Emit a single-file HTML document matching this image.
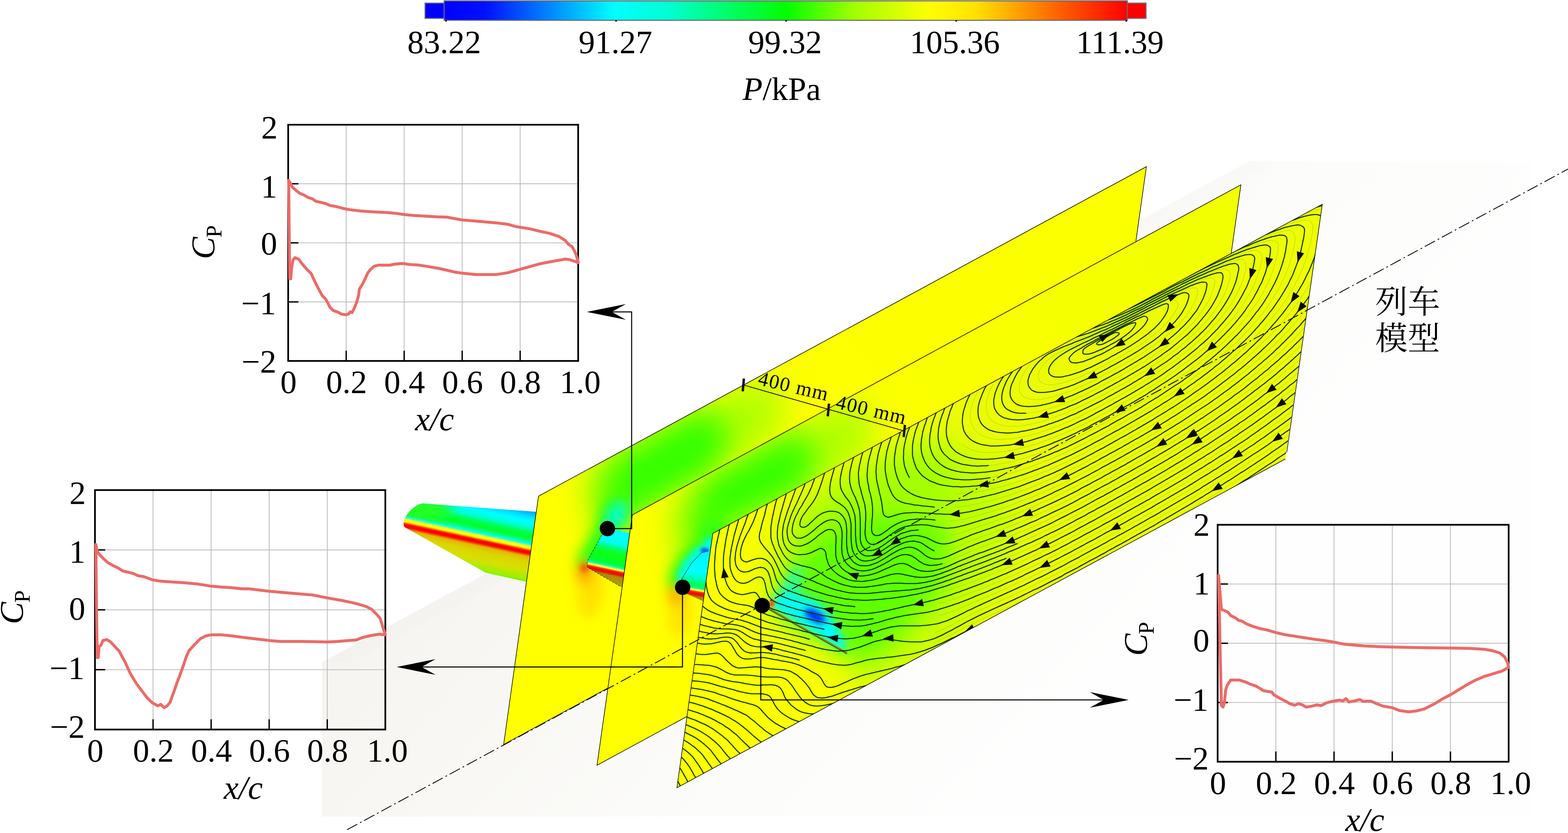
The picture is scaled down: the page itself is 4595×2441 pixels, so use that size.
<!DOCTYPE html>
<html><head><meta charset="utf-8"><title>Figure</title>
<style>html,body{margin:0;padding:0;background:#fff;}body{width:4595px;height:2441px;overflow:hidden;font-family:"Liberation Serif",serif;}svg{display:block;}</style></head>
<body>
<svg width="4595" height="2441" viewBox="0 0 4595 2441">
<defs>
<linearGradient id="gnd" gradientUnits="userSpaceOnUse" x1="1400" y1="1000" x2="2900" y2="2400">
<stop offset="0" stop-color="#f4f2ee"/><stop offset="0.35" stop-color="#f8f7f4"/><stop offset="0.7" stop-color="#fcfcfa"/><stop offset="1" stop-color="#fefefe"/></linearGradient>
<linearGradient id="gnd2" gradientUnits="userSpaceOnUse" x1="3660" y1="473" x2="3700" y2="546">
<stop offset="0" stop-color="#d8d6d0" stop-opacity="0.07"/><stop offset="1" stop-color="#d8d6d0" stop-opacity="0"/></linearGradient>
<clipPath id="cp1"><polygon points="1578.0,1454.0 3359.5,488.4 3257.0,1217.0 1476.0,2181.7"/></clipPath>
<clipPath id="cp2"><polygon points="1853.0,1509.0 3636.4,541.5 3533.0,1275.0 1749.6,2242.5"/></clipPath>
<clipPath id="cp3"><polygon points="2089.0,1563.0 3875.0,598.5 3766.4,1345.2 1983.7,2308.4"/></clipPath>
<filter id="bl60" x="-60%" y="-60%" width="220%" height="220%"><feGaussianBlur stdDeviation="60"/></filter>
<filter id="bl45" x="-60%" y="-60%" width="220%" height="220%"><feGaussianBlur stdDeviation="45"/></filter>
<filter id="bl35" x="-60%" y="-60%" width="220%" height="220%"><feGaussianBlur stdDeviation="35"/></filter>
<filter id="bl18" x="-250%" y="-250%" width="600%" height="600%"><feGaussianBlur stdDeviation="18"/></filter>
<filter id="bl9" x="-250%" y="-250%" width="600%" height="600%"><feGaussianBlur stdDeviation="9"/></filter>
<filter id="bl4" x="-250%" y="-250%" width="600%" height="600%"><feGaussianBlur stdDeviation="4"/></filter>
<linearGradient id="wg0" gradientUnits="userSpaceOnUse" x1="1215.5" y1="1409.9" x2="1166.8" y2="1634.7"><stop offset="0.0000" stop-color="#0080ff"/><stop offset="0.0696" stop-color="#00a8ff"/><stop offset="0.1304" stop-color="#00e0ff"/><stop offset="0.1913" stop-color="#00ffff"/><stop offset="0.2696" stop-color="#00ffd0"/><stop offset="0.3217" stop-color="#00ff60"/><stop offset="0.3913" stop-color="#00ff20"/><stop offset="0.4348" stop-color="#00ff80"/><stop offset="0.4609" stop-color="#00ffe0"/><stop offset="0.4826" stop-color="#40ffc0"/><stop offset="0.5000" stop-color="#f0ff20"/><stop offset="0.5304" stop-color="#ffff00"/><stop offset="0.5478" stop-color="#ff7000"/><stop offset="0.5652" stop-color="#ff0000"/><stop offset="0.5957" stop-color="#ff0000"/><stop offset="0.6130" stop-color="#f05000"/><stop offset="0.6348" stop-color="#e0b800"/><stop offset="0.6957" stop-color="#dcd400"/><stop offset="0.8043" stop-color="#d8e000"/><stop offset="0.9130" stop-color="#a0f000"/><stop offset="1.0000" stop-color="#40ff00"/></linearGradient>
<clipPath id="cpwu"><polygon points="1150,1440 1620,1440 1620,1605.9 1193.1,1513.5 1150,1504.2"/></clipPath>
<clipPath id="cpw"><path d="M1237,1475 L1574,1500 L1543,1705 L1423,1678 L1186,1545 Q1178,1534 1190,1512 Q1208,1484 1237,1475 Z"/></clipPath>
<linearGradient id="pb1" gradientUnits="userSpaceOnUse" x1="1600" y1="1700" x2="3300" y2="800"><stop offset="0" stop-color="#ffff00"/><stop offset="0.45" stop-color="#feff00"/><stop offset="1" stop-color="#fcff00"/></linearGradient>
<linearGradient id="wg1" gradientUnits="userSpaceOnUse" x1="1747.4" y1="1534.8" x2="1706.2" y2="1725.4"><stop offset="0.0000" stop-color="#00ffff"/><stop offset="0.2308" stop-color="#00fff0"/><stop offset="0.3026" stop-color="#00ff70"/><stop offset="0.3949" stop-color="#10ff10"/><stop offset="0.5385" stop-color="#00ff30"/><stop offset="0.5744" stop-color="#00ffa0"/><stop offset="0.6000" stop-color="#d0ff60"/><stop offset="0.6154" stop-color="#ffff20"/><stop offset="0.6359" stop-color="#ff3000"/><stop offset="0.6667" stop-color="#f00000"/><stop offset="0.6923" stop-color="#d83000"/><stop offset="0.7128" stop-color="#b08800"/><stop offset="0.8462" stop-color="#b8a000"/><stop offset="1.0000" stop-color="#c0b000"/></linearGradient>
<linearGradient id="pb2" gradientUnits="userSpaceOnUse" x1="1900" y1="1800" x2="3600" y2="900"><stop offset="0" stop-color="#ffff00"/><stop offset="0.45" stop-color="#fcff00"/><stop offset="1" stop-color="#f2ff00"/></linearGradient>
<linearGradient id="wg2" gradientUnits="userSpaceOnUse" x1="2021.2" y1="1604.9" x2="1993.2" y2="1767.4"><stop offset="0.0000" stop-color="#00f0ff"/><stop offset="0.3939" stop-color="#00ffff"/><stop offset="0.5152" stop-color="#00ffc0"/><stop offset="0.6242" stop-color="#00ff50"/><stop offset="0.6848" stop-color="#00ff80"/><stop offset="0.7091" stop-color="#c0ff60"/><stop offset="0.7273" stop-color="#ffff20"/><stop offset="0.7515" stop-color="#ff3000"/><stop offset="0.7879" stop-color="#f00000"/><stop offset="0.8182" stop-color="#d83000"/><stop offset="0.8424" stop-color="#b08800"/><stop offset="1.0000" stop-color="#b8a000"/></linearGradient>
<linearGradient id="pb3" gradientUnits="userSpaceOnUse" x1="2100" y1="2000" x2="3800" y2="1080"><stop offset="0" stop-color="#ffff00"/><stop offset="0.3" stop-color="#f4fd02"/><stop offset="0.55" stop-color="#ecfb06"/><stop offset="1" stop-color="#eefc04"/></linearGradient>
<linearGradient id="cb" x1="0" y1="0" x2="1" y2="0">
<stop offset="0" stop-color="#0000ff"/><stop offset="0.06" stop-color="#0010ff"/><stop offset="0.25" stop-color="#00ffff"/><stop offset="0.33" stop-color="#00ffd0"/><stop offset="0.5" stop-color="#00ff00"/><stop offset="0.6" stop-color="#a0ff00"/><stop offset="0.71" stop-color="#ffff00"/><stop offset="0.78" stop-color="#ffe000"/><stop offset="0.9" stop-color="#ff6000"/><stop offset="1" stop-color="#ff0000"/></linearGradient>
</defs>
<polygon points="943,1941 3660,473 4485,473 4485,2393 943,2393" fill="url(#gnd)"/>
<polygon points="943,1941 3660,473 3752,473 1035,1941" fill="url(#gnd2)"/>
<g clip-path="url(#cpw)"><rect x="1150" y="1440" width="460" height="300" fill="url(#wg0)"/>
<g clip-path="url(#cpwu)"><ellipse cx="1230" cy="1492" rx="95" ry="40" fill="#20ff20" filter="url(#bl18)"/></g>
</g>
<g clip-path="url(#cp1)">
<polygon points="1578.0,1454.0 3359.5,488.4 3257.0,1217.0 1476.0,2181.7" fill="url(#pb1)"/>
<g filter="url(#bl45)">
<path d="M1745,1580 L1708,1400 L1722,1376 L2230,1100 L2310,1180 L2270,1285 L1853,1509 L1850,1560 L1790,1580 Z" fill="#b4ff00"/>
</g>
<g filter="url(#bl45)">
<path d="M1782,1545 L1762,1430 L1795,1345 L2070,1195 L2140,1270 L2100,1370 L1853,1509 L1850,1550 Z" fill="#30ff00"/>
</g>
<path d="M1800,1490 L1770,1560 L1722,1640" fill="none" stroke="#30ff10" stroke-width="60" stroke-linecap="round" filter="url(#bl18)"/>
<g filter="url(#bl18)">
<ellipse cx="1806.0" cy="1512.0" rx="26.0" ry="46.0" transform="rotate(28.0 1806.0 1512.0)" fill="#00ffd8" />
<ellipse cx="1732.0" cy="1735.0" rx="38.0" ry="78.0" transform="rotate(8.0 1732.0 1735.0)" fill="#ffd400" opacity="0.65"/>
<ellipse cx="1712.0" cy="1680.0" rx="24.0" ry="34.0" transform="rotate(0.0 1712.0 1680.0)" fill="#ffa800" />
</g>
<ellipse cx="1713.0" cy="1664.0" rx="11.0" ry="13.0" transform="rotate(0.0 1713.0 1664.0)" fill="#ff3000" filter="url(#bl9)"/>
</g>
<polygon points="1578.0,1454.0 3359.5,488.4 3257.0,1217.0 1476.0,2181.7" fill="none" stroke="#000" stroke-width="1.7"/>
<path d="M1764,1567 L1780,1549 L1848,1562 L1825,1721 L1819,1719 L1721,1662 L1721,1644 Z" fill="url(#wg1)"/>
<path d="M1764,1567 L1721,1644 L1721,1662 L1819,1719" fill="none" stroke="#223" stroke-width="1.6" stroke-dasharray="7 3" opacity="0.8"/>
<g clip-path="url(#cp2)">
<polygon points="1853.0,1509.0 3636.4,541.5 3533.0,1275.0 1749.6,2242.5" fill="url(#pb2)"/>
<g filter="url(#bl45)">
<path d="M2000,1700 L1964,1530 L1985,1440 L2490,1165 L2570,1245 L2530,1350 L2089,1563 L2085,1610 L2040,1660 Z" fill="#b4ff00"/>
</g>
<g filter="url(#bl45)">
<path d="M2042,1650 L2022,1530 L2060,1410 L2330,1265 L2400,1335 L2350,1430 L2089,1563 L2080,1612 Z" fill="#30ff00"/>
</g>
<path d="M2090,1560 L2075,1610 L2050,1625 L2022,1655 L1998,1696" fill="none" stroke="#30ff10" stroke-width="80" stroke-linecap="round" filter="url(#bl18)"/>
<path d="M2082,1590 L2070,1612 L2048,1622 L2020,1652 L2000,1690" fill="none" stroke="#00ffe0" stroke-width="34" stroke-linecap="round" filter="url(#bl9)"/>
<g filter="url(#bl18)">
<ellipse cx="1992.0" cy="1800.0" rx="34.0" ry="66.0" transform="rotate(6.0 1992.0 1800.0)" fill="#ffd400" opacity="0.65"/>
<ellipse cx="1980.0" cy="1745.0" rx="20.0" ry="30.0" transform="rotate(0.0 1980.0 1745.0)" fill="#ffa000" />
</g>
<ellipse cx="2066.0" cy="1614.0" rx="13.0" ry="8.0" transform="rotate(10.0 2066.0 1614.0)" fill="#0050ff" filter="url(#bl4)"/>
</g>
<polygon points="1853.0,1509.0 3636.4,541.5 3533.0,1275.0 1749.6,2242.5" fill="none" stroke="#000" stroke-width="1.7"/>
<path d="M1996,1700 L2025,1652 L2055,1620 L2076,1615 L2083,1612 L2061,1762 L2019,1743 L2000,1735 Z" fill="url(#wg2)"/>
<path d="M1996,1700 L2025,1652 L2055,1620 L2076,1615" fill="none" stroke="#123" stroke-width="1.6" opacity="0.7"/>
<g clip-path="url(#cp3)">
<polygon points="2089.0,1563.0 3875.0,598.5 3766.4,1345.2 1983.7,2308.4" fill="url(#pb3)"/>
<g filter="url(#bl60)">
<path d="M2270,1660 L2400,1480 L2650,1350 L2900,1330 L2980,1500 L2900,1750 L2700,1950 L2540,2040 L2490,1930 L2250,1790 Z" fill="#c0ff00"/>
</g>
<path d="M2300,1560 L2420,1440 L2640,1325 L2780,1290 L2800,1500 L2500,1620 L2330,1690 Z" fill="#a4ff00" filter="url(#bl45)"/>
<g filter="url(#bl35)">
<path d="M2300,1700 L2400,1570 L2600,1500 L2780,1540 L2770,1720 L2620,1880 L2520,1950 L2490,1920 L2270,1790 Z" fill="#60ff00"/>
</g>
<g filter="url(#bl18)">
<path d="M2262,1766 L2300,1720 L2330,1660 L2350,1665 L2330,1735 L2400,1770 L2445,1830 L2482,1908 Z" fill="#00ffe8"/>
</g>
<path d="M2258,1772 L2290,1750 L2383,1760 L2428,1805 L2470,1877 L2481,1908 Z" fill="#00fff4" filter="url(#bl9)"/>
<ellipse cx="2388.0" cy="1805.0" rx="34.0" ry="15.0" transform="rotate(30.0 2388.0 1805.0)" fill="#0020ff" filter="url(#bl9)"/>
<ellipse cx="2262.0" cy="1768.0" rx="7.0" ry="12.0" transform="rotate(0.0 2262.0 1768.0)" fill="#ff4000" filter="url(#bl4)"/>
<line x1="2252" y1="1783" x2="2482" y2="1914" stroke="#7a8a18" stroke-width="6"/>
<line x1="2252" y1="1785.5" x2="2482" y2="1916.5" stroke="#3a4410" stroke-width="2"/>
<path d="M3292 1040Q3311 1028 3321 1023Q3330 1017 3340 1011Q3349 1004 3359 998Q3368 991 3377 984Q3386 978 3395 970Q3403 962 3412 954Q3420 946 3427 937Q3434 929 3441 918Q3447 908 3451 898Q3455 887 3445 881Q3435 876 3424 880Q3413 885 3403 889Q3393 894 3383 899Q3373 904 3363 909Q3353 914 3343 919Q3333 924 3323 930Q3312 935 3302 940Q3292 945 3282 950Q3272 955 3262 959Q3252 964 3242 969Q3232 973 3222 978Q3212 983 3201 987Q3190 992 3180 997Q3169 1002 3158 1007Q3147 1011 3137 1016Q3127 1021 3117 1026Q3107 1031 3097 1037Q3086 1043 3078 1049Q3069 1056 3061 1064Q3054 1073 3048 1082Q3043 1092 3043 1103Q3043 1115 3052 1121Q3062 1127 3073 1128Q3084 1128 3095 1126Q3106 1124 3117 1121Q3129 1118 3139 1114Q3150 1111 3161 1106Q3171 1102 3182 1097Q3193 1092 3203 1087Q3213 1082 3223 1077Q3233 1072 3244 1066Q3254 1061 3264 1055Q3274 1050 3283 1045L3292 1040 M3317 1054Q3336 1042 3345 1036Q3355 1030 3364 1024Q3374 1017 3383 1011Q3392 1004 3401 997Q3410 991 3419 983Q3428 976 3436 968Q3445 961 3453 952Q3461 944 3468 936Q3475 927 3482 917Q3489 908 3494 898Q3500 888 3504 877Q3508 867 3510 855Q3513 844 3501 844Q3489 843 3478 847Q3468 852 3457 856Q3446 861 3436 866Q3426 870 3416 875Q3406 880 3396 885Q3386 890 3376 895Q3366 901 3356 906Q3345 911 3335 916Q3325 921 3315 926Q3305 931 3295 936Q3285 941 3275 945Q3265 950 3254 955Q3243 960 3233 964Q3222 969 3211 973Q3200 978 3190 982Q3179 986 3168 990Q3157 993 3147 997Q3136 1000 3126 1004Q3115 1007 3104 1011Q3094 1015 3083 1019Q3072 1023 3062 1029Q3052 1035 3043 1042Q3034 1049 3026 1058Q3018 1066 3011 1076Q3004 1086 2999 1096Q2993 1105 2990 1116Q2986 1126 2987 1138Q2987 1149 2994 1157Q3002 1165 3013 1168Q3023 1171 3035 1171Q3046 1171 3057 1169Q3069 1167 3080 1164Q3091 1161 3102 1158Q3112 1155 3123 1151Q3134 1147 3145 1143Q3155 1138 3166 1133Q3177 1129 3187 1124Q3197 1119 3207 1114Q3217 1109 3227 1103Q3237 1098 3248 1092Q3258 1087 3268 1081Q3278 1076 3288 1070Q3298 1064 3308 1059L3317 1054 M2984 1066Q2970 1085 2963 1095Q2957 1105 2951 1115Q2945 1126 2942 1137Q2938 1147 2937 1158Q2935 1169 2939 1180Q2942 1190 2951 1198Q2960 1205 2971 1208Q2982 1211 2993 1211Q3005 1211 3016 1210Q3027 1209 3038 1207Q3049 1204 3061 1201Q3072 1198 3082 1195Q3093 1192 3104 1188Q3114 1184 3125 1180Q3136 1176 3147 1171Q3158 1166 3168 1162Q3178 1157 3188 1152Q3198 1147 3208 1142Q3218 1137 3228 1131Q3238 1126 3248 1120Q3258 1115 3269 1109Q3279 1104 3289 1098Q3299 1092 3309 1086Q3319 1080 3330 1074Q3340 1068 3349 1062Q3359 1056 3368 1050Q3378 1044 3387 1037Q3397 1031 3406 1024Q3415 1018 3424 1011Q3433 1003 3442 996Q3451 989 3460 981Q3468 974 3476 966Q3484 958 3492 950Q3500 941 3508 932Q3515 923 3522 913Q3529 903 3535 893Q3541 883 3546 873Q3551 862 3554 851Q3558 840 3560 828Q3562 817 3551 815Q3540 814 3530 817Q3519 821 3508 825Q3497 829 3487 834Q3476 839 3466 844Q3456 848 3446 853Q3436 858 3426 863Q3416 868 3405 873Q3395 878 3385 883Q3375 889 3365 894Q3355 899 3345 904Q3335 910 3325 914Q3315 919 3305 924Q3295 929 3284 934Q3274 938 3263 943Q3253 947 3242 952Q3231 956 3221 960Q3210 964 3199 967Q3189 971 3178 974Q3168 977 3156 980Q3145 983 3139 984L3133 985 M2929 1096Q2917 1114 2911 1124Q2906 1134 2901 1144Q2897 1154 2894 1165Q2890 1176 2890 1188Q2889 1199 2892 1210Q2895 1221 2904 1230Q2912 1238 2922 1242Q2933 1246 2944 1248Q2955 1250 2967 1249Q2979 1249 2990 1248Q3001 1247 3012 1245Q3024 1242 3035 1240Q3046 1237 3057 1234Q3067 1230 3078 1227Q3089 1223 3099 1219Q3110 1215 3121 1211Q3132 1206 3142 1202Q3153 1197 3163 1192Q3173 1188 3183 1183Q3193 1178 3203 1173Q3213 1167 3224 1162Q3234 1156 3244 1151Q3254 1145 3264 1140Q3274 1134 3284 1129Q3295 1123 3305 1117Q3315 1111 3325 1105Q3335 1099 3345 1093Q3354 1088 3364 1082Q3373 1076 3383 1069Q3392 1063 3402 1057Q3411 1050 3421 1043Q3430 1036 3439 1029Q3448 1023 3457 1016Q3465 1008 3474 1001Q3483 993 3492 985Q3501 977 3509 968Q3518 960 3526 951Q3534 942 3542 933Q3549 924 3556 915Q3563 905 3569 896Q3575 887 3581 876Q3587 865 3591 855Q3595 845 3599 834Q3603 822 3605 811Q3608 799 3599 792Q3589 786 3578 789Q3567 792 3556 796Q3545 800 3535 805Q3524 809 3513 814Q3502 819 3492 823Q3482 828 3472 833Q3462 838 3452 843Q3442 848 3432 853Q3422 858 3412 863Q3402 868 3391 873Q3381 879 3371 884Q3361 889 3351 894Q3341 900 3331 905Q3321 909 3311 914Q3301 919 3290 924Q3279 928 3268 933Q3258 937 3247 941Q3236 945 3225 949Q3215 952 3204 956Q3194 959 3184 961L3174 963 M2878 1123Q2867 1143 2862 1153Q2856 1164 2853 1174Q2849 1185 2846 1197Q2844 1208 2843 1220Q2843 1231 2847 1242Q2850 1253 2858 1261Q2865 1270 2875 1275Q2886 1281 2897 1284Q2908 1286 2919 1287Q2930 1288 2942 1287Q2953 1287 2964 1286Q2975 1284 2987 1282Q2998 1280 3009 1278Q3020 1275 3032 1272Q3043 1268 3054 1265Q3064 1262 3075 1258Q3086 1254 3096 1250Q3107 1246 3118 1241Q3129 1237 3140 1232Q3150 1227 3160 1222Q3170 1217 3180 1212Q3191 1207 3201 1202Q3211 1197 3221 1192Q3231 1186 3241 1181Q3251 1175 3261 1170Q3272 1164 3282 1158Q3292 1153 3302 1147Q3312 1141 3323 1135Q3333 1129 3343 1123Q3353 1117 3363 1111Q3372 1105 3381 1099Q3391 1093 3400 1086Q3410 1080 3419 1073Q3429 1067 3438 1060Q3448 1053 3457 1046Q3466 1039 3474 1032Q3483 1025 3492 1018Q3501 1010 3510 1002Q3519 994 3527 986Q3535 978 3543 970Q3552 962 3559 953Q3566 945 3573 937Q3581 928 3588 919Q3595 909 3602 899Q3609 889 3615 879Q3621 869 3626 858Q3631 848 3636 837Q3640 826 3644 815Q3647 803 3650 792Q3653 780 3649 769Q3646 758 3635 760Q3624 761 3614 764Q3603 768 3592 772Q3582 776 3571 780Q3560 784 3549 789Q3538 794 3528 799Q3518 803 3508 808Q3498 813 3488 818Q3478 822 3468 827Q3458 832 3448 837Q3438 843 3428 848Q3418 853 3408 858Q3398 863 3387 869Q3377 874 3367 879Q3357 885 3347 890Q3337 895 3327 900Q3317 904 3306 909Q3295 914 3284 919Q3274 923 3263 927Q3252 931 3242 934Q3231 938 3221 941L3210 944 M2819 1302Q2837 1314 2847 1318Q2858 1322 2869 1324Q2880 1325 2891 1326Q2902 1326 2913 1326Q2924 1325 2935 1324Q2947 1323 2958 1321Q2969 1319 2980 1316Q2991 1314 3002 1311Q3013 1308 3024 1305Q3035 1302 3046 1298Q3057 1294 3067 1290Q3078 1286 3089 1282Q3099 1278 3110 1273Q3121 1269 3132 1264Q3143 1259 3153 1254Q3163 1250 3173 1245Q3183 1240 3193 1235Q3203 1229 3213 1224Q3223 1219 3233 1213Q3244 1208 3254 1202Q3264 1196 3274 1191Q3284 1185 3294 1179Q3304 1174 3315 1168Q3325 1162 3335 1156Q3345 1150 3356 1144Q3366 1137 3375 1131Q3385 1125 3394 1119Q3404 1113 3413 1107Q3422 1101 3432 1094Q3442 1087 3451 1080Q3461 1073 3470 1066Q3480 1059 3489 1052Q3497 1045 3506 1038Q3515 1031 3524 1023Q3532 1016 3541 1008Q3549 1000 3557 993Q3565 985 3574 976Q3582 968 3590 959Q3598 950 3606 941Q3614 932 3621 922Q3628 913 3635 903Q3642 893 3648 883Q3655 873 3660 863Q3666 853 3671 843Q3676 833 3680 822Q3684 812 3687 801Q3691 790 3694 779Q3696 768 3698 757Q3700 746 3692 739Q3683 731 3672 734Q3661 736 3650 739Q3639 743 3629 747Q3618 751 3607 755Q3596 760 3586 764Q3575 769 3564 774Q3553 779 3543 784Q3533 788 3523 793Q3513 798 3503 803Q3493 808 3483 813Q3473 818 3463 823Q3452 828 3442 833Q3432 838 3422 844Q3412 849 3402 854Q3392 859 3382 865Q3372 870 3362 875Q3351 881 3341 886Q3331 891 3321 895Q3311 900 3300 904Q3290 909 3279 913Q3268 917 3258 921Q3247 924 3246 924L3246 924 M2811 1358Q2832 1363 2844 1364Q2855 1365 2866 1365Q2878 1366 2889 1365Q2900 1364 2911 1363Q2922 1361 2933 1359Q2944 1357 2956 1355Q2967 1352 2979 1349Q2990 1346 3000 1343Q3011 1340 3022 1336Q3032 1333 3043 1329Q3054 1325 3064 1321Q3075 1317 3086 1313Q3097 1308 3107 1304Q3118 1299 3129 1294Q3140 1289 3150 1285Q3160 1280 3170 1275Q3180 1270 3190 1264Q3200 1259 3210 1254Q3221 1248 3231 1243Q3241 1237 3251 1232Q3261 1226 3271 1220Q3281 1215 3292 1209Q3302 1203 3312 1198Q3322 1192 3332 1186Q3343 1180 3353 1174Q3363 1167 3372 1162Q3382 1156 3391 1150Q3401 1144 3410 1138Q3420 1132 3429 1125Q3438 1119 3448 1112Q3458 1106 3467 1099Q3477 1092 3486 1085Q3496 1078 3505 1071Q3513 1064 3522 1057Q3531 1050 3540 1043Q3549 1035 3558 1027Q3566 1020 3575 1012Q3583 1004 3591 996Q3599 989 3607 980Q3615 972 3624 963Q3632 953 3640 945Q3647 936 3655 926Q3662 916 3669 907Q3676 898 3683 888Q3689 878 3695 869Q3700 859 3706 849Q3711 839 3716 829Q3721 818 3725 808Q3729 797 3733 785Q3736 774 3739 763Q3742 752 3744 741Q3746 729 3746 718Q3746 707 3735 706Q3724 704 3713 706Q3702 709 3691 712Q3681 716 3670 720Q3659 724 3648 728Q3638 733 3627 737Q3616 742 3605 747Q3594 751 3584 756Q3574 761 3564 765Q3554 770 3544 775Q3534 780 3524 785Q3514 790 3504 795Q3494 800 3484 805Q3474 810 3464 815Q3454 820 3443 826Q3433 831 3423 836Q3413 841 3403 847Q3393 852 3383 857Q3373 863 3363 868Q3352 873 3342 878Q3332 883 3322 888Q3312 892 3301 897Q3291 901 3289 902L3287 903 M2804 1405Q2827 1406 2839 1406Q2851 1406 2862 1405Q2873 1404 2884 1402Q2895 1401 2906 1399Q2917 1397 2928 1394Q2940 1392 2951 1389Q2962 1386 2974 1383Q2985 1379 2996 1376Q3006 1372 3017 1369Q3028 1365 3038 1361Q3048 1357 3059 1353Q3069 1349 3080 1345Q3090 1340 3101 1336Q3112 1331 3122 1326Q3132 1322 3142 1317Q3152 1312 3162 1307Q3172 1302 3182 1297Q3192 1291 3203 1286Q3213 1281 3223 1275Q3233 1270 3243 1264Q3253 1259 3263 1253Q3274 1247 3284 1242Q3294 1236 3304 1230Q3314 1225 3324 1219Q3335 1213 3345 1207Q3355 1201 3365 1195Q3376 1188 3385 1183Q3394 1177 3404 1171Q3413 1165 3423 1159Q3432 1153 3442 1146Q3451 1140 3461 1133Q3470 1127 3480 1120Q3489 1113 3499 1106Q3508 1099 3518 1092Q3527 1085 3536 1078Q3545 1071 3554 1064Q3563 1057 3572 1049Q3580 1042 3589 1034Q3598 1027 3606 1019Q3614 1011 3623 1003Q3631 995 3639 987Q3647 979 3655 970Q3664 961 3671 952Q3679 944 3686 935Q3694 925 3701 917Q3707 908 3714 898Q3721 889 3727 879Q3733 870 3739 860Q3745 849 3751 839Q3756 829 3761 818Q3766 808 3770 797Q3775 786 3779 774Q3782 763 3785 752Q3788 741 3791 729Q3793 718 3795 706Q3797 695 3792 685Q3788 675 3776 675Q3764 676 3753 679Q3742 682 3731 685Q3720 689 3710 693Q3699 697 3688 701Q3677 706 3667 710Q3656 715 3646 719Q3636 724 3626 728Q3616 733 3606 738Q3596 742 3586 747Q3576 752 3566 757Q3556 762 3545 767Q3535 772 3525 777Q3515 782 3505 787Q3495 792 3485 797Q3475 802 3465 808Q3455 813 3445 818Q3434 823 3424 829Q3414 834 3404 839Q3394 845 3388 848L3383 850 M2798 1447Q2820 1446 2832 1445Q2843 1444 2854 1443Q2866 1441 2877 1439Q2888 1437 2899 1435Q2910 1432 2921 1429Q2932 1427 2943 1424Q2954 1421 2965 1417Q2976 1414 2986 1410Q2997 1407 3007 1403Q3018 1399 3029 1395Q3040 1391 3050 1386Q3061 1382 3072 1378Q3083 1373 3093 1368Q3104 1363 3114 1359Q3124 1354 3134 1349Q3144 1344 3154 1339Q3165 1334 3175 1329Q3185 1324 3195 1318Q3205 1313 3215 1308Q3225 1302 3235 1297Q3245 1291 3256 1286Q3266 1280 3276 1274Q3286 1269 3296 1263Q3306 1257 3317 1251Q3327 1246 3337 1240Q3347 1234 3357 1228Q3368 1222 3378 1216Q3388 1209 3397 1204Q3407 1198 3416 1192Q3426 1186 3435 1180Q3445 1174 3454 1167Q3464 1161 3473 1155Q3483 1148 3492 1142Q3502 1135 3511 1128Q3521 1121 3530 1115Q3539 1108 3548 1101Q3557 1094 3566 1087Q3575 1080 3584 1073Q3593 1065 3601 1058Q3610 1051 3619 1043Q3628 1035 3637 1027Q3646 1018 3654 1011Q3662 1003 3671 995Q3679 987 3687 978Q3695 969 3703 961Q3710 953 3717 944Q3725 936 3732 927Q3739 918 3747 908Q3754 899 3761 889Q3767 879 3774 870Q3780 860 3786 850Q3792 840 3797 829Q3803 819 3808 808Q3813 798 3817 787Q3821 777 3825 766Q3829 755 3832 744Q3835 733 3838 722Q3841 711 3843 699Q3845 688 3847 677Q3849 666 3845 655Q3840 645 3829 645Q3817 645 3806 648Q3795 650 3784 654Q3773 657 3763 661Q3752 665 3741 669Q3730 673 3720 678Q3709 682 3698 687Q3687 692 3676 697Q3666 701 3656 706Q3646 711 3635 715Q3625 720 3620 723L3615 725 M2792 1487Q2814 1485 2825 1484Q2836 1482 2848 1480Q2859 1478 2870 1475Q2881 1473 2893 1470Q2904 1467 2915 1464Q2927 1461 2937 1457Q2948 1454 2959 1451Q2969 1447 2980 1443Q2991 1440 3001 1436Q3012 1432 3023 1427Q3033 1423 3044 1419Q3055 1414 3066 1409Q3077 1405 3087 1400Q3098 1395 3108 1390Q3118 1386 3128 1381Q3138 1376 3148 1371Q3158 1366 3169 1361Q3179 1355 3189 1350Q3199 1345 3209 1339Q3219 1334 3229 1328Q3239 1323 3250 1317Q3260 1312 3270 1306Q3280 1300 3290 1295Q3300 1289 3310 1283Q3321 1277 3331 1272Q3341 1266 3351 1260Q3361 1254 3372 1248Q3382 1242 3392 1235Q3402 1229 3412 1223Q3421 1218 3431 1212Q3440 1206 3449 1200Q3459 1194 3468 1187Q3478 1181 3487 1175Q3497 1168 3506 1162Q3516 1155 3525 1149Q3535 1142 3544 1135Q3554 1128 3564 1121Q3573 1113 3582 1107Q3591 1100 3599 1093Q3608 1086 3617 1079Q3626 1072 3635 1064Q3644 1057 3653 1049Q3661 1041 3670 1033Q3678 1026 3686 1018Q3695 1010 3703 1001Q3712 993 3720 985Q3728 977 3736 968Q3743 960 3751 952Q3758 943 3766 934Q3773 925 3781 916Q3788 907 3795 897Q3802 888 3809 878Q3816 868 3822 858Q3828 849 3834 839Q3839 830 3845 819Q3851 808 3856 798Q3861 787 3865 777Q3870 766 3873 756Q3877 745 3881 734Q3884 723 3887 712Q3890 701 3892 690Q3895 678 3897 667Q3899 655 3901 644Q3902 633 3897 623Q3892 613 3880 614Q3869 614 3858 616Q3847 619 3836 622Q3825 626 3814 629Q3803 633 3792 637Q3782 642 3771 646Q3760 650 3749 655Q3739 660 3733 662L3727 665 M2786 1527Q2809 1524 2820 1522Q2831 1520 2842 1517Q2853 1514 2864 1511Q2875 1508 2885 1505Q2896 1502 2906 1499Q2917 1496 2928 1492Q2938 1489 2949 1485Q2960 1481 2970 1477Q2981 1474 2992 1469Q3002 1465 3013 1461Q3024 1457 3035 1452Q3045 1448 3056 1443Q3067 1438 3078 1433Q3089 1428 3099 1424Q3109 1419 3119 1414Q3129 1409 3139 1404Q3149 1399 3159 1394Q3169 1389 3179 1383Q3189 1378 3200 1372Q3210 1367 3220 1361Q3230 1356 3240 1350Q3250 1345 3260 1339Q3270 1334 3281 1328Q3291 1322 3301 1317Q3311 1311 3321 1305Q3331 1300 3342 1294Q3352 1288 3362 1282Q3372 1276 3382 1270Q3393 1264 3403 1258Q3413 1251 3423 1246Q3432 1240 3441 1234Q3451 1228 3460 1222Q3470 1216 3479 1210Q3489 1204 3498 1197Q3507 1191 3517 1184Q3526 1178 3536 1171Q3546 1165 3555 1158Q3565 1151 3574 1144Q3584 1137 3593 1130Q3602 1123 3611 1116Q3620 1109 3629 1102Q3638 1095 3647 1088Q3656 1081 3664 1073Q3673 1066 3681 1059Q3689 1052 3698 1044Q3707 1036 3715 1028Q3724 1021 3732 1013Q3740 1005 3748 997Q3756 989 3764 980Q3773 971 3781 963Q3788 954 3796 945Q3804 936 3812 927Q3819 918 3827 908Q3835 899 3841 889Q3848 880 3855 870Q3862 860 3867 852L3872 845 M3910 584Q3887 591 3877 594Q3866 597 3855 601Q3845 605 3834 609Q3823 614 3820 615L3816 616 M2780 1570Q2803 1566 2813 1562Q2824 1559 2835 1555Q2845 1551 2856 1548Q2867 1544 2877 1540Q2888 1537 2898 1533Q2909 1530 2920 1526Q2930 1522 2941 1519Q2952 1515 2962 1511Q2973 1507 2984 1503Q2995 1498 3005 1494Q3016 1489 3027 1485Q3038 1480 3048 1475Q3059 1471 3070 1466Q3081 1461 3091 1456Q3101 1451 3111 1446Q3121 1441 3131 1436Q3141 1431 3151 1426Q3161 1421 3171 1416Q3182 1410 3192 1405Q3202 1399 3212 1394Q3222 1388 3232 1383Q3242 1377 3253 1372Q3263 1366 3273 1361Q3283 1355 3293 1349Q3303 1344 3313 1338Q3324 1332 3334 1326Q3344 1321 3354 1315Q3364 1309 3375 1303Q3385 1297 3395 1291Q3405 1285 3415 1279Q3426 1272 3435 1267Q3444 1261 3454 1255Q3463 1249 3473 1243Q3482 1237 3492 1231Q3501 1225 3510 1218Q3520 1212 3529 1206Q3539 1199 3548 1193Q3557 1187 3567 1180Q3577 1173 3587 1166Q3596 1159 3605 1152Q3614 1146 3624 1139Q3633 1132 3642 1125Q3650 1118 3659 1111Q3668 1104 3677 1097Q3686 1090 3694 1082Q3703 1075 3712 1067Q3721 1060 3730 1052Q3739 1044 3747 1036Q3755 1029 3763 1021Q3771 1013 3779 1005Q3787 998 3796 989Q3804 980 3812 972Q3821 963 3828 955Q3835 946 3843 938Q3850 929 3856 922L3862 916 M2774 1614Q2795 1607 2806 1602Q2817 1597 2828 1592Q2839 1587 2849 1583Q2860 1579 2871 1575Q2881 1571 2892 1567Q2903 1563 2913 1559Q2924 1556 2935 1552Q2945 1548 2956 1543Q2967 1539 2978 1535Q2988 1531 2999 1526Q3010 1522 3021 1517Q3031 1512 3042 1507Q3053 1502 3063 1498Q3073 1493 3083 1488Q3093 1484 3103 1479Q3113 1474 3123 1469Q3133 1464 3144 1459Q3154 1453 3164 1448Q3174 1443 3184 1437Q3194 1432 3204 1426Q3214 1421 3224 1415Q3235 1410 3245 1404Q3255 1399 3265 1393Q3275 1388 3285 1382Q3295 1376 3306 1371Q3316 1365 3326 1359Q3336 1353 3346 1348Q3356 1342 3367 1336Q3377 1330 3387 1324Q3397 1318 3407 1312Q3418 1306 3428 1300Q3438 1293 3448 1288Q3457 1282 3466 1276Q3476 1270 3485 1264Q3495 1258 3504 1252Q3514 1246 3523 1240Q3532 1233 3542 1227Q3551 1221 3561 1214Q3570 1208 3580 1201Q3589 1195 3599 1188Q3608 1181 3618 1174Q3628 1167 3637 1160Q3647 1153 3656 1146Q3666 1138 3675 1131Q3684 1125 3692 1117Q3701 1110 3710 1103Q3719 1096 3727 1089Q3736 1082 3745 1074Q3754 1066 3763 1058Q3772 1050 3780 1043Q3788 1035 3796 1027Q3805 1020 3813 1012Q3821 1004 3829 996Q3837 988 3845 979L3854 970 M2769 1649Q2791 1640 2801 1635Q2811 1631 2821 1626Q2832 1621 2843 1617Q2854 1612 2864 1608Q2875 1604 2886 1600Q2896 1596 2907 1592Q2918 1588 2929 1584Q2939 1580 2950 1576Q2961 1572 2971 1567Q2982 1563 2993 1558Q3004 1554 3015 1549Q3025 1544 3036 1539Q3046 1535 3056 1530Q3067 1525 3077 1520Q3087 1515 3097 1510Q3107 1505 3117 1500Q3127 1495 3137 1490Q3148 1485 3158 1480Q3168 1474 3178 1469Q3188 1463 3198 1458Q3208 1452 3218 1447Q3229 1441 3239 1436Q3249 1430 3259 1425Q3269 1419 3279 1414Q3289 1408 3300 1402Q3310 1397 3320 1391Q3330 1385 3340 1379Q3350 1374 3361 1368Q3371 1362 3381 1356Q3391 1350 3401 1344Q3411 1338 3422 1332Q3432 1326 3442 1320Q3452 1314 3461 1308Q3471 1302 3481 1296Q3490 1290 3499 1284Q3509 1278 3518 1272Q3528 1266 3537 1260Q3547 1254 3556 1247Q3566 1241 3575 1235Q3585 1228 3594 1222Q3604 1215 3613 1208Q3623 1202 3632 1195Q3642 1188 3651 1181Q3661 1174 3670 1167Q3679 1160 3688 1153Q3698 1146 3706 1139Q3715 1132 3724 1125Q3733 1118 3742 1111Q3750 1104 3759 1096Q3768 1089 3777 1081Q3786 1074 3795 1066Q3804 1058 3813 1050Q3822 1041 3830 1034Q3838 1026 3842 1022L3847 1018 M2765 1678Q2786 1670 2797 1665Q2808 1661 2818 1656Q2828 1652 2839 1648Q2849 1644 2860 1640Q2870 1636 2881 1632Q2892 1628 2903 1624Q2913 1620 2924 1616Q2935 1612 2945 1608Q2956 1603 2967 1599Q2978 1594 2988 1589Q2999 1585 3010 1580Q3021 1575 3031 1571Q3041 1566 3051 1561Q3061 1557 3071 1552Q3081 1547 3091 1542Q3101 1537 3111 1532Q3121 1527 3131 1522Q3141 1516 3152 1511Q3162 1506 3172 1500Q3182 1495 3192 1489Q3202 1484 3212 1478Q3222 1473 3233 1467Q3243 1462 3253 1456Q3263 1451 3273 1445Q3283 1440 3293 1434Q3304 1428 3314 1423Q3324 1417 3334 1411Q3344 1405 3354 1400Q3365 1394 3375 1388Q3385 1382 3395 1376Q3405 1370 3416 1364Q3426 1358 3436 1352Q3445 1346 3455 1340Q3465 1334 3474 1329Q3484 1323 3493 1317Q3503 1311 3512 1305Q3521 1299 3531 1293Q3540 1287 3550 1281Q3559 1275 3569 1269Q3578 1262 3588 1256Q3597 1249 3607 1243Q3616 1236 3625 1230Q3635 1224 3644 1217Q3654 1210 3664 1203Q3673 1196 3683 1189Q3692 1182 3702 1174Q3712 1167 3720 1161Q3729 1154 3738 1147Q3747 1140 3755 1133Q3764 1126 3773 1119Q3782 1112 3790 1104Q3799 1097 3808 1089Q3817 1081 3826 1074Q3835 1066 3838 1063L3841 1061 M2761 1707Q2782 1699 2793 1695Q2803 1691 2814 1688Q2825 1684 2835 1680Q2846 1676 2857 1672Q2867 1668 2878 1664Q2889 1660 2900 1656Q2910 1651 2921 1647Q2932 1643 2943 1638Q2953 1634 2964 1629Q2975 1625 2986 1620Q2996 1615 3007 1610Q3018 1605 3028 1601Q3038 1596 3048 1591Q3058 1587 3068 1582Q3078 1577 3088 1572Q3098 1567 3108 1562Q3119 1557 3128 1551Q3138 1546 3149 1541Q3159 1535 3169 1530Q3179 1525 3189 1519Q3199 1514 3210 1508Q3220 1503 3230 1497Q3240 1492 3250 1486Q3260 1481 3270 1475Q3281 1469 3291 1464Q3301 1458 3311 1452Q3321 1447 3331 1441Q3341 1435 3352 1429Q3362 1424 3372 1418Q3382 1412 3392 1406Q3402 1400 3412 1395Q3421 1389 3431 1383Q3442 1377 3452 1371Q3462 1365 3472 1359Q3483 1352 3492 1346Q3501 1341 3511 1335Q3520 1329 3530 1323Q3539 1317 3548 1311Q3558 1305 3567 1299Q3577 1293 3586 1286Q3596 1280 3605 1274Q3615 1267 3624 1261Q3634 1254 3643 1248Q3653 1241 3662 1234Q3672 1228 3681 1221Q3691 1214 3700 1207Q3710 1200 3720 1193Q3729 1186 3739 1178Q3748 1171 3757 1164Q3766 1157 3775 1151Q3783 1144 3792 1136Q3801 1129 3810 1122Q3819 1115 3827 1108L3835 1101 M2756 1737Q2778 1730 2788 1727Q2799 1723 2809 1719Q2820 1716 2831 1712Q2841 1708 2852 1704Q2863 1700 2874 1696Q2884 1692 2895 1687Q2906 1683 2917 1679Q2927 1674 2938 1670Q2949 1665 2959 1661Q2970 1656 2980 1652Q2990 1647 3001 1642Q3012 1637 3022 1632Q3032 1628 3042 1623Q3052 1618 3062 1613Q3072 1608 3082 1603Q3092 1598 3102 1593Q3112 1588 3123 1583Q3133 1578 3143 1572Q3153 1567 3163 1561Q3173 1556 3183 1551Q3193 1545 3203 1540Q3214 1534 3224 1529Q3234 1523 3244 1518Q3254 1512 3264 1506Q3274 1501 3285 1495Q3295 1490 3305 1484Q3315 1478 3325 1473Q3335 1467 3345 1461Q3356 1455 3366 1450Q3376 1444 3386 1438Q3396 1432 3407 1426Q3417 1420 3427 1414Q3437 1408 3447 1402Q3458 1396 3468 1390Q3478 1384 3488 1377Q3498 1371 3508 1365Q3517 1360 3527 1354Q3536 1348 3546 1342Q3555 1336 3564 1330Q3574 1324 3583 1318Q3593 1312 3602 1305Q3612 1299 3621 1293Q3631 1286 3640 1280Q3649 1274 3659 1267Q3669 1260 3678 1254Q3688 1247 3697 1240Q3707 1233 3716 1226Q3726 1219 3735 1212Q3745 1205 3754 1198Q3763 1192 3772 1185Q3782 1178 3790 1171Q3799 1164 3808 1157Q3817 1150 3823 1145L3829 1140 M2752 1769Q2773 1763 2784 1759Q2794 1756 2805 1752Q2815 1748 2826 1744Q2837 1740 2848 1736Q2858 1732 2869 1728Q2880 1724 2890 1719Q2901 1715 2912 1710Q2923 1706 2934 1701Q2944 1697 2955 1692Q2966 1687 2977 1682Q2988 1677 2998 1673Q3008 1668 3018 1663Q3028 1659 3038 1654Q3048 1649 3058 1644Q3068 1639 3078 1634Q3088 1629 3098 1624Q3108 1619 3118 1613Q3128 1608 3138 1603Q3148 1597 3159 1592Q3169 1587 3179 1581Q3189 1576 3199 1570Q3209 1565 3219 1559Q3229 1554 3240 1548Q3250 1543 3260 1537Q3270 1531 3280 1526Q3290 1520 3300 1515Q3311 1509 3321 1503Q3331 1498 3341 1492Q3351 1486 3361 1480Q3372 1475 3382 1469Q3392 1463 3402 1457Q3412 1451 3422 1445Q3433 1439 3443 1433Q3453 1427 3463 1421Q3473 1415 3484 1409Q3494 1403 3504 1396Q3514 1390 3524 1384Q3533 1379 3543 1373Q3552 1367 3561 1361Q3571 1355 3580 1349Q3590 1343 3599 1337Q3609 1330 3618 1324Q3628 1318 3637 1312Q3646 1305 3656 1299Q3665 1293 3675 1286Q3684 1279 3694 1273Q3703 1266 3712 1260Q3721 1253 3731 1247Q3740 1240 3749 1233Q3759 1227 3767 1220Q3776 1213 3786 1206Q3796 1199 3804 1192Q3813 1185 3818 1181L3824 1177 M2747 1805Q2768 1799 2778 1796Q2789 1792 2800 1788Q2810 1784 2821 1779Q2832 1775 2843 1770Q2853 1765 2864 1761Q2875 1756 2886 1751Q2897 1747 2907 1742Q2918 1737 2929 1733Q2940 1728 2951 1723Q2961 1718 2972 1713Q2983 1708 2993 1704Q3003 1699 3013 1694Q3023 1689 3033 1685Q3043 1680 3053 1675Q3063 1670 3073 1665Q3083 1660 3094 1654Q3104 1649 3114 1644Q3124 1639 3134 1633Q3144 1628 3154 1623Q3164 1617 3174 1612Q3185 1606 3195 1601Q3205 1595 3215 1590Q3225 1584 3235 1579Q3245 1573 3255 1568Q3266 1562 3276 1557Q3286 1551 3296 1545Q3306 1540 3316 1534Q3326 1528 3337 1523Q3347 1517 3357 1511Q3367 1505 3377 1500Q3387 1494 3398 1488Q3408 1482 3418 1476Q3428 1470 3438 1464Q3449 1458 3459 1452Q3469 1446 3479 1440Q3489 1434 3500 1428Q3510 1422 3519 1416Q3529 1410 3538 1404Q3547 1399 3557 1393Q3566 1387 3576 1381Q3585 1375 3594 1369Q3604 1363 3613 1357Q3623 1351 3632 1344Q3642 1338 3651 1332Q3660 1326 3670 1319Q3680 1313 3689 1306Q3699 1300 3708 1293Q3718 1287 3727 1280Q3737 1273 3746 1266Q3756 1260 3765 1253Q3775 1246 3784 1239Q3794 1232 3803 1225Q3812 1218 3815 1216L3818 1213 M2740 1854Q2761 1846 2771 1841Q2781 1836 2791 1831Q2801 1825 2812 1819Q2822 1814 2832 1808Q2842 1803 2852 1798Q2862 1793 2872 1788Q2882 1783 2892 1779Q2902 1774 2913 1769Q2924 1764 2935 1759Q2945 1754 2956 1750Q2967 1745 2977 1740Q2987 1735 2997 1731Q3007 1726 3017 1721Q3027 1716 3037 1711Q3047 1706 3057 1701Q3067 1696 3077 1691Q3087 1686 3098 1681Q3108 1676 3118 1670Q3128 1665 3138 1660Q3148 1654 3158 1649Q3168 1643 3178 1638Q3189 1632 3199 1627Q3209 1621 3219 1616Q3229 1610 3239 1605Q3249 1599 3259 1594Q3269 1588 3280 1583Q3290 1577 3300 1571Q3310 1566 3320 1560Q3330 1554 3341 1549Q3351 1543 3361 1537Q3371 1531 3381 1526Q3391 1520 3402 1514Q3412 1508 3422 1502Q3432 1496 3442 1490Q3453 1484 3463 1478Q3473 1472 3483 1466Q3493 1460 3504 1454Q3514 1448 3524 1442Q3534 1435 3544 1430Q3553 1424 3562 1418Q3572 1412 3581 1406Q3591 1400 3600 1394Q3610 1388 3619 1382Q3628 1376 3638 1370Q3647 1364 3657 1358Q3666 1351 3676 1345Q3685 1339 3694 1333Q3703 1326 3713 1320Q3723 1313 3733 1306Q3742 1300 3752 1293Q3761 1286 3771 1279Q3780 1273 3790 1266Q3799 1259 3806 1254L3813 1249 M2735 1885Q2757 1875 2767 1870Q2777 1865 2787 1860Q2797 1855 2807 1849Q2817 1844 2827 1839Q2838 1834 2848 1829Q2858 1824 2868 1819Q2878 1814 2888 1809Q2899 1804 2910 1799Q2921 1795 2932 1790Q2943 1785 2953 1780Q2963 1775 2973 1771Q2983 1766 2993 1761Q3003 1757 3013 1752Q3023 1747 3033 1742Q3043 1737 3053 1732Q3063 1727 3073 1722Q3083 1717 3093 1711Q3103 1706 3113 1701Q3123 1696 3134 1690Q3144 1685 3154 1679Q3164 1674 3174 1668Q3184 1663 3194 1657Q3204 1652 3215 1646Q3225 1641 3235 1635Q3245 1630 3255 1624Q3265 1619 3275 1613Q3285 1608 3296 1602Q3306 1596 3316 1591Q3326 1585 3336 1579Q3346 1574 3356 1568Q3367 1562 3377 1556Q3387 1551 3397 1545Q3407 1539 3418 1533Q3428 1527 3438 1521Q3448 1515 3458 1509Q3468 1503 3479 1497Q3489 1491 3499 1485Q3509 1479 3520 1473Q3530 1467 3540 1461Q3550 1454 3560 1449Q3569 1443 3578 1437Q3588 1431 3597 1425Q3607 1419 3616 1413Q3625 1407 3635 1401Q3644 1395 3654 1389Q3663 1383 3673 1377Q3682 1370 3692 1364Q3701 1358 3711 1351Q3720 1345 3729 1338Q3739 1332 3748 1325Q3758 1319 3768 1312Q3777 1306 3787 1299Q3796 1292 3802 1288L3808 1283 M2732 1909Q2753 1899 2764 1894Q2775 1889 2785 1885Q2795 1880 2805 1876Q2815 1871 2826 1866Q2837 1861 2838 1860L2839 1860 M3637 1429Q3657 1416 3666 1410Q3676 1404 3685 1398Q3695 1392 3704 1385Q3714 1379 3723 1373Q3732 1366 3742 1360Q3751 1353 3761 1347Q3770 1340 3780 1334Q3789 1327 3796 1322L3803 1317" fill="none" stroke="#9cd400" stroke-width="2" opacity="0.55"/>
<path d="M3260 994Q3272 986 3278 981Q3283 977 3276 975Q3269 973 3264 976Q3258 979 3252 982Q3246 986 3240 989Q3234 992 3228 996Q3222 999 3216 1004Q3210 1008 3217 1010Q3223 1011 3230 1009Q3237 1006 3243 1003Q3248 1000 3254 997L3260 994 M3284 993Q3296 985 3301 981Q3306 977 3312 972Q3317 967 3321 962Q3325 957 3328 950Q3330 944 3323 946Q3315 947 3309 950Q3302 953 3296 956Q3290 959 3284 962Q3278 965 3273 968Q3267 971 3261 974Q3255 977 3249 980Q3243 983 3237 986Q3231 990 3225 993Q3219 996 3214 999Q3208 1003 3202 1006Q3196 1010 3190 1013Q3184 1017 3178 1021Q3173 1025 3173 1032Q3173 1038 3180 1038Q3187 1038 3193 1037Q3200 1035 3206 1033Q3213 1030 3220 1027Q3226 1025 3232 1022Q3238 1019 3244 1016Q3250 1013 3256 1009Q3262 1006 3268 1003Q3274 999 3279 996L3284 993 M3284 1007Q3295 1000 3301 996Q3307 992 3313 988Q3319 983 3325 979Q3330 975 3335 971Q3341 966 3345 962Q3350 957 3355 951Q3359 945 3362 939Q3365 934 3360 929Q3354 925 3348 928Q3341 931 3334 934Q3328 937 3322 940Q3316 943 3310 946Q3304 948 3298 951Q3292 954 3287 957Q3281 960 3275 963Q3269 966 3263 969Q3257 972 3251 975Q3245 978 3239 981Q3234 984 3228 987Q3222 990 3216 993Q3210 996 3204 1000Q3198 1003 3192 1006Q3186 1009 3180 1013Q3174 1016 3169 1020Q3163 1023 3156 1027Q3150 1031 3145 1035Q3140 1040 3135 1046Q3131 1051 3135 1057Q3138 1063 3145 1063Q3152 1064 3159 1063Q3166 1061 3173 1060Q3179 1058 3186 1055Q3193 1053 3199 1050Q3206 1047 3212 1044Q3219 1041 3225 1039Q3231 1036 3237 1033Q3243 1029 3249 1026Q3255 1023 3260 1020Q3266 1016 3272 1013Q3278 1010 3281 1008L3284 1007 M3273 1036Q3285 1030 3291 1026Q3297 1023 3303 1019Q3309 1016 3315 1012Q3321 1008 3327 1004Q3333 1000 3338 997Q3343 993 3349 989Q3355 985 3360 981Q3366 977 3371 972Q3376 968 3382 963Q3387 958 3392 953Q3396 949 3401 943Q3405 938 3409 932Q3413 927 3416 921Q3420 915 3422 908Q3424 902 3424 895Q3423 889 3416 890Q3409 892 3402 895Q3396 898 3389 901Q3382 904 3376 907Q3369 910 3363 913Q3357 916 3351 919Q3345 922 3340 925Q3334 927 3328 930Q3322 933 3316 936Q3310 939 3304 942Q3298 945 3293 948Q3287 951 3281 954Q3275 957 3269 960Q3263 963 3257 966Q3251 968 3246 971Q3240 974 3233 977Q3226 981 3220 984Q3213 987 3206 990Q3200 993 3193 997Q3186 1000 3180 1003Q3174 1005 3169 1008Q3163 1011 3157 1014Q3151 1017 3145 1020Q3139 1023 3133 1026Q3127 1030 3121 1033Q3115 1037 3109 1041Q3103 1045 3098 1049Q3093 1053 3088 1058Q3084 1062 3080 1068Q3076 1073 3074 1080Q3072 1087 3074 1093Q3077 1099 3083 1102Q3089 1105 3096 1105Q3102 1105 3109 1105Q3116 1104 3123 1102Q3130 1101 3136 1099Q3143 1097 3149 1095Q3155 1093 3161 1091Q3167 1089 3174 1086Q3180 1083 3187 1080Q3193 1078 3199 1075Q3205 1072 3211 1069Q3217 1066 3223 1063Q3229 1060 3235 1057Q3241 1054 3247 1051Q3253 1047 3258 1044Q3264 1041 3269 1039L3273 1036 M3306 1046Q3318 1039 3324 1035Q3330 1032 3336 1028Q3342 1024 3348 1020Q3354 1016 3360 1012Q3366 1008 3372 1004Q3378 1000 3383 996Q3388 992 3394 988Q3399 984 3404 979Q3409 975 3415 970Q3420 965 3426 960Q3431 955 3436 950Q3440 946 3445 941Q3449 935 3454 930Q3458 924 3462 919Q3466 913 3469 907Q3473 901 3476 894Q3479 888 3481 881Q3483 875 3484 868Q3485 862 3479 859Q3473 856 3467 858Q3460 860 3454 863Q3447 865 3440 868Q3434 871 3427 874Q3420 877 3414 880Q3407 883 3401 886Q3395 889 3389 892Q3384 895 3378 898Q3372 901 3366 904Q3360 907 3354 910Q3348 913 3342 916Q3337 919 3331 922Q3325 925 3319 928Q3313 931 3307 934Q3301 937 3295 940Q3289 942 3284 945Q3278 948 3271 951Q3264 954 3258 957Q3251 961 3244 964Q3238 967 3231 969Q3224 972 3218 975Q3211 978 3204 981Q3198 984 3191 987Q3185 989 3178 992Q3171 995 3165 997Q3158 1000 3151 1002Q3145 1005 3138 1008Q3132 1010 3125 1013Q3118 1015 3112 1018Q3105 1021 3099 1024Q3092 1027 3086 1030Q3080 1033 3074 1036Q3068 1040 3062 1044Q3056 1049 3051 1054Q3045 1058 3041 1063Q3036 1069 3032 1074Q3027 1080 3024 1086Q3020 1093 3017 1099Q3015 1106 3013 1112Q3012 1119 3013 1126Q3014 1133 3019 1138Q3023 1144 3029 1146Q3035 1149 3042 1150Q3049 1150 3056 1150Q3062 1150 3069 1149Q3076 1148 3082 1147Q3089 1146 3095 1144Q3102 1142 3108 1140Q3115 1138 3121 1136Q3128 1134 3134 1132Q3141 1129 3148 1127Q3154 1124 3161 1121Q3168 1118 3174 1115Q3181 1112 3188 1109Q3194 1106 3200 1103Q3206 1100 3212 1097Q3218 1094 3224 1091Q3230 1088 3235 1085Q3241 1082 3247 1079Q3253 1075 3259 1072Q3265 1069 3271 1066Q3277 1062 3283 1059Q3289 1056 3295 1052Q3301 1049 3303 1047L3306 1046 M3014 1049Q3004 1061 2999 1067Q2995 1074 2991 1079Q2987 1085 2983 1090Q2980 1095 2976 1102Q2973 1108 2970 1115Q2967 1121 2964 1128Q2962 1134 2961 1141Q2960 1147 2960 1154Q2960 1160 2963 1167Q2966 1173 2971 1178Q2976 1183 2982 1186Q2988 1188 2995 1190Q3001 1191 3008 1191Q3015 1192 3022 1191Q3029 1191 3036 1190Q3044 1189 3050 1188Q3056 1186 3063 1185Q3069 1183 3076 1182Q3082 1180 3089 1178Q3095 1176 3102 1174Q3109 1171 3115 1169Q3122 1167 3128 1164Q3135 1161 3142 1159Q3148 1156 3155 1153Q3161 1150 3168 1147Q3175 1144 3181 1141Q3188 1138 3194 1135Q3200 1132 3206 1129Q3212 1126 3218 1123Q3223 1120 3229 1116Q3235 1113 3241 1110Q3247 1107 3253 1104Q3259 1100 3265 1097Q3271 1094 3277 1091Q3283 1087 3289 1084Q3295 1081 3300 1077Q3306 1074 3312 1070Q3318 1067 3324 1063Q3330 1060 3336 1056Q3342 1052 3348 1049Q3354 1045 3360 1041Q3366 1037 3372 1033Q3378 1029 3384 1025Q3390 1021 3396 1017Q3401 1013 3406 1009Q3411 1005 3417 1001Q3422 997 3427 993Q3432 988 3438 984Q3443 979 3448 975Q3454 970 3459 964Q3465 959 3469 955Q3474 950 3478 945Q3483 940 3488 934Q3492 929 3497 922Q3502 916 3506 911Q3510 905 3513 899Q3517 892 3520 886Q3523 881 3526 874Q3529 867 3531 861Q3533 855 3535 848Q3536 841 3537 834Q3537 827 3530 827Q3523 826 3516 828Q3510 830 3503 832Q3497 835 3490 837Q3483 840 3477 843Q3470 846 3464 849Q3457 852 3450 855Q3443 858 3437 861Q3430 864 3424 867Q3418 870 3412 873Q3407 876 3401 879Q3395 882 3389 885Q3383 888 3377 891Q3371 894 3365 897Q3359 900 3354 903Q3348 906 3342 909Q3336 912 3330 915Q3324 918 3318 921Q3312 924 3307 927Q3301 930 3294 933Q3287 936 3281 939Q3274 942 3267 945Q3261 948 3254 951Q3247 954 3241 957Q3234 959 3227 962Q3221 965 3214 967Q3208 970 3201 972Q3194 975 3188 977Q3181 979 3175 981Q3169 983 3162 985Q3155 987 3149 989Q3142 991 3136 993Q3129 994 3123 996Q3116 998 3111 999L3105 1000 M2956 1081Q2948 1092 2943 1099Q2939 1106 2935 1112Q2931 1118 2928 1124Q2925 1130 2922 1137Q2920 1143 2917 1150Q2915 1156 2914 1163Q2912 1169 2912 1176Q2912 1183 2913 1190Q2914 1197 2918 1203Q2921 1209 2926 1214Q2930 1218 2936 1221Q2942 1225 2949 1226Q2955 1228 2962 1229Q2969 1230 2976 1230Q2983 1231 2989 1230Q2996 1230 3003 1229Q3010 1228 3017 1227Q3024 1226 3031 1225Q3037 1223 3044 1222Q3050 1220 3057 1218Q3063 1217 3070 1214Q3076 1212 3083 1210Q3089 1208 3096 1206Q3102 1203 3109 1201Q3116 1198 3122 1196Q3129 1193 3135 1190Q3142 1187 3149 1185Q3155 1182 3162 1179Q3169 1175 3175 1172Q3182 1169 3188 1166Q3194 1163 3200 1160Q3206 1157 3211 1154Q3217 1151 3223 1148Q3229 1145 3235 1142Q3241 1138 3247 1135Q3253 1132 3259 1129Q3265 1125 3271 1122Q3277 1119 3282 1116Q3288 1112 3294 1109Q3300 1106 3306 1102Q3312 1099 3318 1095Q3324 1092 3330 1088Q3336 1085 3342 1081Q3348 1077 3354 1074Q3360 1070 3366 1066Q3372 1062 3378 1058Q3384 1054 3390 1050Q3396 1046 3402 1042Q3408 1037 3414 1033Q3420 1029 3426 1025Q3431 1021 3436 1017Q3441 1012 3447 1008Q3452 1004 3457 999Q3463 995 3468 990Q3473 986 3479 981Q3484 976 3490 970Q3495 965 3500 960Q3504 956 3509 951Q3513 946 3518 940Q3523 935 3527 929Q3532 924 3536 918Q3540 913 3544 907Q3548 902 3552 895Q3556 889 3559 883Q3563 876 3566 870Q3569 864 3571 858Q3574 851 3576 845Q3578 839 3580 832Q3582 825 3583 818Q3585 812 3583 805Q3581 798 3574 799Q3567 799 3561 801Q3554 803 3548 805Q3541 807 3535 810Q3528 812 3521 815Q3515 817 3508 820Q3501 823 3495 826Q3488 829 3481 832Q3475 835 3468 839Q3461 842 3456 845Q3450 847 3444 850Q3438 853 3432 856Q3426 859 3420 862Q3414 865 3409 868Q3403 871 3397 874Q3391 877 3385 880Q3379 883 3373 886Q3367 889 3361 892Q3355 896 3350 899Q3344 902 3338 905Q3332 907 3326 910Q3320 913 3313 916Q3307 920 3300 923Q3293 926 3287 929Q3280 932 3273 935Q3267 938 3260 940Q3254 943 3247 946Q3240 948 3234 951Q3227 953 3221 955Q3214 958 3208 960Q3201 962 3194 964Q3188 966 3181 967Q3175 969 3169 971Q3162 972 3158 973L3155 974 M2903 1110Q2896 1121 2893 1127Q2889 1132 2886 1138Q2883 1144 2880 1151Q2877 1158 2875 1164Q2872 1171 2870 1178Q2868 1185 2867 1191Q2866 1198 2866 1205Q2866 1212 2867 1219Q2868 1226 2871 1232Q2873 1238 2878 1244Q2882 1249 2888 1253Q2893 1257 2899 1260Q2905 1262 2912 1264Q2919 1266 2926 1267Q2932 1268 2939 1268Q2946 1269 2953 1269Q2960 1269 2967 1268Q2973 1267 2980 1267Q2987 1266 2994 1264Q3001 1263 3008 1262Q3015 1260 3021 1259Q3028 1257 3034 1256Q3041 1254 3047 1252Q3054 1250 3060 1248Q3067 1246 3073 1243Q3080 1241 3086 1239Q3093 1236 3100 1234Q3106 1231 3113 1229Q3119 1226 3126 1223Q3133 1220 3139 1217Q3146 1215 3153 1212Q3159 1208 3166 1205Q3173 1202 3178 1199Q3184 1196 3190 1193Q3196 1190 3202 1187Q3208 1184 3214 1181Q3220 1178 3226 1175Q3232 1172 3237 1169Q3243 1165 3249 1162Q3255 1159 3261 1156Q3267 1152 3273 1149Q3279 1146 3285 1142Q3291 1139 3297 1136Q3303 1132 3309 1129Q3315 1126 3320 1122Q3326 1119 3332 1115Q3338 1111 3344 1108Q3350 1104 3356 1100Q3362 1097 3368 1093Q3374 1089 3380 1085Q3386 1081 3392 1077Q3398 1073 3404 1069Q3410 1065 3417 1061Q3423 1056 3428 1053Q3433 1049 3439 1044Q3445 1040 3451 1036Q3456 1032 3461 1027Q3466 1023 3472 1019Q3477 1015 3482 1010Q3487 1006 3492 1002Q3497 997 3502 993Q3507 988 3513 983Q3518 977 3524 972Q3529 967 3534 962Q3538 957 3543 952Q3547 947 3552 941Q3557 936 3562 930Q3566 924 3571 918Q3575 912 3579 907Q3583 901 3587 895Q3592 888 3595 882Q3599 876 3602 870Q3605 864 3609 857Q3612 850 3615 843Q3617 837 3620 830Q3622 824 3624 817Q3626 810 3627 803Q3629 796 3630 790Q3631 783 3628 777Q3624 772 3617 772Q3610 773 3604 774Q3597 776 3591 778Q3584 780 3577 783Q3571 785 3564 788Q3558 790 3552 793Q3546 795 3539 798Q3533 801 3526 804Q3519 807 3514 809Q3508 812 3501 815Q3494 818 3488 821Q3482 824 3476 827Q3469 830 3463 833Q3458 836 3452 839Q3446 842 3440 845Q3434 848 3428 851Q3422 854 3416 857Q3410 860 3405 863Q3399 866 3393 869Q3387 872 3381 875Q3375 878 3369 882Q3363 885 3357 888Q3351 891 3346 894Q3340 897 3334 900Q3328 903 3321 906Q3315 909 3308 912Q3302 915 3296 917Q3290 920 3283 923Q3276 926 3270 928Q3263 931 3256 934Q3250 936 3243 938Q3237 941 3231 943Q3224 945 3217 947Q3211 949 3204 950Q3198 952 3195 953L3192 953 M2853 1137Q2846 1149 2843 1155Q2840 1161 2837 1167Q2834 1174 2831 1181Q2829 1187 2827 1194Q2824 1202 2823 1208Q2821 1215 2821 1222Q2820 1230 2820 1236Q2820 1243 2822 1250Q2823 1257 2825 1263Q2828 1269 2832 1275Q2836 1280 2841 1285Q2846 1289 2852 1293Q2858 1296 2865 1299Q2871 1301 2878 1303Q2884 1304 2891 1305Q2897 1306 2904 1307Q2911 1307 2918 1307Q2925 1307 2933 1306Q2940 1306 2946 1305Q2953 1305 2960 1304Q2966 1303 2973 1301Q2979 1300 2986 1299Q2992 1298 2999 1296Q3005 1295 3012 1293Q3018 1291 3025 1289Q3031 1287 3038 1285Q3044 1283 3051 1281Q3057 1279 3064 1277Q3070 1274 3077 1272Q3083 1270 3090 1267Q3097 1264 3103 1262Q3110 1259 3117 1256Q3123 1253 3130 1251Q3136 1248 3143 1245Q3150 1242 3157 1238Q3163 1235 3169 1232Q3175 1230 3181 1227Q3187 1224 3193 1221Q3198 1218 3204 1215Q3210 1211 3216 1208Q3222 1205 3228 1202Q3234 1199 3240 1195Q3246 1192 3252 1189Q3258 1186 3263 1183Q3269 1179 3275 1176Q3281 1173 3287 1169Q3293 1166 3299 1163Q3305 1159 3311 1156Q3317 1152 3323 1149Q3329 1145 3335 1142Q3341 1138 3347 1135Q3353 1131 3359 1127Q3365 1124 3371 1120Q3377 1116 3383 1112Q3389 1109 3395 1105Q3401 1101 3407 1097Q3413 1093 3419 1088Q3425 1084 3431 1080Q3437 1076 3442 1072Q3447 1068 3453 1064Q3458 1060 3463 1056Q3468 1053 3474 1048Q3479 1044 3484 1040Q3489 1036 3495 1031Q3500 1027 3505 1023Q3511 1018 3516 1013Q3521 1009 3527 1004Q3532 999 3538 994Q3543 989 3548 984Q3552 979 3558 974Q3563 968 3568 964Q3572 959 3577 953Q3582 948 3586 943Q3591 937 3595 932Q3600 926 3604 921Q3608 916 3612 910Q3616 905 3620 899Q3624 893 3627 888Q3631 882 3634 876Q3638 870 3641 864Q3644 858 3647 852Q3651 846 3654 839Q3657 832 3659 826Q3662 819 3664 813Q3666 807 3668 800Q3670 793 3672 786Q3673 779 3675 772Q3676 766 3677 758Q3677 751 3671 748Q3666 745 3659 746Q3651 746 3645 748Q3638 750 3632 752Q3625 754 3619 756Q3612 759 3606 761Q3599 764 3592 766Q3586 769 3579 772Q3572 775 3566 778Q3559 780 3552 783Q3546 786 3539 790Q3532 793 3526 796Q3519 799 3512 802Q3506 805 3500 808Q3494 811 3488 814Q3482 817 3476 820Q3470 823 3465 826Q3459 828 3453 831Q3447 834 3441 837Q3435 840 3429 843Q3423 846 3417 850Q3412 853 3406 856Q3400 859 3394 862Q3388 865 3382 868Q3376 871 3370 874Q3364 877 3358 880Q3353 883 3347 886Q3341 889 3335 892Q3329 895 3322 898Q3316 901 3309 904Q3302 907 3296 910Q3289 913 3282 916Q3276 918 3269 921Q3263 923 3256 925Q3250 928 3243 930Q3236 932 3232 933L3228 934 M2803 1164Q2797 1175 2794 1182Q2791 1188 2789 1194Q2786 1200 2784 1206Q2782 1213 2780 1220Q2778 1227 2776 1234Q2775 1240 2774 1248Q2773 1255 2773 1262Q2773 1269 2774 1276Q2775 1283 2777 1289Q2779 1295 2782 1301Q2785 1307 2789 1312Q2794 1317 2799 1322Q2804 1326 2810 1329Q2816 1333 2822 1335Q2828 1338 2835 1340Q2841 1341 2848 1343Q2855 1344 2861 1345Q2868 1345 2875 1346Q2882 1346 2889 1346Q2896 1346 2903 1345Q2911 1345 2918 1344Q2925 1343 2932 1342Q2939 1341 2946 1340Q2954 1339 2960 1337Q2966 1336 2973 1334Q2979 1333 2986 1331Q2992 1330 2999 1328Q3005 1326 3012 1324Q3018 1322 3025 1320Q3031 1318 3038 1316Q3044 1314 3051 1311Q3058 1309 3064 1307Q3071 1304 3077 1302Q3084 1299 3090 1296Q3097 1294 3103 1291Q3109 1289 3115 1286Q3122 1283 3129 1280Q3135 1277 3142 1274Q3149 1271 3155 1268Q3162 1264 3168 1261Q3174 1259 3180 1256Q3186 1253 3192 1250Q3197 1246 3203 1243Q3209 1240 3215 1237Q3221 1234 3227 1231Q3233 1227 3239 1224Q3245 1221 3251 1218Q3257 1215 3262 1211Q3268 1208 3274 1205Q3280 1201 3286 1198Q3292 1195 3298 1191Q3304 1188 3310 1185Q3316 1181 3322 1178Q3328 1174 3334 1171Q3340 1167 3346 1164Q3352 1160 3358 1157Q3364 1153 3369 1149Q3375 1146 3381 1142Q3387 1138 3393 1134Q3399 1130 3405 1126Q3412 1122 3418 1118Q3424 1114 3430 1110Q3436 1106 3442 1102Q3448 1098 3454 1093Q3460 1089 3466 1085Q3472 1080 3477 1076Q3483 1072 3488 1068Q3493 1064 3498 1060Q3504 1056 3509 1052Q3514 1048 3520 1043Q3525 1039 3530 1034Q3535 1030 3541 1025Q3546 1020 3551 1016Q3556 1012 3561 1007Q3566 1002 3571 997Q3577 992 3582 986Q3588 981 3592 976Q3597 971 3601 967Q3606 962 3611 956Q3615 951 3620 946Q3625 940 3629 935Q3634 929 3639 923Q3644 916 3648 911Q3651 906 3655 900Q3659 895 3663 889Q3667 883 3671 877Q3675 871 3678 864Q3682 858 3685 852Q3688 846 3691 839Q3695 832 3698 826Q3701 819 3703 812Q3706 806 3708 800Q3710 793 3712 786Q3714 779 3716 772Q3718 765 3719 759Q3721 752 3722 745Q3723 739 3723 731Q3724 724 3718 721Q3712 717 3705 718Q3697 719 3691 720Q3684 722 3678 724Q3671 726 3665 728Q3658 730 3652 732Q3645 735 3639 737Q3632 740 3625 743Q3619 745 3612 748Q3605 751 3599 754Q3592 757 3585 760Q3579 763 3572 766Q3565 769 3559 772Q3552 775 3546 778Q3540 781 3533 784Q3527 787 3521 790Q3515 793 3509 796Q3503 799 3498 802Q3492 805 3486 808Q3480 811 3474 814Q3468 817 3462 820Q3456 823 3451 826Q3445 829 3439 832Q3433 835 3427 838Q3421 841 3415 844Q3409 847 3403 850Q3397 853 3392 856Q3386 859 3380 862Q3374 865 3368 869Q3362 872 3356 875Q3350 878 3344 881Q3338 884 3332 887Q3325 890 3318 893Q3312 896 3305 899Q3298 902 3292 904Q3285 907 3279 909Q3272 912 3269 913L3265 914 M2752 1191Q2746 1205 2743 1211Q2740 1218 2738 1224Q2735 1231 2733 1238Q2731 1245 2729 1252Q2728 1259 2727 1266Q2725 1272 2725 1279Q2724 1285 2724 1292Q2724 1298 2725 1306Q2726 1313 2728 1319Q2730 1326 2733 1332Q2736 1338 2740 1344Q2744 1349 2749 1354Q2754 1359 2760 1363Q2765 1367 2771 1370Q2777 1373 2783 1375Q2790 1378 2796 1379Q2802 1381 2809 1382Q2816 1384 2823 1384Q2830 1385 2837 1385Q2844 1386 2851 1386Q2858 1386 2865 1385Q2872 1385 2879 1384Q2886 1384 2892 1383Q2899 1382 2906 1381Q2913 1380 2921 1379Q2928 1377 2934 1376Q2941 1375 2947 1373Q2954 1372 2960 1370Q2966 1369 2973 1367Q2979 1365 2986 1363Q2992 1361 2999 1359Q3005 1357 3012 1355Q3019 1353 3025 1351Q3032 1348 3038 1346Q3045 1344 3051 1341Q3058 1339 3065 1336Q3071 1334 3078 1331Q3084 1328 3091 1325Q3098 1323 3104 1320Q3110 1317 3117 1314Q3123 1312 3129 1309Q3136 1305 3143 1302Q3149 1299 3155 1296Q3161 1293 3167 1290Q3173 1287 3179 1284Q3185 1281 3190 1278Q3196 1275 3202 1272Q3208 1269 3214 1266Q3220 1263 3226 1259Q3232 1256 3238 1253Q3244 1250 3250 1247Q3255 1243 3261 1240Q3267 1237 3273 1233Q3279 1230 3285 1227Q3291 1224 3297 1220Q3303 1217 3309 1213Q3315 1210 3321 1207Q3327 1203 3333 1200Q3339 1196 3345 1193Q3350 1189 3356 1186Q3362 1182 3368 1178Q3374 1175 3380 1171Q3386 1167 3392 1164Q3398 1160 3404 1156Q3410 1152 3416 1148Q3422 1144 3428 1140Q3434 1136 3440 1132Q3446 1128 3453 1124Q3459 1120 3465 1116Q3471 1111 3477 1107Q3483 1103 3489 1099Q3494 1094 3500 1090Q3506 1086 3511 1082Q3516 1078 3521 1074Q3527 1070 3532 1065Q3537 1061 3542 1057Q3548 1053 3553 1048Q3558 1044 3564 1039Q3569 1034 3574 1030Q3580 1025 3585 1020Q3591 1015 3596 1010Q3601 1005 3606 1000Q3612 995 3616 990Q3621 985 3626 981Q3630 976 3635 971Q3639 966 3644 961Q3648 956 3653 951Q3658 945 3663 940Q3667 934 3672 928Q3677 922 3681 916Q3686 911 3690 905Q3694 899 3698 894Q3702 888 3706 882Q3710 875 3714 869Q3718 863 3721 856Q3725 850 3728 844Q3731 838 3735 831Q3738 824 3741 818Q3744 811 3747 804Q3749 798 3752 791Q3754 785 3756 779Q3758 773 3760 766Q3762 759 3764 752Q3765 745 3767 738Q3768 731 3769 725Q3770 718 3771 712Q3772 705 3771 699Q3770 692 3763 690Q3756 689 3750 689Q3743 690 3736 692Q3729 693 3723 695Q3716 697 3710 699Q3703 702 3696 704Q3690 706 3683 709Q3677 711 3670 714Q3663 717 3657 720Q3650 722 3643 725Q3637 728 3630 731Q3623 734 3617 737Q3610 740 3603 743Q3597 746 3591 749Q3584 752 3578 755Q3572 758 3566 761Q3560 764 3554 766Q3548 769 3542 772Q3536 775 3531 778Q3525 781 3519 784Q3513 787 3507 790Q3501 793 3495 796Q3489 799 3484 802Q3478 805 3472 808Q3466 811 3460 814Q3454 817 3448 820Q3442 823 3436 826Q3431 829 3425 832Q3419 835 3413 838Q3407 841 3401 844Q3395 847 3389 851Q3383 854 3377 857Q3372 860 3366 863Q3360 866 3354 869Q3348 872 3342 875Q3336 878 3330 881Q3323 884 3318 886L3313 888 M2700 1219Q2695 1232 2692 1239Q2689 1246 2687 1252Q2684 1258 2682 1266Q2680 1273 2679 1279Q2677 1286 2676 1293Q2675 1299 2674 1307Q2674 1314 2674 1321Q2674 1327 2674 1334Q2675 1340 2677 1347Q2678 1354 2681 1360Q2683 1367 2686 1373Q2690 1379 2694 1384Q2698 1389 2703 1394Q2708 1398 2714 1402Q2720 1406 2725 1409Q2731 1412 2738 1414Q2744 1417 2751 1419Q2758 1421 2764 1422Q2771 1423 2778 1424Q2785 1425 2792 1426Q2799 1426 2806 1426Q2813 1427 2819 1427Q2826 1426 2833 1426Q2840 1426 2847 1425Q2854 1424 2861 1424Q2867 1423 2874 1422Q2880 1421 2887 1420Q2894 1419 2900 1417Q2907 1416 2913 1415Q2920 1413 2926 1412Q2932 1410 2939 1408Q2945 1407 2952 1405Q2958 1403 2965 1401Q2971 1399 2978 1397Q2984 1395 2991 1393Q2998 1391 3004 1389Q3010 1387 3017 1384Q3024 1382 3030 1379Q3037 1377 3044 1374Q3050 1372 3057 1369Q3063 1366 3070 1364Q3077 1361 3083 1358Q3090 1355 3097 1352Q3103 1349 3110 1346Q3117 1343 3123 1340Q3130 1337 3137 1334Q3143 1331 3149 1328Q3155 1325 3161 1322Q3167 1319 3173 1316Q3178 1313 3184 1310Q3190 1307 3196 1304Q3202 1300 3208 1297Q3214 1294 3220 1291Q3226 1288 3232 1285Q3238 1281 3243 1278Q3249 1275 3255 1272Q3261 1268 3267 1265Q3273 1262 3279 1259Q3285 1255 3291 1252Q3297 1249 3303 1245Q3309 1242 3315 1238Q3321 1235 3326 1232Q3332 1228 3338 1225Q3344 1221 3350 1218Q3356 1214 3362 1211Q3368 1207 3374 1204Q3380 1200 3386 1196Q3392 1193 3398 1189Q3404 1185 3410 1181Q3416 1178 3422 1174Q3428 1170 3434 1166Q3440 1162 3446 1158Q3452 1154 3458 1150Q3464 1146 3470 1142Q3476 1138 3482 1133Q3488 1129 3494 1125Q3501 1121 3506 1116Q3512 1112 3518 1108Q3523 1104 3528 1100Q3534 1096 3539 1092Q3544 1088 3549 1084Q3555 1080 3560 1075Q3565 1071 3571 1067Q3576 1063 3581 1058Q3586 1054 3592 1049Q3597 1045 3602 1040Q3608 1035 3613 1030Q3619 1026 3624 1021Q3629 1016 3635 1010Q3640 1005 3646 1000Q3651 995 3657 989Q3662 984 3667 979Q3671 974 3676 969Q3680 964 3685 959Q3690 954 3694 948Q3699 943 3704 937Q3708 932 3713 926Q3717 921 3721 915Q3726 910 3730 904Q3733 899 3737 894Q3741 888 3745 882Q3749 877 3753 870Q3757 864 3761 857Q3765 851 3768 845Q3772 839 3775 833Q3778 827 3781 820Q3785 813 3788 806Q3791 799 3793 793Q3796 786 3798 780Q3801 773 3803 767Q3805 761 3807 754Q3809 747 3811 740Q3813 733 3814 726Q3816 719 3817 713Q3818 706 3820 699Q3821 693 3822 686Q3823 680 3823 673Q3822 666 3816 663Q3810 659 3803 659Q3796 660 3790 661Q3783 662 3777 664Q3770 665 3764 667Q3757 669 3751 672Q3744 674 3738 676Q3731 679 3725 681Q3718 684 3711 687Q3705 689 3698 692Q3691 695 3685 698Q3678 700 3672 703Q3665 706 3658 709Q3652 712 3645 715Q3638 718 3631 722Q3625 725 3618 728Q3611 731 3605 734Q3598 737 3592 740Q3586 743 3580 746Q3575 749 3569 752Q3563 754 3557 757Q3551 760 3545 763Q3539 766 3538 767L3537 767 M2646 1248Q2641 1262 2638 1268Q2636 1274 2634 1281Q2632 1287 2630 1294Q2628 1301 2626 1308Q2625 1315 2624 1321Q2623 1328 2622 1334Q2621 1341 2621 1348Q2621 1354 2621 1361Q2622 1368 2623 1375Q2624 1382 2626 1388Q2628 1395 2630 1401Q2633 1408 2636 1414Q2639 1420 2643 1425Q2647 1430 2652 1434Q2657 1439 2663 1442Q2669 1446 2675 1449Q2681 1452 2687 1454Q2694 1456 2700 1458Q2707 1459 2714 1461Q2721 1462 2727 1463Q2734 1464 2740 1465Q2747 1466 2754 1466Q2761 1467 2768 1467Q2775 1467 2782 1468Q2789 1468 2796 1467Q2803 1467 2810 1467Q2817 1466 2824 1465Q2831 1465 2838 1464Q2845 1462 2853 1461Q2860 1460 2866 1459Q2873 1458 2879 1456Q2886 1455 2892 1453Q2898 1452 2905 1450Q2911 1449 2918 1447Q2924 1445 2931 1443Q2937 1441 2944 1439Q2950 1437 2957 1435Q2963 1433 2970 1431Q2976 1429 2983 1427Q2990 1425 2996 1422Q3003 1420 3009 1417Q3016 1415 3022 1412Q3029 1410 3036 1407Q3042 1405 3049 1402Q3056 1399 3062 1396Q3069 1394 3075 1391Q3082 1388 3089 1385Q3095 1382 3102 1379Q3109 1376 3115 1373Q3122 1369 3129 1366Q3135 1363 3141 1360Q3147 1357 3153 1354Q3159 1351 3165 1348Q3171 1345 3177 1342Q3183 1339 3188 1336Q3194 1333 3200 1330Q3206 1327 3212 1323Q3218 1320 3224 1317Q3230 1314 3236 1311Q3242 1307 3248 1304Q3253 1301 3259 1298Q3265 1294 3271 1291Q3277 1288 3283 1284Q3289 1281 3295 1278Q3301 1275 3307 1271Q3313 1268 3319 1264Q3325 1261 3330 1258Q3336 1254 3342 1251Q3348 1247 3354 1244Q3360 1240 3366 1237Q3372 1233 3378 1230Q3384 1226 3390 1222Q3396 1219 3402 1215Q3408 1211 3414 1208Q3420 1204 3426 1200Q3432 1196 3438 1193Q3444 1189 3450 1185Q3456 1181 3462 1177Q3468 1173 3474 1169Q3480 1165 3486 1161Q3492 1157 3498 1152Q3504 1148 3510 1144Q3516 1140 3523 1135Q3529 1131 3534 1127Q3540 1123 3546 1118Q3551 1114 3557 1110Q3562 1106 3567 1102Q3572 1098 3578 1094Q3583 1090 3588 1086Q3593 1081 3599 1077Q3604 1073 3609 1068Q3615 1064 3620 1060Q3625 1055 3631 1050Q3636 1046 3641 1041Q3647 1036 3652 1032Q3657 1027 3661 1023Q3666 1018 3672 1013Q3677 1008 3683 1002Q3688 997 3694 992Q3699 986 3704 981Q3708 977 3713 972Q3717 967 3722 962Q3727 956 3731 951Q3736 946 3741 940Q3745 935 3750 929Q3755 923 3760 917Q3764 911 3769 905Q3773 899 3777 894Q3782 888 3785 883Q3789 877 3793 871Q3798 864 3802 857Q3806 851 3809 845Q3813 838 3817 832Q3820 826 3823 820Q3826 814 3829 807Q3833 800 3836 794Q3838 788 3841 782Q3843 776 3846 770Q3848 763 3851 757Q3853 750 3855 743Q3857 736 3859 729Q3861 722 3863 715Q3865 708 3866 701Q3868 695 3869 688Q3870 681 3871 675Q3873 668 3874 662Q3875 655 3875 648Q3876 641 3872 635Q3868 630 3861 629Q3855 628 3848 629Q3841 630 3835 631Q3828 633 3822 634Q3815 636 3809 638Q3802 640 3796 643Q3789 645 3782 647Q3776 650 3769 652Q3763 655 3756 657Q3749 660 3743 663Q3736 666 3730 668Q3723 671 3716 674Q3710 677 3703 680Q3696 683 3690 686Q3683 689 3679 691L3675 693 M2591 1278Q2586 1291 2584 1297Q2581 1304 2579 1311Q2577 1318 2575 1325Q2573 1332 2572 1339Q2571 1346 2570 1352Q2569 1359 2568 1366Q2568 1373 2567 1380Q2567 1387 2568 1393Q2568 1400 2569 1406Q2570 1413 2572 1420Q2573 1426 2575 1433Q2576 1440 2578 1447Q2580 1453 2581 1460Q2583 1467 2584 1474Q2585 1481 2586 1489Q2586 1496 2588 1503Q2589 1510 2595 1513Q2601 1517 2607 1515Q2614 1513 2620 1511Q2627 1509 2633 1507Q2640 1505 2647 1504Q2654 1503 2661 1503Q2668 1503 2675 1502Q2682 1502 2689 1502Q2696 1503 2703 1503Q2710 1503 2717 1504Q2723 1504 2730 1504Q2737 1505 2743 1506Q2750 1506 2757 1506Q2764 1507 2771 1507Q2778 1507 2784 1507Q2791 1507 2798 1506Q2805 1505 2812 1504Q2819 1504 2826 1502Q2832 1501 2839 1500Q2845 1499 2851 1497Q2858 1496 2864 1494Q2871 1492 2877 1491Q2884 1489 2890 1487Q2897 1486 2903 1484Q2910 1482 2916 1480Q2923 1478 2929 1476Q2936 1474 2942 1472Q2949 1469 2955 1467Q2962 1465 2969 1463Q2975 1460 2982 1458Q2988 1456 2995 1453Q3001 1451 3008 1448Q3015 1446 3021 1443Q3028 1440 3034 1437Q3041 1435 3048 1432Q3054 1429 3061 1426Q3068 1423 3074 1420Q3081 1417 3087 1415Q3093 1412 3100 1409Q3106 1406 3112 1403Q3118 1400 3125 1397Q3131 1394 3137 1391Q3143 1388 3149 1385Q3155 1382 3160 1379Q3166 1376 3172 1373Q3178 1370 3184 1367Q3190 1364 3196 1360Q3202 1357 3208 1354Q3214 1351 3219 1348Q3225 1344 3231 1341Q3237 1338 3243 1335Q3249 1331 3255 1328Q3261 1325 3267 1322Q3273 1318 3279 1315Q3285 1312 3290 1309Q3296 1305 3302 1302Q3308 1299 3314 1295Q3320 1292 3326 1288Q3332 1285 3338 1282Q3344 1278 3350 1275Q3356 1271 3362 1268Q3368 1264 3374 1261Q3380 1257 3386 1254Q3392 1250 3397 1247Q3403 1243 3409 1239Q3415 1236 3421 1232Q3427 1228 3433 1224Q3439 1221 3445 1217Q3451 1213 3457 1209Q3463 1205 3469 1201Q3475 1197 3481 1193Q3487 1190 3493 1185Q3500 1181 3506 1177Q3512 1173 3518 1169Q3524 1165 3530 1161Q3536 1156 3542 1152Q3548 1148 3553 1144Q3559 1140 3565 1135Q3571 1131 3576 1127Q3581 1123 3586 1119Q3592 1115 3597 1111Q3602 1107 3607 1103Q3613 1099 3618 1095Q3623 1091 3628 1086Q3634 1082 3639 1078Q3644 1073 3650 1069Q3655 1064 3660 1060Q3666 1055 3671 1050Q3676 1046 3682 1041Q3687 1036 3693 1031Q3698 1026 3703 1021Q3708 1017 3713 1012Q3718 1007 3723 1002Q3728 997 3733 992Q3738 987 3742 982Q3747 978 3752 973Q3756 968 3761 963Q3765 958 3770 952Q3775 947 3779 942Q3784 936 3789 931Q3793 925 3798 920Q3802 914 3806 909Q3811 903 3815 897Q3820 891 3824 886Q3828 880 3832 875Q3835 869 3840 863Q3844 856 3848 850Q3852 843 3856 837Q3860 830 3863 824Q3867 818 3870 812Q3873 806 3876 800Q3879 794 3879 794L3880 793 M3908 597Q3895 598 3888 599Q3881 601 3875 603Q3868 604 3862 606Q3855 608 3849 610Q3843 613 3836 615Q3829 617 3822 620Q3816 622 3809 625Q3802 628 3796 630Q3789 633 3783 636Q3776 639 3775 639L3773 640 M2535 1308Q2531 1321 2528 1327Q2526 1334 2524 1341Q2522 1348 2521 1355Q2519 1361 2518 1368Q2517 1375 2516 1382Q2515 1389 2516 1396Q2516 1403 2517 1410Q2517 1417 2519 1424Q2521 1431 2523 1437Q2524 1444 2526 1450Q2528 1457 2530 1464Q2532 1471 2534 1477Q2535 1484 2536 1492Q2537 1499 2537 1506Q2537 1512 2537 1519Q2537 1526 2536 1533Q2536 1540 2536 1547Q2535 1554 2535 1561Q2535 1568 2537 1575Q2538 1582 2542 1587Q2546 1593 2553 1595Q2559 1596 2566 1594Q2573 1592 2579 1588Q2585 1585 2591 1580Q2597 1576 2602 1572Q2608 1568 2614 1564Q2620 1560 2626 1556Q2632 1552 2638 1549Q2645 1546 2651 1544Q2658 1542 2664 1541Q2671 1539 2678 1539Q2685 1538 2692 1538Q2699 1537 2706 1538Q2713 1538 2720 1539Q2727 1540 2733 1542Q2740 1543 2746 1544Q2753 1545 2759 1546Q2766 1547 2773 1548Q2780 1548 2787 1547Q2795 1547 2802 1545Q2809 1544 2815 1542Q2822 1541 2828 1539Q2835 1537 2841 1535Q2848 1533 2854 1531Q2861 1529 2867 1527Q2874 1525 2880 1523Q2887 1521 2893 1519Q2900 1517 2907 1515Q2913 1513 2920 1511Q2926 1508 2933 1506Q2939 1504 2946 1502Q2952 1499 2959 1497Q2965 1495 2972 1492Q2979 1490 2985 1487Q2992 1484 2998 1482Q3005 1479 3012 1476Q3018 1474 3025 1471Q3032 1468 3038 1465Q3045 1463 3052 1460Q3058 1457 3065 1454Q3071 1451 3078 1448Q3085 1445 3091 1441Q3098 1438 3105 1435Q3112 1432 3117 1429Q3123 1426 3129 1423Q3135 1420 3141 1417Q3147 1414 3153 1411Q3159 1408 3164 1405Q3170 1402 3176 1399Q3182 1396 3188 1393Q3194 1390 3200 1386Q3206 1383 3212 1380Q3218 1377 3223 1374Q3229 1370 3235 1367Q3241 1364 3247 1361Q3253 1357 3259 1354Q3265 1351 3271 1348Q3277 1344 3283 1341Q3289 1338 3294 1335Q3300 1331 3306 1328Q3312 1325 3318 1321Q3324 1318 3330 1314Q3336 1311 3342 1308Q3348 1304 3354 1301Q3360 1297 3366 1294Q3372 1290 3378 1287Q3384 1283 3390 1280Q3396 1276 3401 1273Q3407 1269 3413 1265Q3419 1262 3425 1258Q3431 1254 3437 1251Q3443 1247 3449 1243Q3455 1240 3461 1236Q3467 1232 3473 1228Q3479 1224 3485 1220Q3491 1216 3497 1212Q3503 1208 3509 1204Q3515 1200 3521 1196Q3528 1192 3534 1188Q3540 1184 3546 1180Q3552 1176 3558 1171Q3564 1167 3570 1163Q3576 1158 3582 1154Q3587 1150 3593 1146Q3599 1142 3604 1138Q3609 1134 3614 1130Q3620 1126 3625 1122Q3630 1118 3635 1114Q3641 1109 3646 1105Q3651 1101 3657 1097Q3662 1092 3667 1088Q3672 1084 3678 1079Q3683 1075 3688 1070Q3694 1066 3699 1061Q3704 1056 3710 1052Q3715 1047 3720 1043Q3725 1038 3730 1034Q3735 1029 3740 1024Q3746 1019 3751 1014Q3756 1008 3761 1004Q3766 999 3771 994Q3777 988 3781 984Q3786 979 3790 974Q3795 969 3799 964Q3804 959 3809 954Q3813 949 3818 943Q3823 938 3827 933Q3832 927 3837 922Q3842 916 3846 910Q3851 904 3856 898Q3860 892 3863 887L3866 883 M3911 575Q3898 579 3892 582Q3885 584 3879 586Q3872 589 3865 591Q3859 594 3858 594L3857 595 M2479 1338Q2475 1351 2473 1357Q2471 1364 2469 1371Q2467 1378 2466 1384Q2464 1391 2463 1398Q2462 1404 2462 1411Q2462 1418 2463 1425Q2464 1432 2467 1438Q2470 1444 2474 1450Q2477 1456 2482 1461Q2486 1466 2490 1472Q2493 1478 2496 1484Q2499 1490 2501 1497Q2503 1503 2505 1510Q2506 1516 2506 1523Q2507 1529 2507 1536Q2507 1544 2507 1551Q2507 1557 2507 1564Q2507 1571 2508 1578Q2508 1585 2509 1591Q2510 1598 2512 1605Q2514 1611 2518 1617Q2522 1622 2528 1625Q2533 1629 2540 1629Q2547 1630 2554 1628Q2560 1627 2567 1624Q2574 1621 2580 1617Q2585 1613 2592 1609Q2598 1605 2604 1601Q2610 1597 2616 1593Q2622 1589 2628 1586Q2634 1582 2640 1579Q2646 1577 2652 1575Q2658 1572 2665 1571Q2671 1570 2678 1569Q2685 1569 2692 1570Q2698 1571 2705 1573Q2711 1574 2718 1577Q2724 1580 2730 1583Q2736 1586 2742 1589Q2748 1591 2755 1593Q2761 1594 2768 1594Q2775 1593 2782 1592Q2788 1590 2795 1588Q2801 1586 2808 1583Q2815 1581 2821 1578Q2828 1575 2834 1573Q2841 1570 2847 1567Q2854 1565 2861 1562Q2867 1560 2874 1558Q2880 1555 2887 1553Q2894 1551 2900 1549Q2907 1546 2913 1544Q2920 1542 2926 1539Q2933 1537 2940 1535Q2946 1532 2953 1530Q2959 1527 2966 1525Q2972 1522 2979 1519Q2986 1517 2992 1514Q2999 1511 3006 1509Q3012 1506 3019 1503Q3025 1500 3032 1497Q3039 1494 3045 1491Q3052 1488 3059 1485Q3065 1482 3072 1479Q3079 1476 3085 1473Q3092 1470 3098 1467Q3104 1464 3110 1461Q3116 1458 3121 1456Q3127 1453 3133 1450Q3139 1447 3145 1444Q3151 1441 3157 1438Q3163 1435 3168 1431Q3174 1428 3180 1425Q3186 1422 3192 1419Q3198 1416 3204 1412Q3210 1409 3216 1406Q3222 1403 3228 1400Q3233 1396 3239 1393Q3245 1390 3251 1387Q3257 1383 3263 1380Q3269 1377 3275 1374Q3281 1370 3287 1367Q3293 1364 3299 1361Q3304 1357 3310 1354Q3316 1351 3322 1347Q3328 1344 3334 1340Q3340 1337 3346 1334Q3352 1330 3358 1327Q3364 1323 3370 1320Q3376 1316 3382 1313Q3388 1309 3394 1306Q3400 1302 3405 1299Q3411 1295 3417 1292Q3423 1288 3429 1285Q3435 1281 3441 1277Q3447 1274 3453 1270Q3459 1266 3465 1262Q3471 1258 3477 1255Q3483 1251 3489 1247Q3495 1243 3501 1239Q3507 1235 3513 1231Q3519 1227 3525 1224Q3530 1220 3536 1216Q3542 1212 3548 1208Q3554 1204 3560 1200Q3566 1196 3572 1192Q3577 1188 3583 1184Q3588 1180 3594 1176Q3601 1171 3607 1167Q3613 1162 3618 1158Q3624 1154 3630 1150Q3635 1146 3641 1142Q3646 1138 3651 1134Q3656 1130 3662 1125Q3667 1121 3672 1117Q3677 1113 3683 1109Q3688 1104 3693 1100Q3699 1096 3704 1091Q3709 1087 3715 1083Q3720 1078 3725 1073Q3731 1069 3736 1064Q3741 1060 3747 1055Q3752 1050 3757 1045Q3763 1040 3768 1036Q3773 1031 3778 1026Q3783 1022 3788 1017Q3793 1011 3799 1006Q3804 1001 3810 995Q3815 990 3820 985Q3824 980 3829 975Q3834 971 3838 966Q3842 961 3847 956Q3852 951 3855 948L3858 944 M2423 1369Q2418 1382 2416 1388Q2414 1394 2412 1400Q2410 1407 2408 1413Q2406 1419 2404 1425Q2402 1432 2399 1438Q2397 1445 2394 1451Q2391 1457 2387 1464Q2383 1471 2379 1476Q2375 1482 2370 1487Q2366 1493 2361 1500Q2356 1506 2352 1512Q2348 1519 2346 1525Q2344 1531 2344 1538Q2345 1544 2351 1545Q2358 1546 2364 1542Q2370 1538 2375 1532Q2381 1527 2387 1521Q2392 1516 2397 1512Q2403 1508 2408 1505Q2414 1502 2421 1500Q2427 1498 2434 1498Q2441 1498 2448 1499Q2455 1500 2461 1504Q2466 1508 2470 1513Q2474 1518 2477 1525Q2479 1531 2480 1538Q2481 1544 2481 1551Q2482 1558 2481 1565Q2481 1571 2481 1578Q2481 1585 2481 1592Q2481 1599 2482 1605Q2483 1612 2484 1619Q2486 1625 2489 1631Q2492 1637 2497 1642Q2501 1648 2507 1651Q2513 1655 2519 1657Q2526 1658 2533 1658Q2540 1658 2547 1657Q2553 1655 2559 1653Q2565 1651 2572 1648Q2578 1645 2584 1641Q2590 1638 2596 1634Q2602 1630 2607 1627Q2613 1623 2619 1620Q2626 1616 2632 1613Q2637 1610 2644 1608Q2651 1605 2658 1604Q2665 1603 2672 1604Q2678 1605 2684 1608Q2690 1611 2696 1615Q2701 1619 2706 1623Q2711 1628 2717 1631Q2723 1635 2729 1636Q2736 1638 2743 1638Q2750 1638 2757 1637Q2763 1635 2770 1633Q2776 1631 2783 1628Q2789 1625 2796 1622Q2803 1619 2809 1616Q2816 1613 2823 1610Q2829 1607 2836 1604Q2843 1601 2849 1599Q2856 1596 2863 1593Q2869 1591 2876 1588Q2882 1586 2889 1584Q2895 1581 2902 1579Q2908 1577 2915 1574Q2922 1572 2928 1569Q2935 1567 2942 1564Q2948 1562 2955 1559Q2961 1556 2968 1554Q2974 1551 2981 1548Q2988 1546 2994 1543Q3001 1540 3008 1537Q3014 1534 3021 1531Q3028 1528 3034 1526Q3041 1523 3048 1519Q3054 1516 3061 1513Q3068 1510 3074 1507Q3080 1504 3086 1501Q3093 1498 3099 1495Q3104 1493 3110 1490Q3116 1487 3122 1484Q3128 1481 3134 1478Q3140 1475 3146 1472Q3151 1469 3157 1466Q3163 1462 3169 1459Q3175 1456 3181 1453Q3187 1450 3193 1447Q3199 1443 3205 1440Q3210 1437 3216 1434Q3222 1431 3228 1427Q3234 1424 3240 1421Q3246 1418 3252 1415Q3258 1411 3264 1408Q3270 1405 3275 1402Q3281 1398 3287 1395Q3293 1392 3299 1388Q3305 1385 3311 1382Q3317 1378 3323 1375Q3329 1372 3335 1368Q3341 1365 3347 1362Q3353 1358 3358 1355Q3364 1351 3370 1348Q3376 1344 3382 1341Q3388 1338 3394 1334Q3400 1330 3406 1327Q3412 1323 3418 1320Q3424 1316 3430 1313Q3436 1309 3442 1305Q3448 1302 3454 1298Q3460 1294 3466 1291Q3472 1287 3478 1283Q3484 1280 3490 1276Q3496 1272 3502 1268Q3508 1264 3514 1261Q3519 1257 3526 1253Q3532 1249 3538 1245Q3544 1241 3550 1237Q3556 1233 3562 1229Q3568 1224 3574 1220Q3580 1216 3586 1212Q3592 1208 3598 1204Q3604 1199 3610 1195Q3616 1191 3623 1186Q3629 1182 3635 1177Q3641 1173 3646 1169Q3651 1165 3656 1161Q3662 1157 3667 1153Q3672 1149 3677 1145Q3683 1141 3688 1137Q3693 1133 3698 1129Q3704 1125 3709 1121Q3714 1116 3720 1112Q3725 1108 3730 1104Q3736 1099 3741 1095Q3746 1090 3751 1086Q3757 1081 3762 1077Q3767 1072 3773 1067Q3778 1063 3783 1058Q3789 1053 3794 1048Q3800 1043 3805 1038Q3810 1033 3816 1028Q3821 1023 3827 1018Q3832 1013 3837 1007Q3843 1002 3847 998L3850 995 M2366 1400Q2361 1412 2359 1418Q2357 1425 2354 1431Q2352 1437 2349 1443Q2346 1450 2343 1456Q2340 1463 2337 1470Q2334 1477 2330 1484Q2327 1491 2324 1497Q2321 1504 2318 1511Q2316 1517 2314 1524Q2312 1530 2310 1537Q2308 1544 2307 1550Q2306 1557 2307 1563Q2307 1570 2309 1577Q2310 1583 2314 1589Q2318 1594 2324 1597Q2330 1600 2337 1600Q2344 1601 2351 1599Q2357 1597 2364 1594Q2370 1591 2376 1587Q2383 1582 2388 1578Q2393 1574 2398 1569Q2404 1565 2410 1561Q2416 1556 2423 1553Q2429 1551 2436 1552Q2442 1553 2446 1559Q2449 1565 2450 1571Q2450 1578 2450 1585Q2450 1592 2449 1599Q2449 1606 2449 1613Q2449 1620 2449 1626Q2450 1633 2452 1640Q2454 1646 2457 1652Q2461 1658 2465 1663Q2470 1668 2475 1672Q2481 1676 2487 1679Q2493 1682 2500 1684Q2506 1686 2513 1687Q2520 1688 2527 1688Q2534 1687 2542 1686Q2549 1685 2555 1683Q2562 1681 2568 1679Q2574 1677 2580 1674Q2587 1671 2593 1668Q2600 1665 2607 1662Q2613 1659 2620 1656Q2627 1654 2633 1652Q2639 1651 2646 1651Q2653 1652 2660 1655Q2666 1658 2672 1662Q2678 1665 2684 1668Q2690 1671 2696 1672Q2703 1674 2710 1674Q2717 1675 2724 1674Q2731 1674 2738 1672Q2744 1671 2750 1669Q2757 1667 2764 1665Q2770 1662 2777 1660Q2783 1657 2790 1654Q2797 1651 2803 1648Q2810 1645 2817 1642Q2823 1640 2830 1637Q2836 1634 2843 1632Q2850 1629 2856 1626Q2863 1624 2869 1621Q2876 1619 2883 1617Q2889 1614 2896 1612Q2902 1609 2909 1607Q2916 1604 2922 1602Q2929 1599 2935 1597Q2942 1594 2949 1591Q2955 1589 2962 1586Q2968 1583 2975 1581Q2982 1578 2988 1575Q2995 1572 3002 1569Q3008 1566 3015 1563Q3021 1560 3028 1557Q3035 1554 3041 1551Q3048 1548 3055 1545Q3061 1542 3068 1539Q3075 1536 3081 1533Q3087 1530 3092 1527Q3098 1524 3104 1521Q3110 1518 3116 1515Q3122 1512 3128 1509Q3134 1506 3139 1503Q3145 1500 3151 1497Q3157 1494 3163 1491Q3169 1488 3175 1485Q3181 1481 3187 1478Q3193 1475 3198 1472Q3204 1469 3210 1465Q3216 1462 3222 1459Q3228 1456 3234 1453Q3240 1449 3246 1446Q3252 1443 3258 1440Q3263 1436 3269 1433Q3275 1430 3281 1427Q3287 1423 3293 1420Q3299 1417 3305 1413Q3311 1410 3317 1407Q3323 1403 3329 1400Q3335 1397 3340 1393Q3346 1390 3352 1387Q3358 1383 3364 1380Q3370 1376 3376 1373Q3382 1369 3388 1366Q3394 1363 3400 1359Q3406 1356 3412 1352Q3418 1349 3424 1345Q3430 1341 3436 1338Q3442 1334 3448 1331Q3454 1327 3460 1323Q3465 1320 3471 1316Q3477 1312 3483 1309Q3489 1305 3495 1301Q3501 1297 3507 1294Q3513 1290 3519 1286Q3525 1282 3531 1278Q3537 1275 3543 1270Q3549 1266 3555 1262Q3561 1258 3568 1254Q3574 1250 3580 1246Q3586 1242 3592 1238Q3598 1234 3604 1230Q3610 1226 3616 1221Q3622 1217 3628 1213Q3634 1209 3640 1205Q3645 1201 3651 1197Q3657 1192 3663 1188Q3669 1184 3674 1180Q3679 1176 3685 1172Q3690 1168 3695 1164Q3700 1160 3705 1156Q3711 1152 3716 1148Q3721 1144 3727 1140Q3732 1135 3737 1131Q3742 1127 3748 1123Q3753 1118 3758 1114Q3764 1110 3769 1105Q3774 1101 3779 1096Q3785 1092 3790 1087Q3795 1083 3801 1078Q3806 1074 3811 1069Q3817 1064 3822 1059Q3828 1054 3833 1050Q3838 1045 3841 1042L3844 1040 M2310 1430Q2306 1442 2304 1448Q2302 1455 2300 1462Q2298 1469 2296 1476Q2294 1483 2292 1490Q2290 1497 2288 1504Q2286 1511 2285 1518Q2283 1525 2282 1531Q2280 1538 2279 1545Q2279 1551 2278 1558Q2278 1565 2278 1572Q2278 1579 2280 1585Q2281 1592 2283 1599Q2286 1605 2289 1611Q2292 1618 2295 1623Q2299 1629 2303 1634Q2307 1639 2313 1643Q2319 1647 2325 1650Q2331 1652 2338 1654Q2344 1656 2350 1658Q2357 1659 2363 1661Q2370 1662 2376 1664Q2382 1666 2388 1669Q2395 1673 2400 1677Q2406 1680 2412 1684Q2417 1688 2423 1692Q2429 1695 2435 1698Q2440 1701 2447 1704Q2454 1707 2460 1710Q2467 1712 2473 1714Q2480 1716 2486 1717Q2493 1719 2499 1720Q2506 1720 2513 1721Q2520 1721 2527 1721Q2534 1721 2541 1720Q2549 1719 2556 1718Q2563 1717 2569 1716Q2576 1715 2582 1714Q2588 1713 2596 1711Q2603 1710 2610 1710Q2617 1709 2624 1709Q2631 1709 2638 1709Q2645 1709 2652 1710Q2658 1710 2666 1710Q2673 1710 2680 1710Q2687 1710 2694 1709Q2701 1708 2708 1707Q2716 1706 2722 1704Q2729 1703 2735 1701Q2741 1699 2748 1697Q2755 1695 2761 1693Q2768 1690 2774 1688Q2781 1685 2787 1683Q2794 1680 2801 1678Q2807 1675 2814 1673Q2820 1670 2827 1668Q2834 1665 2840 1663Q2847 1660 2853 1658Q2860 1655 2866 1653Q2873 1651 2880 1648Q2886 1646 2893 1643Q2899 1641 2906 1638Q2913 1636 2919 1633Q2926 1630 2932 1628Q2938 1625 2944 1623Q2951 1620 2957 1617Q2964 1615 2970 1612Q2977 1609 2984 1606Q2990 1603 2997 1600Q3004 1597 3010 1594Q3016 1592 3023 1589Q3029 1586 3035 1583Q3042 1580 3049 1577Q3055 1574 3062 1570Q3069 1567 3075 1564Q3080 1561 3086 1559Q3092 1556 3098 1553Q3104 1550 3110 1547Q3116 1544 3122 1541Q3127 1538 3133 1535Q3139 1532 3145 1529Q3151 1525 3157 1522Q3163 1519 3169 1516Q3175 1513 3181 1510Q3186 1506 3192 1503Q3198 1500 3204 1497Q3210 1494 3216 1490Q3222 1487 3228 1484Q3234 1481 3240 1478Q3246 1474 3251 1471Q3257 1468 3263 1465Q3269 1461 3275 1458Q3281 1455 3287 1452Q3293 1448 3299 1445Q3305 1442 3311 1438Q3317 1435 3322 1432Q3328 1428 3334 1425Q3340 1422 3346 1418Q3352 1415 3358 1412Q3364 1408 3370 1405Q3376 1401 3382 1398Q3388 1395 3394 1391Q3400 1388 3406 1384Q3412 1381 3418 1377Q3423 1374 3429 1370Q3435 1367 3441 1363Q3447 1359 3453 1356Q3459 1352 3465 1349Q3471 1345 3477 1341Q3483 1338 3489 1334Q3495 1330 3501 1326Q3507 1323 3513 1319Q3519 1315 3525 1311Q3531 1308 3537 1304Q3543 1300 3549 1296Q3555 1292 3561 1288Q3567 1284 3573 1280Q3579 1276 3585 1272Q3591 1268 3597 1264Q3603 1260 3609 1256Q3615 1252 3621 1248Q3627 1244 3633 1239Q3640 1235 3646 1231Q3652 1227 3658 1222Q3664 1218 3670 1214Q3676 1209 3682 1205Q3688 1200 3694 1196Q3700 1191 3706 1188Q3711 1184 3716 1180Q3721 1176 3727 1172Q3732 1168 3737 1164Q3742 1160 3748 1156Q3753 1152 3758 1147Q3763 1143 3769 1139Q3774 1135 3779 1130Q3784 1126 3790 1122Q3795 1118 3800 1113Q3806 1109 3811 1104Q3816 1100 3822 1095Q3827 1091 3832 1086L3838 1081 M2255 1460Q2251 1472 2248 1479Q2246 1486 2244 1493Q2242 1501 2241 1508Q2239 1515 2237 1521Q2235 1528 2233 1535Q2231 1542 2230 1549Q2228 1556 2226 1563Q2225 1570 2225 1576Q2226 1583 2229 1589Q2233 1594 2237 1600Q2241 1605 2246 1611Q2251 1616 2255 1621Q2259 1626 2263 1631Q2267 1637 2270 1643Q2273 1649 2276 1655Q2279 1662 2282 1668Q2284 1674 2288 1680Q2291 1686 2296 1691Q2300 1697 2306 1700Q2312 1704 2318 1707Q2324 1709 2331 1712Q2337 1714 2344 1717Q2350 1719 2357 1721Q2364 1724 2371 1726Q2377 1728 2384 1731Q2391 1733 2397 1735Q2404 1737 2410 1739Q2417 1741 2423 1743Q2429 1745 2436 1746Q2442 1748 2449 1749Q2455 1751 2462 1752Q2469 1753 2476 1755Q2482 1756 2489 1756Q2495 1757 2502 1758Q2509 1758 2516 1758Q2523 1759 2530 1759Q2536 1759 2543 1759Q2550 1758 2557 1758Q2563 1758 2570 1757Q2578 1756 2585 1756Q2592 1755 2599 1754Q2606 1754 2613 1753Q2620 1752 2627 1751Q2635 1750 2641 1749Q2648 1748 2655 1747Q2662 1746 2669 1744Q2676 1743 2682 1742Q2689 1741 2695 1739Q2702 1738 2708 1736Q2715 1735 2721 1733Q2728 1731 2734 1729Q2741 1727 2747 1725Q2753 1723 2760 1721Q2767 1719 2773 1717Q2780 1715 2786 1712Q2793 1710 2799 1708Q2805 1706 2812 1703Q2819 1701 2826 1698Q2832 1696 2839 1694Q2845 1691 2852 1689Q2859 1686 2865 1684Q2872 1681 2878 1679Q2884 1677 2891 1674Q2898 1671 2905 1669Q2911 1666 2918 1663Q2925 1661 2931 1658Q2938 1655 2944 1652Q2951 1650 2958 1647Q2964 1644 2971 1641Q2978 1638 2984 1635Q2991 1632 2998 1629Q3004 1626 3011 1623Q3018 1620 3024 1617Q3031 1614 3038 1611Q3044 1608 3051 1604Q3058 1601 3063 1598Q3069 1595 3075 1593Q3081 1590 3087 1587Q3093 1584 3099 1581Q3105 1578 3110 1575Q3116 1572 3122 1569Q3128 1566 3134 1563Q3140 1560 3146 1557Q3152 1553 3158 1550Q3163 1547 3169 1544Q3175 1541 3181 1538Q3187 1534 3193 1531Q3199 1528 3205 1525Q3211 1522 3217 1518Q3223 1515 3228 1512Q3234 1509 3240 1505Q3246 1502 3252 1499Q3258 1496 3264 1492Q3270 1489 3276 1486Q3282 1483 3288 1479Q3294 1476 3299 1473Q3305 1470 3311 1466Q3317 1463 3323 1460Q3329 1456 3335 1453Q3341 1450 3347 1446Q3353 1443 3359 1440Q3365 1436 3371 1433Q3377 1429 3382 1426Q3388 1423 3394 1419Q3400 1416 3406 1412Q3412 1409 3418 1405Q3424 1402 3430 1398Q3436 1395 3442 1391Q3447 1388 3454 1384Q3460 1380 3466 1377Q3472 1373 3478 1370Q3484 1366 3490 1362Q3496 1359 3502 1355Q3508 1351 3514 1347Q3520 1344 3526 1340Q3532 1336 3538 1332Q3544 1329 3550 1325Q3556 1321 3562 1317Q3568 1313 3574 1309Q3580 1305 3586 1301Q3592 1298 3598 1294Q3604 1290 3609 1286Q3615 1282 3621 1278Q3626 1275 3632 1270Q3638 1266 3644 1262Q3650 1258 3656 1254Q3662 1250 3668 1246Q3673 1242 3679 1238Q3685 1234 3691 1229Q3697 1225 3703 1221Q3709 1216 3715 1212Q3720 1208 3726 1204Q3732 1199 3737 1196Q3742 1192 3748 1188Q3753 1184 3758 1180Q3763 1176 3769 1172Q3774 1168 3779 1163Q3784 1159 3790 1155Q3795 1151 3800 1147Q3805 1142 3811 1138Q3816 1134 3821 1130Q3827 1125 3829 1123L3832 1121 M2198 1490Q2194 1503 2192 1509Q2189 1515 2187 1522Q2185 1528 2183 1535Q2180 1541 2178 1547Q2175 1554 2173 1560Q2170 1567 2168 1573Q2166 1580 2164 1586Q2162 1592 2160 1599Q2158 1606 2157 1613Q2155 1619 2155 1627Q2154 1634 2154 1640Q2155 1647 2156 1654Q2158 1660 2162 1666Q2166 1672 2172 1674Q2178 1677 2185 1676Q2191 1676 2198 1673Q2205 1670 2211 1667Q2218 1665 2224 1663Q2231 1662 2238 1664Q2244 1667 2248 1672Q2252 1677 2254 1684Q2256 1691 2258 1698Q2259 1704 2261 1711Q2262 1717 2265 1723Q2268 1730 2272 1735Q2277 1740 2283 1743Q2289 1747 2296 1749Q2302 1752 2309 1754Q2316 1757 2322 1759Q2329 1761 2336 1763Q2343 1765 2349 1767Q2356 1769 2362 1771Q2368 1773 2375 1774Q2381 1776 2388 1778Q2394 1779 2401 1781Q2407 1782 2414 1784Q2421 1785 2428 1786Q2434 1788 2441 1789Q2448 1790 2455 1791Q2461 1793 2468 1794Q2476 1795 2482 1795Q2489 1796 2496 1797Q2503 1797 2510 1797Q2517 1798 2524 1798Q2530 1798 2537 1798Q2544 1797 2551 1797Q2558 1796 2565 1795Q2572 1794 2579 1793Q2586 1792 2593 1790Q2599 1789 2606 1788Q2612 1786 2619 1785Q2625 1783 2632 1782Q2638 1780 2644 1779Q2651 1777 2657 1776Q2664 1775 2670 1773Q2677 1772 2683 1771Q2689 1769 2696 1768Q2702 1766 2709 1765Q2715 1764 2722 1762Q2728 1760 2735 1759Q2741 1757 2748 1755Q2754 1753 2761 1751Q2767 1749 2774 1747Q2780 1745 2787 1743Q2793 1740 2800 1738Q2806 1736 2813 1734Q2819 1731 2826 1729Q2833 1727 2839 1724Q2846 1722 2852 1719Q2859 1717 2866 1714Q2872 1712 2879 1709Q2885 1706 2892 1704Q2899 1701 2905 1698Q2912 1696 2918 1693Q2925 1690 2932 1687Q2938 1684 2945 1682Q2952 1679 2958 1676Q2965 1673 2971 1670Q2978 1667 2985 1664Q2991 1661 2998 1658Q3005 1655 3011 1652Q3018 1649 3025 1645Q3031 1642 3038 1639Q3045 1636 3051 1633Q3057 1630 3062 1627Q3068 1625 3074 1622Q3080 1619 3086 1616Q3092 1613 3098 1610Q3104 1607 3109 1604Q3115 1601 3121 1598Q3127 1595 3133 1592Q3139 1588 3145 1585Q3151 1582 3157 1579Q3162 1576 3168 1573Q3174 1569 3180 1566Q3186 1563 3192 1560Q3198 1557 3204 1553Q3210 1550 3216 1547Q3222 1544 3227 1541Q3233 1537 3239 1534Q3245 1531 3251 1528Q3257 1525 3263 1521Q3269 1518 3275 1515Q3281 1512 3287 1508Q3292 1505 3298 1502Q3304 1498 3310 1495Q3316 1492 3322 1488Q3328 1485 3334 1482Q3340 1478 3346 1475Q3352 1472 3358 1468Q3364 1465 3370 1462Q3375 1458 3381 1455Q3387 1451 3393 1448Q3399 1445 3405 1441Q3411 1438 3417 1434Q3423 1431 3429 1427Q3435 1424 3441 1420Q3447 1417 3453 1413Q3459 1410 3465 1406Q3471 1402 3477 1399Q3483 1395 3488 1392Q3494 1388 3500 1384Q3506 1381 3512 1377Q3518 1373 3524 1370Q3530 1366 3536 1362Q3542 1358 3548 1355Q3554 1351 3560 1347Q3566 1343 3572 1339Q3578 1335 3584 1332Q3590 1328 3596 1324Q3602 1320 3608 1316Q3614 1312 3620 1308Q3626 1304 3632 1300Q3639 1296 3645 1292Q3651 1288 3657 1284Q3663 1279 3669 1275Q3675 1271 3681 1267Q3687 1263 3693 1258Q3699 1254 3705 1250Q3711 1246 3717 1241Q3723 1237 3729 1232Q3735 1228 3742 1223Q3748 1219 3753 1215Q3758 1211 3763 1207Q3769 1203 3774 1199Q3779 1196 3784 1191Q3790 1187 3795 1183Q3800 1179 3805 1175Q3811 1171 3816 1167Q3821 1163 3824 1161L3826 1159 M2142 1520Q2138 1535 2136 1542Q2134 1549 2133 1555Q2131 1562 2130 1569Q2128 1576 2127 1583Q2126 1589 2125 1596Q2124 1602 2123 1610Q2122 1617 2121 1624Q2120 1631 2120 1638Q2120 1645 2120 1652Q2120 1659 2120 1666Q2121 1672 2122 1679Q2123 1687 2124 1693Q2126 1700 2128 1706Q2130 1713 2134 1719Q2137 1725 2142 1730Q2147 1734 2153 1737Q2159 1740 2166 1741Q2173 1743 2179 1742Q2186 1741 2193 1739Q2200 1737 2207 1736Q2213 1735 2218 1740Q2222 1745 2225 1751Q2228 1757 2232 1762Q2236 1767 2242 1772Q2247 1776 2253 1779Q2259 1783 2265 1785Q2271 1787 2278 1789Q2284 1792 2291 1794Q2297 1796 2303 1798Q2310 1799 2316 1801Q2323 1803 2330 1805Q2337 1806 2343 1808Q2350 1810 2357 1811Q2364 1813 2370 1814Q2377 1816 2383 1817Q2389 1819 2396 1820Q2403 1822 2410 1823Q2417 1825 2424 1826Q2430 1827 2437 1829Q2444 1830 2451 1831Q2458 1832 2465 1833Q2472 1834 2478 1834Q2485 1835 2492 1835Q2498 1836 2505 1835Q2512 1835 2519 1835Q2526 1834 2533 1833Q2540 1832 2547 1830Q2553 1829 2560 1827Q2566 1825 2573 1824Q2579 1822 2586 1820Q2592 1818 2599 1816Q2605 1814 2612 1813Q2618 1811 2625 1809Q2631 1808 2637 1807Q2644 1805 2650 1804Q2657 1803 2663 1802Q2670 1801 2677 1800Q2684 1799 2691 1798Q2698 1797 2705 1796Q2712 1795 2719 1794Q2725 1792 2732 1791Q2738 1789 2744 1788Q2751 1786 2757 1784Q2764 1782 2770 1780Q2777 1778 2783 1776Q2790 1774 2797 1771Q2803 1769 2810 1767Q2816 1764 2823 1762Q2829 1759 2836 1757Q2842 1754 2848 1752Q2855 1749 2861 1746Q2867 1744 2874 1741Q2881 1738 2887 1736Q2894 1733 2901 1730Q2907 1727 2914 1724Q2920 1722 2927 1719Q2934 1716 2940 1713Q2947 1710 2953 1707Q2959 1705 2966 1702Q2972 1699 2979 1696Q2985 1693 2992 1690Q2999 1687 3005 1683Q3012 1680 3018 1677Q3025 1674 3031 1671Q3037 1668 3043 1665Q3049 1663 3055 1660Q3061 1657 3066 1654Q3072 1651 3078 1648Q3084 1645 3090 1642Q3096 1639 3102 1636Q3108 1633 3113 1630Q3119 1627 3125 1624Q3131 1621 3137 1618Q3143 1615 3149 1611Q3155 1608 3161 1605Q3166 1602 3172 1599Q3178 1596 3184 1592Q3190 1589 3196 1586Q3202 1583 3208 1580Q3214 1576 3220 1573Q3226 1570 3231 1567Q3237 1563 3243 1560Q3249 1557 3255 1554Q3261 1551 3267 1547Q3273 1544 3279 1541Q3285 1537 3291 1534Q3297 1531 3302 1528Q3308 1524 3314 1521Q3320 1518 3326 1514Q3332 1511 3338 1508Q3344 1504 3350 1501Q3356 1498 3362 1494Q3368 1491 3374 1488Q3379 1484 3385 1481Q3391 1477 3397 1474Q3403 1471 3409 1467Q3415 1464 3421 1460Q3427 1457 3433 1453Q3439 1450 3445 1446Q3451 1443 3457 1439Q3463 1436 3469 1432Q3475 1429 3481 1425Q3487 1421 3493 1418Q3498 1414 3504 1411Q3510 1407 3516 1403Q3522 1400 3528 1396Q3534 1392 3540 1389Q3546 1385 3552 1381Q3558 1377 3564 1374Q3570 1370 3576 1366Q3582 1362 3588 1358Q3594 1354 3600 1351Q3606 1347 3612 1343Q3618 1339 3624 1335Q3630 1331 3636 1327Q3642 1323 3648 1319Q3654 1315 3660 1311Q3666 1307 3673 1303Q3679 1299 3685 1294Q3691 1290 3697 1286Q3703 1282 3709 1278Q3715 1273 3721 1269Q3727 1265 3733 1260Q3739 1256 3745 1252Q3750 1248 3756 1244Q3762 1240 3768 1235Q3774 1231 3779 1227Q3784 1223 3790 1219Q3795 1215 3800 1211Q3805 1207 3811 1203Q3816 1199 3818 1197L3821 1195 M2087 1551Q2082 1565 2081 1571Q2079 1578 2077 1585Q2075 1592 2074 1599Q2073 1606 2072 1612Q2070 1619 2070 1626Q2069 1632 2068 1639Q2067 1646 2067 1653Q2066 1661 2066 1667Q2066 1674 2066 1681Q2067 1687 2067 1694Q2068 1701 2069 1708Q2069 1715 2071 1722Q2072 1729 2074 1736Q2076 1743 2079 1749Q2082 1755 2086 1760Q2091 1765 2097 1769Q2102 1773 2108 1776Q2114 1779 2121 1782Q2127 1785 2134 1787Q2141 1789 2147 1791Q2154 1793 2160 1794Q2167 1796 2173 1797Q2180 1799 2187 1801Q2193 1802 2199 1805Q2206 1807 2212 1810Q2219 1812 2225 1815Q2232 1817 2238 1819Q2244 1822 2251 1824Q2257 1826 2264 1827Q2270 1829 2277 1831Q2283 1832 2290 1834Q2296 1835 2303 1837Q2310 1839 2316 1840Q2322 1842 2329 1843Q2336 1845 2342 1846Q2349 1848 2355 1850Q2362 1851 2369 1853Q2375 1854 2382 1856Q2388 1858 2395 1859Q2401 1861 2408 1862Q2414 1864 2421 1865Q2428 1867 2435 1868Q2442 1869 2448 1870Q2455 1871 2462 1871Q2469 1872 2476 1872Q2483 1872 2490 1871Q2497 1871 2503 1870Q2510 1868 2517 1867Q2523 1865 2530 1863Q2536 1861 2543 1859Q2549 1857 2556 1854Q2562 1852 2569 1850Q2575 1848 2582 1845Q2588 1843 2595 1842Q2601 1840 2608 1838Q2614 1837 2622 1836Q2629 1835 2636 1834Q2643 1834 2650 1834Q2656 1834 2664 1834Q2671 1834 2678 1834Q2684 1834 2691 1834Q2697 1834 2704 1833Q2712 1833 2719 1832Q2726 1831 2733 1830Q2740 1829 2746 1828Q2753 1826 2759 1824Q2766 1822 2772 1820Q2778 1818 2784 1815Q2791 1812 2797 1809Q2804 1806 2810 1803Q2816 1800 2822 1797Q2828 1794 2833 1791Q2839 1788 2845 1786Q2851 1783 2857 1780Q2863 1777 2870 1774Q2876 1771 2883 1768Q2889 1765 2896 1762Q2903 1759 2909 1756Q2916 1753 2923 1750Q2929 1747 2936 1744Q2943 1741 2949 1738Q2956 1735 2963 1732Q2969 1729 2976 1726Q2983 1723 2989 1720Q2996 1717 3003 1714Q3009 1710 3016 1707Q3023 1704 3028 1701Q3034 1698 3040 1695Q3046 1693 3052 1690Q3058 1687 3064 1684Q3070 1681 3075 1678Q3081 1675 3087 1672Q3093 1669 3099 1666Q3105 1663 3111 1660Q3117 1657 3122 1654Q3128 1651 3134 1647Q3140 1644 3146 1641Q3152 1638 3158 1635Q3164 1632 3170 1628Q3176 1625 3181 1622Q3187 1619 3193 1616Q3199 1612 3205 1609Q3211 1606 3217 1603Q3223 1600 3229 1596Q3235 1593 3241 1590Q3246 1587 3252 1583Q3258 1580 3264 1577Q3270 1574 3276 1570Q3282 1567 3288 1564Q3294 1561 3300 1557Q3306 1554 3312 1551Q3317 1548 3323 1544Q3329 1541 3335 1538Q3341 1534 3347 1531Q3353 1528 3359 1524Q3365 1521 3371 1517Q3377 1514 3383 1511Q3389 1507 3395 1504Q3400 1501 3406 1497Q3412 1494 3418 1490Q3424 1487 3430 1483Q3436 1480 3442 1476Q3448 1473 3454 1469Q3460 1466 3466 1462Q3472 1459 3478 1455Q3484 1452 3490 1448Q3496 1445 3502 1441Q3508 1437 3514 1434Q3520 1430 3525 1426Q3531 1423 3537 1419Q3543 1415 3549 1412Q3555 1408 3561 1404Q3567 1400 3573 1397Q3579 1393 3585 1389Q3591 1385 3597 1382Q3603 1378 3609 1374Q3615 1370 3621 1366Q3627 1362 3633 1358Q3639 1354 3645 1350Q3651 1346 3657 1342Q3663 1338 3669 1334Q3675 1330 3682 1326Q3688 1322 3694 1318Q3700 1314 3706 1310Q3712 1306 3718 1302Q3724 1297 3730 1293Q3736 1289 3742 1285Q3748 1280 3754 1276Q3760 1272 3765 1268Q3771 1264 3777 1260Q3783 1255 3789 1251Q3795 1247 3801 1242Q3807 1238 3812 1234L3816 1231 M2025 1785Q2034 1794 2039 1798Q2045 1802 2051 1805Q2057 1808 2063 1810Q2070 1813 2076 1815Q2083 1817 2089 1819Q2096 1821 2102 1822Q2109 1824 2115 1825Q2122 1827 2128 1828Q2135 1829 2142 1829Q2148 1830 2155 1831Q2162 1832 2168 1834Q2175 1835 2181 1838Q2188 1841 2194 1844Q2200 1847 2207 1850Q2213 1853 2220 1855Q2227 1857 2233 1859Q2240 1860 2247 1861Q2254 1863 2261 1864Q2268 1865 2274 1867Q2281 1868 2288 1870Q2295 1871 2302 1873Q2308 1875 2315 1876Q2322 1878 2328 1880Q2334 1881 2341 1883Q2347 1885 2354 1887Q2360 1888 2366 1890Q2372 1892 2379 1893Q2385 1895 2391 1897Q2398 1899 2404 1900Q2410 1902 2417 1903Q2424 1904 2430 1905Q2437 1906 2444 1907Q2450 1908 2457 1908Q2464 1908 2471 1907Q2477 1907 2484 1906Q2491 1905 2497 1903Q2504 1901 2510 1899Q2517 1897 2524 1895Q2530 1892 2537 1890Q2543 1887 2550 1885Q2556 1882 2563 1880Q2570 1878 2576 1877Q2582 1875 2589 1874Q2596 1874 2602 1874Q2609 1874 2616 1875Q2623 1876 2630 1877Q2636 1878 2643 1879Q2650 1880 2657 1880Q2664 1881 2671 1881Q2678 1881 2685 1881Q2692 1881 2699 1881Q2706 1880 2713 1878Q2719 1877 2726 1875Q2732 1873 2739 1871Q2745 1868 2752 1865Q2759 1862 2765 1859Q2770 1856 2776 1853Q2782 1850 2788 1847Q2794 1844 2800 1840Q2806 1837 2812 1834Q2818 1831 2824 1827Q2830 1824 2835 1821Q2841 1818 2847 1815Q2853 1812 2859 1809Q2865 1806 2871 1803Q2878 1800 2884 1797Q2890 1794 2897 1791Q2903 1788 2910 1785Q2916 1782 2923 1779Q2930 1776 2936 1773Q2943 1770 2950 1767Q2956 1764 2963 1761Q2970 1758 2976 1755Q2982 1752 2989 1749Q2995 1746 3001 1743Q3008 1740 3015 1736Q3022 1733 3027 1730Q3033 1727 3039 1725Q3045 1722 3051 1719Q3057 1716 3063 1713Q3068 1710 3074 1707Q3080 1704 3086 1701Q3092 1698 3098 1695Q3104 1692 3110 1689Q3116 1686 3121 1682Q3127 1679 3133 1676Q3139 1673 3145 1670Q3151 1667 3157 1664Q3163 1660 3169 1657Q3175 1654 3180 1651Q3186 1648 3192 1644Q3198 1641 3204 1638Q3210 1635 3216 1632Q3222 1628 3228 1625Q3234 1622 3240 1619Q3245 1615 3251 1612Q3257 1609 3263 1606Q3269 1602 3275 1599Q3281 1596 3287 1593Q3293 1589 3299 1586Q3305 1583 3310 1580Q3316 1576 3322 1573Q3328 1570 3334 1566Q3340 1563 3346 1560Q3352 1556 3358 1553Q3364 1550 3370 1546Q3376 1543 3382 1540Q3388 1536 3393 1533Q3399 1529 3405 1526Q3411 1523 3417 1519Q3423 1516 3429 1512Q3435 1509 3441 1505Q3447 1502 3453 1498Q3459 1495 3465 1491Q3471 1488 3477 1484Q3483 1481 3489 1477Q3495 1474 3500 1470Q3506 1467 3512 1463Q3518 1459 3524 1456Q3530 1452 3536 1448Q3542 1445 3548 1441Q3554 1437 3560 1434Q3566 1430 3572 1426Q3578 1423 3584 1419Q3590 1415 3596 1411Q3602 1408 3608 1404Q3614 1400 3620 1396Q3626 1392 3632 1388Q3638 1384 3644 1381Q3650 1377 3656 1373Q3662 1369 3668 1365Q3673 1362 3679 1358Q3684 1354 3691 1350Q3697 1346 3703 1342Q3709 1338 3715 1334Q3721 1330 3727 1325Q3733 1321 3739 1317Q3745 1313 3751 1309Q3757 1304 3763 1300Q3769 1296 3774 1292Q3780 1289 3786 1284Q3792 1280 3798 1275Q3804 1271 3807 1269L3811 1266 M2017 1842Q2030 1845 2037 1847Q2044 1849 2051 1850Q2057 1852 2064 1853Q2071 1854 2078 1856Q2085 1857 2092 1857Q2099 1858 2106 1857Q2113 1857 2120 1856Q2126 1855 2133 1855Q2140 1855 2146 1856Q2153 1858 2159 1861Q2165 1865 2169 1869Q2174 1874 2179 1878Q2184 1883 2190 1886Q2195 1890 2202 1892Q2209 1894 2216 1895Q2223 1895 2230 1896Q2237 1896 2244 1896Q2251 1897 2257 1898Q2264 1899 2271 1900Q2278 1902 2284 1903Q2291 1905 2297 1907Q2304 1908 2310 1910Q2317 1912 2323 1913Q2330 1915 2336 1917Q2342 1918 2349 1920Q2356 1922 2362 1924Q2369 1926 2375 1928Q2381 1931 2388 1933Q2394 1935 2400 1937Q2407 1939 2414 1940Q2420 1942 2427 1943Q2434 1945 2440 1946Q2447 1947 2453 1948Q2460 1949 2467 1949Q2474 1950 2481 1949Q2488 1948 2494 1947Q2501 1945 2507 1943Q2514 1941 2520 1940Q2527 1938 2533 1936Q2540 1934 2546 1933Q2553 1932 2560 1931Q2567 1930 2574 1929Q2581 1928 2588 1928Q2595 1927 2601 1926Q2608 1926 2615 1925Q2622 1924 2629 1923Q2635 1922 2642 1921Q2649 1920 2656 1919Q2664 1918 2670 1917Q2676 1915 2683 1914Q2689 1912 2696 1910Q2702 1908 2709 1906Q2715 1904 2722 1901Q2729 1899 2735 1896Q2742 1893 2748 1890Q2755 1887 2762 1884Q2768 1881 2774 1878Q2780 1875 2786 1872Q2792 1869 2798 1867Q2804 1864 2809 1861Q2815 1858 2821 1855Q2827 1852 2834 1849Q2840 1846 2846 1843Q2852 1840 2859 1837Q2865 1834 2872 1831Q2879 1828 2885 1825Q2892 1822 2899 1819Q2905 1816 2912 1813Q2919 1810 2925 1807Q2932 1804 2939 1801Q2945 1798 2952 1795Q2959 1792 2965 1789Q2972 1785 2979 1782Q2985 1779 2992 1776Q2999 1773 3005 1770Q3012 1766 3014 1766L3015 1765 M3413 1550Q3425 1543 3431 1539Q3437 1536 3443 1532Q3449 1529 3455 1525Q3461 1522 3467 1518Q3473 1515 3479 1511Q3485 1508 3491 1504Q3497 1501 3503 1497Q3509 1494 3514 1490Q3520 1487 3526 1483Q3533 1479 3539 1476Q3545 1472 3550 1468Q3556 1465 3562 1461Q3568 1457 3574 1454Q3580 1450 3586 1446Q3592 1443 3598 1439Q3604 1435 3610 1431Q3616 1428 3622 1424Q3628 1420 3634 1416Q3640 1412 3646 1408Q3652 1405 3658 1401Q3664 1397 3670 1393Q3676 1389 3682 1385Q3688 1381 3694 1377Q3700 1373 3706 1369Q3712 1365 3718 1361Q3725 1357 3731 1353Q3737 1349 3743 1344Q3749 1340 3755 1336Q3761 1332 3767 1328Q3773 1324 3779 1319Q3785 1315 3791 1311Q3797 1307 3801 1303L3806 1300 M2011 1879Q2025 1881 2032 1883Q2039 1884 2046 1885Q2053 1886 2059 1887Q2066 1888 2073 1887Q2080 1887 2087 1886Q2093 1885 2100 1883Q2106 1882 2113 1880Q2119 1879 2126 1879Q2133 1879 2138 1883Q2143 1887 2146 1893Q2149 1899 2153 1905Q2156 1911 2160 1917Q2164 1922 2170 1926Q2176 1930 2183 1931Q2190 1931 2197 1931Q2204 1930 2211 1929Q2217 1928 2224 1927Q2231 1927 2238 1927Q2245 1928 2251 1929Q2258 1930 2265 1932Q2272 1933 2279 1934Q2286 1936 2292 1937Q2299 1938 2306 1939Q2313 1941 2320 1942Q2327 1944 2333 1946Q2340 1948 2346 1951Q2353 1954 2359 1957Q2365 1960 2371 1963Q2376 1967 2382 1970Q2388 1973 2394 1976Q2399 1980 2404 1985Q2408 1990 2411 1996Q2414 2003 2418 2008Q2422 2014 2429 2014Q2436 2015 2443 2013Q2449 2012 2456 2009Q2463 2006 2469 2003Q2476 2000 2483 1997Q2489 1994 2496 1991Q2502 1988 2509 1986Q2516 1983 2522 1981Q2529 1979 2535 1977Q2542 1975 2548 1974Q2555 1972 2561 1971Q2567 1969 2574 1968Q2580 1966 2587 1965Q2593 1963 2600 1962Q2606 1960 2613 1959Q2619 1957 2625 1955Q2632 1954 2638 1952Q2645 1950 2651 1948Q2658 1946 2664 1944Q2671 1942 2677 1940Q2684 1938 2691 1936Q2697 1934 2704 1931Q2710 1929 2713 1928L2716 1927 M3761 1362Q3773 1354 3778 1350Q3784 1346 3789 1342Q3795 1338 3798 1336L3801 1334 M2007 1911Q2021 1913 2027 1914Q2034 1916 2041 1916Q2048 1917 2055 1918Q2062 1918 2069 1918Q2075 1917 2082 1916Q2089 1915 2096 1914Q2103 1913 2109 1916Q2115 1920 2120 1925Q2124 1930 2129 1935Q2134 1940 2139 1944Q2143 1949 2149 1952Q2155 1955 2161 1957Q2168 1958 2175 1957Q2181 1957 2188 1956Q2196 1955 2202 1955Q2209 1954 2216 1954Q2224 1955 2230 1955Q2237 1956 2244 1958Q2251 1959 2258 1960Q2264 1960 2271 1961Q2278 1961 2285 1962Q2292 1962 2299 1963Q2306 1965 2313 1966Q2319 1968 2325 1972Q2331 1975 2337 1979Q2342 1984 2347 1988Q2352 1993 2357 1998Q2362 2003 2366 2009Q2371 2014 2374 2020Q2377 2026 2381 2032Q2384 2037 2390 2041Q2396 2045 2403 2045Q2410 2046 2416 2045Q2423 2044 2429 2042Q2436 2041 2442 2039Q2449 2036 2455 2034Q2462 2032 2469 2029Q2475 2027 2482 2025Q2488 2023 2495 2021Q2501 2019 2508 2017Q2514 2015 2521 2013Q2527 2012 2534 2010Q2540 2009 2547 2007Q2553 2005 2559 2004Q2566 2002 2572 2000Q2579 1999 2582 1998L2586 1997 M2003 1941Q2016 1944 2023 1945Q2030 1946 2037 1947Q2044 1947 2051 1948Q2058 1948 2065 1949Q2072 1949 2079 1950Q2085 1951 2092 1953Q2098 1954 2104 1957Q2110 1960 2116 1963Q2122 1967 2128 1970Q2134 1973 2140 1975Q2147 1977 2154 1978Q2161 1978 2168 1978Q2175 1978 2182 1978Q2189 1978 2196 1979Q2203 1979 2210 1980Q2216 1981 2223 1982Q2229 1983 2236 1983Q2243 1984 2250 1984Q2257 1984 2264 1984Q2271 1984 2278 1984Q2285 1984 2292 1986Q2298 1988 2304 1991Q2310 1995 2314 2001Q2319 2006 2323 2012Q2326 2017 2330 2023Q2334 2029 2338 2034Q2342 2040 2346 2045Q2350 2050 2355 2054Q2360 2059 2366 2062Q2372 2066 2378 2067Q2385 2069 2392 2069Q2399 2069 2406 2068Q2413 2067 2421 2066Q2428 2064 2434 2063Q2441 2062 2447 2060Q2453 2059 2460 2058Q2466 2056 2473 2055Q2479 2054 2480 2054L2481 2053 M1999 1969Q2012 1971 2019 1971Q2026 1972 2033 1972Q2040 1973 2047 1973Q2054 1974 2061 1975Q2068 1976 2075 1977Q2082 1978 2088 1980Q2095 1982 2102 1984Q2108 1987 2115 1989Q2121 1992 2127 1993Q2134 1995 2141 1996Q2147 1998 2154 1998Q2161 1999 2168 2000Q2175 2001 2182 2003Q2189 2004 2195 2005Q2201 2006 2208 2007Q2215 2008 2222 2008Q2229 2008 2236 2007Q2243 2007 2250 2007Q2257 2006 2264 2007Q2271 2007 2277 2010Q2284 2013 2288 2018Q2292 2024 2295 2030Q2297 2036 2300 2043Q2303 2049 2308 2054Q2312 2059 2316 2064Q2321 2069 2327 2073Q2332 2078 2338 2081Q2344 2085 2351 2087Q2357 2089 2364 2090Q2371 2092 2378 2092Q2385 2092 2392 2092Q2399 2092 2405 2092L2410 2092 M1995 1993Q2009 1994 2016 1994Q2023 1995 2030 1995Q2037 1996 2044 1996Q2051 1997 2058 1998Q2065 1999 2071 2000Q2078 2001 2084 2003Q2090 2005 2097 2007Q2104 2009 2110 2011Q2117 2013 2123 2014Q2129 2016 2136 2018Q2142 2019 2149 2021Q2155 2023 2162 2025Q2168 2027 2175 2028Q2182 2030 2189 2031Q2196 2032 2202 2033Q2209 2033 2216 2033Q2223 2033 2230 2033Q2237 2033 2243 2035Q2250 2036 2255 2040Q2260 2045 2263 2051Q2266 2057 2269 2063Q2272 2069 2276 2074Q2280 2080 2285 2084Q2290 2089 2296 2093Q2302 2097 2307 2100Q2313 2104 2320 2107Q2326 2110 2333 2112Q2340 2114 2346 2116Q2353 2118 2357 2118L2360 2119 M1992 2014Q2005 2015 2012 2015Q2019 2016 2026 2016Q2032 2017 2039 2018Q2046 2019 2053 2020Q2060 2021 2067 2023Q2074 2024 2080 2026Q2086 2027 2093 2029Q2099 2031 2106 2034Q2112 2036 2119 2038Q2126 2040 2132 2043Q2139 2045 2146 2048Q2152 2050 2159 2052Q2166 2054 2172 2056Q2178 2058 2185 2059Q2191 2061 2198 2063Q2205 2064 2212 2067Q2218 2069 2223 2073Q2228 2077 2233 2083Q2237 2088 2242 2093Q2246 2098 2251 2103Q2257 2108 2262 2112Q2267 2116 2273 2120Q2279 2123 2285 2127Q2291 2130 2297 2133Q2303 2136 2309 2139Q2315 2141 2316 2142L2317 2142 M1990 2034Q2003 2035 2010 2036Q2016 2036 2023 2037Q2029 2038 2036 2039Q2043 2040 2050 2042Q2057 2043 2064 2045Q2070 2047 2077 2049Q2083 2052 2089 2054Q2096 2056 2102 2059Q2109 2061 2115 2064Q2122 2066 2128 2069Q2134 2072 2140 2074Q2147 2077 2153 2080Q2159 2082 2165 2085Q2171 2088 2177 2091Q2184 2094 2189 2097Q2195 2101 2200 2106Q2206 2110 2211 2114Q2216 2119 2221 2123Q2226 2128 2232 2132Q2237 2137 2242 2141Q2248 2145 2254 2149Q2260 2153 2265 2156Q2271 2159 2275 2161L2278 2163 M1987 2053Q2001 2055 2007 2056Q2014 2057 2021 2058Q2027 2059 2034 2061Q2040 2063 2047 2065Q2053 2067 2060 2069Q2067 2072 2073 2074Q2080 2077 2087 2079Q2093 2082 2099 2085Q2105 2087 2111 2090Q2117 2093 2124 2096Q2130 2099 2136 2102Q2142 2106 2147 2109Q2153 2112 2159 2116Q2164 2120 2170 2124Q2175 2128 2180 2132Q2185 2136 2191 2141Q2196 2146 2201 2150Q2206 2155 2211 2159Q2217 2164 2222 2168Q2227 2172 2232 2176Q2238 2180 2240 2181L2242 2182 M1984 2073Q1998 2075 2005 2076Q2011 2078 2018 2080Q2024 2082 2030 2084Q2037 2086 2043 2088Q2049 2090 2056 2093Q2062 2095 2068 2098Q2074 2101 2080 2103Q2086 2106 2092 2109Q2098 2112 2104 2116Q2110 2119 2116 2122Q2122 2126 2127 2130Q2133 2133 2138 2137Q2144 2142 2149 2146Q2154 2150 2159 2154Q2164 2159 2168 2163Q2173 2168 2178 2173Q2183 2178 2188 2182Q2192 2187 2197 2191Q2203 2195 2206 2198L2209 2200 M1981 2092Q1995 2096 2001 2098Q2008 2100 2015 2102Q2022 2105 2028 2107Q2035 2109 2041 2112Q2048 2115 2054 2118Q2060 2120 2066 2123Q2072 2126 2077 2129Q2083 2133 2089 2136Q2095 2140 2100 2144Q2106 2148 2111 2152Q2117 2156 2122 2161Q2127 2165 2132 2169Q2136 2174 2141 2179Q2146 2184 2151 2190Q2155 2195 2160 2200Q2165 2205 2170 2209Q2174 2214 2176 2216L2178 2217 M1978 2113Q1992 2117 1998 2119Q2004 2121 2011 2124Q2017 2126 2023 2129Q2030 2132 2035 2134Q2041 2137 2047 2140Q2054 2144 2059 2147Q2065 2151 2070 2154Q2076 2158 2081 2162Q2086 2166 2091 2170Q2096 2174 2101 2179Q2106 2183 2110 2188Q2115 2193 2119 2199Q2123 2204 2127 2209Q2132 2215 2137 2220Q2141 2225 2145 2229L2149 2233 M1975 2134Q1989 2138 1995 2141Q2001 2143 2007 2146Q2014 2149 2019 2152Q2025 2155 2031 2158Q2037 2161 2043 2165Q2048 2169 2054 2173Q2059 2177 2064 2181Q2069 2186 2074 2190Q2079 2195 2084 2200Q2088 2206 2092 2211Q2096 2216 2100 2222Q2104 2227 2108 2232Q2112 2237 2117 2243L2121 2248 M1973 2154Q1985 2159 1991 2162Q1996 2165 2003 2168Q2009 2172 2015 2175Q2021 2179 2026 2183Q2032 2187 2037 2191Q2042 2195 2047 2200Q2052 2205 2057 2210Q2061 2215 2065 2221Q2069 2226 2073 2232Q2077 2238 2081 2243Q2085 2249 2089 2254Q2093 2260 2094 2261L2095 2262 M1970 2175Q1981 2181 1987 2184Q1993 2188 1998 2191Q2004 2195 2009 2199Q2014 2203 2020 2208Q2025 2213 2030 2218Q2034 2223 2038 2229Q2042 2234 2046 2240Q2050 2246 2053 2251Q2057 2257 2060 2263Q2064 2268 2067 2272L2069 2276 M1966 2197Q1978 2204 1983 2208Q1988 2212 1994 2217Q1999 2221 2004 2226Q2008 2231 2013 2237Q2017 2243 2021 2248Q2024 2254 2028 2260Q2031 2266 2034 2272Q2038 2277 2042 2283L2045 2289 M1963 2221Q1974 2230 1979 2235Q1984 2239 1988 2245Q1993 2251 1996 2256Q2000 2262 2003 2268Q2006 2274 2010 2280Q2013 2286 2016 2292Q2019 2297 2021 2299L2022 2302 M1959 2247Q1968 2257 1972 2263Q1976 2268 1979 2274Q1982 2280 1985 2286Q1988 2293 1991 2298Q1994 2304 1997 2309L1999 2314 M1955 2279Q1961 2292 1964 2298Q1967 2304 1970 2310Q1973 2316 1975 2321L1978 2325 M1949 2321Q1955 2334 1956 2335L1956 2337 M2984 1066Q2976 1077 2972 1082Q2968 1087 2964 1093Q2960 1099 2956 1106Q2952 1112 2949 1118Q2946 1124 2944 1130Q2941 1137 2939 1144Q2937 1151 2936 1158Q2935 1166 2936 1173Q2937 1180 2940 1186Q2943 1192 2948 1197Q2953 1201 2960 1204Q2966 1207 2973 1209Q2979 1210 2986 1211Q2993 1211 3000 1211Q3006 1211 3006 1211L3006 1211 M2778 1177Q2772 1189 2769 1196Q2766 1202 2764 1209Q2761 1215 2759 1222Q2757 1228 2755 1235Q2753 1242 2752 1249Q2750 1255 2750 1263Q2749 1270 2749 1277Q2749 1283 2750 1290Q2751 1297 2753 1303Q2754 1309 2757 1316Q2760 1322 2764 1327Q2768 1333 2774 1337Q2779 1342 2784 1346Q2790 1349 2796 1352Q2803 1355 2809 1357Q2815 1359 2822 1361Q2829 1362 2836 1363Q2842 1364 2849 1365Q2856 1365 2863 1366Q2870 1366 2877 1365Q2884 1365 2890 1365L2896 1364 M2726 1205Q2720 1219 2717 1225Q2715 1232 2713 1238Q2710 1245 2708 1252Q2706 1259 2704 1266Q2703 1273 2702 1279Q2700 1286 2700 1293Q2699 1300 2699 1307Q2699 1314 2700 1321Q2701 1328 2703 1334Q2705 1341 2708 1348Q2710 1354 2714 1359Q2718 1365 2722 1370Q2727 1375 2732 1379Q2738 1383 2744 1387Q2750 1390 2756 1393Q2763 1396 2770 1398Q2777 1400 2783 1401Q2790 1403 2797 1404Q2804 1405 2811 1405Q2818 1406 2825 1406Q2832 1406 2838 1406Q2845 1406 2852 1405Q2858 1405 2865 1404Q2873 1404 2880 1403Q2887 1402 2894 1401Q2900 1400 2901 1400L2901 1400 M2673 1234Q2668 1247 2665 1254Q2663 1260 2660 1266Q2658 1273 2656 1280Q2654 1287 2653 1294Q2651 1300 2650 1307Q2649 1313 2648 1321Q2648 1328 2648 1335Q2647 1342 2648 1348Q2649 1355 2650 1362Q2651 1369 2654 1375Q2656 1382 2659 1388Q2662 1394 2663 1396L2665 1399 M2619 1263Q2613 1276 2611 1283Q2609 1289 2607 1295Q2605 1301 2603 1308Q2601 1316 2599 1322Q2598 1329 2597 1336Q2596 1342 2595 1349Q2594 1357 2594 1364Q2594 1370 2594 1377Q2595 1384 2596 1391Q2597 1398 2599 1405Q2600 1412 2602 1418Q2604 1425 2607 1431Q2609 1437 2612 1443Q2615 1450 2619 1455Q2623 1460 2628 1464Q2634 1468 2641 1471Q2647 1473 2654 1475Q2661 1476 2668 1477Q2675 1479 2681 1480Q2688 1480 2694 1481Q2701 1482 2707 1483Q2714 1483 2720 1484Q2727 1485 2732 1485L2738 1486 M2563 1293Q2558 1306 2556 1312Q2554 1319 2552 1326Q2550 1333 2548 1340Q2546 1347 2545 1353Q2544 1360 2543 1366Q2542 1373 2542 1380Q2541 1387 2541 1394Q2542 1401 2542 1408Q2543 1415 2545 1422Q2546 1429 2547 1436Q2549 1443 2551 1449Q2552 1456 2554 1463Q2555 1470 2556 1477Q2557 1485 2557 1491Q2557 1498 2557 1505Q2557 1512 2556 1519Q2555 1526 2555 1534Q2554 1541 2554 1548Q2554 1554 2556 1561Q2559 1567 2565 1569Q2572 1570 2578 1568Q2585 1565 2591 1560Q2597 1556 2602 1552Q2607 1548 2613 1544Q2619 1540 2625 1537Q2631 1533 2638 1531Q2644 1528 2651 1526Q2657 1525 2665 1523Q2672 1522 2679 1522Q2685 1521 2692 1521Q2698 1521 2705 1521Q2712 1521 2719 1522Q2726 1522 2733 1523Q2740 1524 2740 1524L2740 1524 M2507 1323Q2503 1336 2501 1342Q2499 1348 2497 1355Q2495 1361 2494 1368Q2492 1374 2491 1381Q2490 1387 2490 1394Q2489 1401 2490 1408Q2490 1415 2492 1421Q2493 1428 2496 1435Q2498 1441 2501 1447Q2504 1453 2507 1459Q2509 1466 2512 1472Q2514 1479 2516 1485Q2518 1492 2519 1498Q2520 1505 2520 1512Q2521 1519 2521 1526Q2521 1533 2521 1540Q2521 1547 2521 1554Q2521 1561 2521 1567Q2521 1574 2521 1581Q2522 1587 2524 1594Q2526 1600 2531 1605Q2535 1611 2542 1613Q2548 1614 2555 1613Q2562 1612 2569 1609Q2576 1606 2582 1602Q2588 1598 2594 1594Q2600 1590 2606 1585Q2612 1581 2618 1577Q2624 1573 2630 1570Q2636 1566 2642 1563Q2649 1561 2656 1559Q2662 1557 2669 1555Q2675 1554 2682 1554Q2689 1553 2690 1553L2691 1553 M2451 1354Q2447 1366 2445 1372Q2443 1379 2441 1386Q2439 1393 2437 1400Q2435 1407 2434 1413Q2433 1420 2432 1427Q2431 1434 2432 1441Q2432 1448 2435 1454Q2438 1460 2443 1464Q2449 1469 2454 1472Q2460 1475 2465 1479Q2471 1483 2476 1488Q2480 1493 2484 1499Q2487 1505 2489 1512Q2491 1518 2492 1525Q2494 1532 2494 1539Q2494 1546 2494 1552Q2494 1559 2494 1566Q2494 1573 2494 1580Q2495 1587 2495 1593Q2496 1600 2497 1606Q2498 1613 2501 1619Q2504 1626 2509 1631Q2513 1636 2519 1640Q2525 1643 2532 1644Q2539 1644 2546 1643Q2553 1642 2560 1640Q2567 1637 2572 1634Q2578 1631 2584 1627Q2590 1624 2596 1620Q2602 1616 2608 1612Q2614 1608 2620 1604Q2626 1601 2632 1598Q2638 1595 2645 1592Q2651 1589 2658 1588Q2664 1586 2671 1586Q2678 1585 2685 1587Q2691 1588 2698 1590Q2704 1593 2709 1597Q2715 1601 2721 1605Q2726 1608 2731 1611L2737 1614 M2395 1384Q2390 1397 2387 1403Q2385 1410 2382 1416Q2380 1423 2377 1430Q2374 1436 2371 1443Q2368 1450 2364 1456Q2361 1462 2357 1468Q2353 1475 2350 1481Q2346 1487 2342 1493Q2339 1500 2336 1506Q2332 1512 2330 1518Q2327 1525 2325 1532Q2323 1539 2322 1547Q2321 1554 2322 1561Q2324 1568 2329 1572Q2333 1577 2340 1577Q2347 1578 2353 1575Q2359 1573 2365 1569Q2371 1565 2376 1561Q2381 1557 2387 1552Q2392 1547 2397 1543Q2402 1539 2408 1535Q2413 1531 2419 1528Q2425 1525 2431 1524Q2438 1522 2444 1524Q2451 1525 2456 1530Q2461 1534 2463 1541Q2466 1547 2467 1555Q2468 1562 2468 1569Q2468 1576 2467 1583Q2467 1590 2467 1596Q2466 1603 2467 1610Q2467 1617 2468 1624Q2470 1631 2472 1637Q2475 1643 2479 1649Q2483 1654 2488 1658Q2493 1663 2499 1666Q2506 1669 2512 1671Q2519 1672 2526 1673Q2533 1673 2541 1672Q2548 1670 2554 1669Q2561 1667 2567 1664Q2574 1661 2580 1658Q2586 1655 2592 1652Q2598 1648 2604 1645Q2610 1642 2615 1638Q2621 1635 2627 1632Q2634 1629 2640 1627Q2646 1625 2653 1625Q2660 1625 2666 1627Q2673 1629 2678 1633Q2684 1636 2689 1641Q2694 1645 2699 1648Q2705 1652 2711 1654Q2718 1656 2725 1657Q2732 1657 2739 1656Q2746 1656 2753 1654Q2759 1652 2760 1652L2761 1652 M2338 1415Q2334 1427 2331 1434Q2329 1440 2327 1446Q2324 1453 2322 1459Q2320 1466 2317 1472Q2315 1478 2313 1485Q2310 1491 2308 1498Q2306 1504 2304 1510Q2302 1516 2300 1523Q2298 1530 2296 1537Q2295 1544 2294 1551Q2293 1557 2293 1564Q2293 1571 2294 1578Q2295 1585 2297 1592Q2299 1598 2303 1604Q2306 1610 2311 1614Q2317 1619 2323 1621Q2330 1624 2336 1625Q2343 1626 2350 1625Q2356 1625 2363 1624Q2369 1622 2376 1620Q2382 1617 2388 1614Q2394 1611 2401 1608Q2407 1605 2413 1610Q2419 1614 2420 1621Q2421 1628 2422 1635Q2424 1642 2426 1648Q2428 1655 2432 1660Q2436 1666 2441 1671Q2446 1676 2451 1680Q2456 1684 2462 1688Q2468 1691 2474 1694Q2481 1697 2487 1699Q2494 1701 2500 1702Q2507 1703 2513 1703Q2520 1704 2527 1704Q2534 1703 2541 1702Q2548 1701 2554 1700Q2561 1699 2567 1697Q2574 1695 2580 1693Q2587 1691 2593 1689Q2600 1687 2606 1685Q2613 1683 2620 1682Q2626 1681 2633 1681Q2640 1682 2646 1683Q2653 1685 2660 1686Q2667 1688 2674 1689Q2680 1691 2687 1691Q2694 1692 2701 1692Q2708 1692 2714 1691Q2721 1690 2727 1689Q2734 1688 2740 1686Q2747 1684 2753 1682Q2760 1680 2766 1677Q2773 1675 2780 1672Q2786 1670 2793 1667Q2800 1664 2806 1661Q2813 1659 2819 1656Q2826 1653 2833 1651Q2839 1648 2846 1646Q2852 1643 2859 1641Q2865 1638 2872 1636Q2879 1633 2885 1631Q2892 1628 2898 1626Q2905 1623 2912 1621Q2918 1618 2925 1616Q2931 1613 2938 1611Q2945 1608 2951 1605Q2958 1602 2964 1600Q2971 1597 2976 1595L2981 1593 M2283 1445Q2279 1457 2276 1464Q2274 1471 2272 1478Q2270 1485 2269 1492Q2267 1499 2266 1506Q2264 1513 2263 1519Q2262 1526 2261 1532Q2260 1539 2259 1546Q2259 1553 2259 1560Q2259 1567 2259 1574Q2260 1581 2262 1588Q2264 1594 2267 1601Q2269 1607 2272 1613Q2275 1619 2278 1626Q2281 1632 2285 1638Q2288 1644 2291 1649Q2295 1655 2299 1661Q2303 1666 2308 1670Q2313 1674 2319 1677Q2325 1681 2332 1683Q2338 1686 2345 1688Q2352 1691 2358 1693Q2365 1696 2371 1698Q2378 1701 2384 1703Q2390 1706 2396 1709Q2403 1711 2409 1714Q2415 1716 2422 1719Q2428 1721 2435 1724Q2442 1726 2448 1728Q2454 1730 2461 1731Q2467 1733 2474 1734Q2481 1736 2488 1737Q2495 1738 2501 1738Q2508 1739 2515 1739Q2522 1739 2528 1739Q2535 1739 2542 1739Q2548 1739 2555 1738Q2562 1737 2568 1737Q2575 1736 2582 1735Q2588 1735 2595 1734Q2602 1733 2609 1733Q2615 1732 2622 1732Q2629 1731 2637 1731Q2644 1730 2650 1730Q2657 1729 2664 1729Q2670 1728 2678 1727Q2685 1726 2692 1725Q2699 1724 2705 1722Q2712 1721 2718 1719Q2725 1718 2731 1716Q2738 1714 2744 1712Q2751 1710 2757 1708Q2764 1706 2771 1703Q2777 1701 2784 1699Q2790 1696 2797 1694Q2803 1691 2810 1689Q2817 1687 2823 1684Q2830 1682 2836 1679Q2842 1677 2849 1675Q2856 1672 2863 1670Q2869 1667 2876 1665Q2882 1662 2889 1660Q2895 1657 2902 1655Q2909 1652 2915 1649Q2922 1647 2928 1644Q2935 1641 2942 1639L2948 1636 M2226 1475Q2222 1488 2220 1494Q2218 1500 2216 1506Q2214 1513 2211 1519Q2209 1526 2206 1532Q2203 1538 2200 1544Q2197 1550 2194 1556Q2190 1562 2187 1568Q2184 1574 2181 1580Q2178 1586 2176 1593Q2174 1599 2172 1606Q2170 1613 2170 1620Q2169 1627 2171 1634Q2172 1641 2179 1644Q2185 1648 2191 1646Q2197 1644 2204 1641Q2211 1639 2217 1637Q2224 1636 2231 1636Q2237 1637 2243 1640Q2249 1643 2254 1649Q2259 1654 2262 1660Q2265 1666 2267 1672Q2269 1679 2271 1686Q2273 1693 2275 1699Q2278 1705 2282 1710Q2286 1716 2291 1720Q2297 1724 2303 1727Q2309 1730 2315 1732Q2322 1735 2328 1737Q2335 1739 2342 1742Q2349 1744 2355 1746Q2362 1748 2368 1750Q2375 1752 2381 1754Q2388 1756 2394 1758Q2401 1759 2408 1761Q2415 1763 2421 1764Q2428 1766 2435 1767Q2442 1769 2449 1770Q2455 1771 2462 1772Q2469 1774 2476 1775Q2483 1775 2490 1776Q2496 1777 2501 1777L2505 1778 M2170 1505Q2166 1518 2164 1525Q2162 1532 2160 1539Q2158 1546 2156 1553Q2154 1560 2152 1567Q2150 1574 2149 1581Q2147 1588 2146 1595Q2144 1602 2143 1608Q2142 1615 2141 1622Q2140 1629 2139 1636Q2139 1644 2139 1650Q2139 1657 2140 1664Q2141 1671 2144 1678Q2146 1684 2149 1690Q2152 1696 2157 1701Q2162 1706 2169 1708Q2176 1710 2182 1709Q2188 1708 2194 1705Q2200 1702 2206 1698Q2212 1694 2218 1692Q2225 1690 2231 1692Q2237 1695 2239 1701Q2242 1708 2243 1715Q2244 1722 2246 1729Q2247 1735 2250 1742Q2252 1748 2257 1753Q2262 1758 2268 1762Q2274 1765 2281 1768Q2287 1770 2294 1772Q2301 1775 2307 1777Q2314 1779 2321 1781Q2327 1783 2333 1785Q2340 1787 2346 1788Q2352 1790 2359 1791Q2365 1793 2372 1795Q2378 1796 2385 1798Q2392 1799 2399 1801Q2405 1802 2412 1804Q2419 1805 2426 1806Q2433 1808 2440 1809Q2447 1810 2454 1811Q2461 1812 2467 1813Q2474 1814 2481 1815Q2488 1816 2495 1816Q2502 1817 2509 1817Q2516 1817 2523 1817Q2530 1816 2537 1816Q2544 1815 2551 1814L2559 1813 M2115 1535Q2110 1550 2108 1557Q2107 1564 2105 1571Q2103 1577 2102 1584Q2101 1591 2099 1597Q2098 1604 2097 1610Q2097 1617 2096 1624Q2095 1631 2095 1638Q2094 1646 2094 1652Q2094 1659 2094 1666Q2094 1673 2095 1679Q2095 1686 2096 1693Q2097 1700 2099 1707Q2100 1714 2102 1721Q2104 1727 2107 1734Q2110 1740 2114 1744Q2119 1749 2124 1753Q2130 1758 2136 1761Q2142 1764 2148 1766Q2155 1768 2162 1770Q2168 1771 2175 1772Q2182 1773 2189 1774Q2195 1775 2202 1778Q2208 1780 2214 1784Q2219 1787 2225 1791Q2231 1794 2237 1797Q2243 1799 2249 1802Q2256 1804 2263 1806Q2269 1809 2276 1810Q2282 1812 2288 1814Q2295 1816 2301 1817Q2308 1819 2314 1821Q2320 1822 2327 1824Q2334 1825 2341 1827Q2347 1828 2354 1830Q2360 1832 2367 1833Q2373 1835 2380 1836Q2387 1838 2393 1839Q2400 1841 2407 1842Q2414 1844 2415 1844L2415 1844 M2059 1566Q2054 1580 2054 1583L2053 1586 M2038 1689Q2039 1703 2039 1709Q2040 1716 2040 1723Q2041 1730 2043 1737Q2044 1744 2046 1751Q2047 1758 2050 1764Q2053 1770 2058 1775Q2063 1780 2069 1784Q2074 1788 2080 1791Q2086 1794 2092 1796Q2098 1799 2105 1801Q2111 1803 2118 1805Q2124 1807 2130 1809Q2137 1811 2143 1812Q2150 1813 2157 1815Q2164 1816 2171 1817Q2177 1819 2184 1821Q2190 1823 2196 1825Q2203 1828 2209 1830Q2216 1833 2222 1835Q2229 1838 2236 1840Q2243 1842 2250 1843Q2256 1845 2263 1846Q2270 1848 2277 1849Q2283 1851 2290 1852Q2297 1854 2303 1856Q2310 1857 2316 1859Q2323 1860 2329 1862Q2336 1864 2343 1865Q2349 1867 2355 1868Q2362 1870 2367 1872L2372 1873 M2020 1818Q2033 1824 2040 1826Q2047 1828 2053 1830Q2059 1832 2066 1834Q2072 1835 2079 1837Q2085 1838 2091 1840Q2098 1841 2105 1842Q2112 1843 2119 1843Q2126 1843 2133 1843Q2140 1843 2147 1844Q2153 1844 2160 1846Q2167 1848 2173 1852Q2179 1855 2184 1859Q2190 1863 2196 1866Q2201 1869 2208 1872Q2215 1874 2222 1875Q2228 1877 2235 1878Q2241 1879 2248 1880Q2254 1881 2261 1882Q2268 1883 2275 1884Q2282 1886 2288 1887Q2295 1889 2302 1891Q2308 1892 2314 1894Q2321 1896 2327 1897Q2334 1899 2340 1901Q2346 1902 2353 1904L2360 1906 M2014 1861Q2028 1864 2034 1865Q2041 1867 2048 1868Q2055 1869 2062 1870Q2068 1872 2075 1872Q2082 1873 2088 1872Q2095 1872 2102 1871Q2109 1869 2116 1868Q2122 1867 2129 1867Q2136 1867 2143 1869Q2149 1871 2153 1876Q2158 1880 2162 1886Q2166 1892 2170 1897Q2175 1903 2180 1907Q2186 1911 2192 1912Q2199 1914 2206 1913Q2212 1913 2219 1913Q2227 1912 2233 1912Q2240 1912 2246 1913Q2253 1913 2260 1915Q2267 1916 2273 1917Q2280 1919 2287 1921Q2294 1922 2300 1924Q2307 1925 2314 1927Q2321 1928 2327 1930Q2334 1931 2338 1933L2342 1934" fill="none" stroke="#08380e" stroke-width="3.1" stroke-linecap="round"/>
<path transform="translate(3237.3 986.3) rotate(-28.2)" d="M17 0 L-14 -11 L-14 11 Z" fill="#080c08"/>
<path transform="translate(3280.7 1008.3) rotate(149.8)" d="M17 0 L-14 -11 L-14 11 Z" fill="#080c08"/>
<path transform="translate(3425.5 961.0) rotate(135.1)" d="M17 0 L-14 -11 L-14 11 Z" fill="#080c08"/>
<path transform="translate(3409.7 1006.6) rotate(142.5)" d="M17 0 L-14 -11 L-14 11 Z" fill="#080c08"/>
<path transform="translate(3198.9 1103.8) rotate(153.9)" d="M17 0 L-14 -11 L-14 11 Z" fill="#080c08"/>
<path transform="translate(3367.6 1093.4) rotate(147.7)" d="M17 0 L-14 -11 L-14 11 Z" fill="#080c08"/>
<path transform="translate(3104.7 1172.8) rotate(160.2)" d="M17 0 L-14 -11 L-14 11 Z" fill="#080c08"/>
<path transform="translate(3453.8 1152.9) rotate(146.2)" d="M17 0 L-14 -11 L-14 11 Z" fill="#080c08"/>
<path transform="translate(3057.3 1218.2) rotate(164.0)" d="M17 0 L-14 -11 L-14 11 Z" fill="#080c08"/>
<path transform="translate(3280.8 1201.1) rotate(150.8)" d="M17 0 L-14 -11 L-14 11 Z" fill="#080c08"/>
<path transform="translate(2984.7 1299.2) rotate(167.5)" d="M17 0 L-14 -11 L-14 11 Z" fill="#080c08"/>
<path transform="translate(3387.0 1252.8) rotate(149.1)" d="M17 0 L-14 -11 L-14 11 Z" fill="#080c08"/>
<path transform="translate(3402.9 1300.4) rotate(149.1)" d="M17 0 L-14 -11 L-14 11 Z" fill="#080c08"/>
<path transform="translate(3492.8 1273.8) rotate(147.6)" d="M17 0 L-14 -11 L-14 11 Z" fill="#080c08"/>
<path transform="translate(2958.2 1337.7) rotate(168.3)" d="M17 0 L-14 -11 L-14 11 Z" fill="#080c08"/>
<path transform="translate(3118.6 1399.8) rotate(154.2)" d="M17 0 L-14 -11 L-14 11 Z" fill="#080c08"/>
<path transform="translate(2882.3 1420.5) rotate(169.9)" d="M17 0 L-14 -11 L-14 11 Z" fill="#080c08"/>
<path transform="translate(2798.3 1506.2) rotate(173.0)" d="M17 0 L-14 -11 L-14 11 Z" fill="#080c08"/>
<path transform="translate(3010.2 1506.7) rotate(157.1)" d="M17 0 L-14 -11 L-14 11 Z" fill="#080c08"/>
<path transform="translate(2932.6 1567.6) rotate(159.3)" d="M17 0 L-14 -11 L-14 11 Z" fill="#080c08"/>
<path transform="translate(2622.3 1588.7) rotate(146.9)" d="M17 0 L-14 -11 L-14 11 Z" fill="#080c08"/>
<path transform="translate(2958.8 1587.2) rotate(157.8)" d="M17 0 L-14 -11 L-14 11 Z" fill="#080c08"/>
<path transform="translate(3059.6 1600.2) rotate(154.2)" d="M17 0 L-14 -11 L-14 11 Z" fill="#080c08"/>
<path transform="translate(2950.3 1649.9) rotate(156.9)" d="M17 0 L-14 -11 L-14 11 Z" fill="#080c08"/>
<path transform="translate(3061.1 1656.6) rotate(153.7)" d="M17 0 L-14 -11 L-14 11 Z" fill="#080c08"/>
<path transform="translate(3267.4 1547.0) rotate(151.2)" d="M17 0 L-14 -11 L-14 11 Z" fill="#080c08"/>
<path transform="translate(3807.2 752.7) rotate(105.8)" d="M17 0 L-14 -11 L-14 11 Z" fill="#080c08"/>
<path transform="translate(3667.6 801.8) rotate(106.2)" d="M17 0 L-14 -11 L-14 11 Z" fill="#080c08"/>
<path transform="translate(3716.6 769.8) rotate(104.2)" d="M17 0 L-14 -11 L-14 11 Z" fill="#080c08"/>
<path transform="translate(3438.3 868.9) rotate(-23.0)" d="M17 0 L-14 -11 L-14 11 Z" fill="#080c08"/>
<path transform="translate(3791.4 873.6) rotate(123.8)" d="M17 0 L-14 -11 L-14 11 Z" fill="#080c08"/>
<path transform="translate(3811.9 901.9) rotate(127.4)" d="M17 0 L-14 -11 L-14 11 Z" fill="#080c08"/>
<path transform="translate(3548.5 1018.3) rotate(138.1)" d="M17 0 L-14 -11 L-14 11 Z" fill="#080c08"/>
<path transform="translate(3723.3 1142.1) rotate(141.9)" d="M17 0 L-14 -11 L-14 11 Z" fill="#080c08"/>
<path transform="translate(3752.1 1184.2) rotate(142.8)" d="M17 0 L-14 -11 L-14 11 Z" fill="#080c08"/>
<path transform="translate(3741.6 1284.9) rotate(144.8)" d="M17 0 L-14 -11 L-14 11 Z" fill="#080c08"/>
<path transform="translate(3506.4 1294.1) rotate(147.6)" d="M17 0 L-14 -11 L-14 11 Z" fill="#080c08"/>
<path transform="translate(3489.0 1276.2) rotate(147.7)" d="M17 0 L-14 -11 L-14 11 Z" fill="#080c08"/>
<path transform="translate(2569.0 1622.9) rotate(154.7)" d="M17 0 L-14 -11 L-14 11 Z" fill="#080c08"/>
<path transform="translate(2500.7 1684.8) rotate(-162.3)" d="M17 0 L-14 -11 L-14 11 Z" fill="#080c08"/>
<path transform="translate(2427.6 1786.5) rotate(-168.5)" d="M17 0 L-14 -11 L-14 11 Z" fill="#080c08"/>
<path transform="translate(2453.1 1831.3) rotate(-170.6)" d="M17 0 L-14 -11 L-14 11 Z" fill="#080c08"/>
<path transform="translate(2441.5 1869.2) rotate(-172.8)" d="M17 0 L-14 -11 L-14 11 Z" fill="#080c08"/>
<path transform="translate(2541.4 1859.3) rotate(161.9)" d="M17 0 L-14 -11 L-14 11 Z" fill="#080c08"/>
<path transform="translate(2604.2 1870.6) rotate(175.7)" d="M17 0 L-14 -11 L-14 11 Z" fill="#080c08"/>
<path transform="translate(2841.0 1845.4) rotate(154.2)" d="M17 0 L-14 -11 L-14 11 Z" fill="#080c08"/>
<path transform="translate(2122.4 1679.2) rotate(-97.8)" d="M17 0 L-14 -11 L-14 11 Z" fill="#080c08"/>
<path transform="translate(2249.9 1896.7) rotate(-170.9)" d="M17 0 L-14 -11 L-14 11 Z" fill="#080c08"/>
<path transform="translate(2691.1 1769.0) rotate(167.1)" d="M17 0 L-14 -11 L-14 11 Z" fill="#080c08"/>
<path transform="translate(3150.7 1695.1) rotate(151.6)" d="M17 0 L-14 -11 L-14 11 Z" fill="#080c08"/>
<path transform="translate(3329.9 1653.5) rotate(150.9)" d="M17 0 L-14 -11 L-14 11 Z" fill="#080c08"/>
<path transform="translate(3565.3 1430.6) rotate(148.1)" d="M17 0 L-14 -11 L-14 11 Z" fill="#080c08"/>
<path transform="translate(3624.6 1334.7) rotate(146.7)" d="M17 0 L-14 -11 L-14 11 Z" fill="#080c08"/>
</g>
<path d="M3766.4 1345.2 L1983.7 2308.4 L2089.0 1563.0 L3875.0 598.5 L3771 1325" fill="none" stroke="#000" stroke-width="1.7"/>
<line x1="1017" y1="2431.5" x2="4595" y2="495.4" stroke="#000" stroke-width="2.4" stroke-dasharray="34 9 5 9"/>
<line x1="2178" y1="1128" x2="2650" y2="1263" stroke="#000" stroke-width="2.2"/>
<line x1="2180.0" y1="1109.4" x2="2176.6" y2="1146.7" stroke="#111" stroke-width="7"/>
<line x1="2429.3" y1="1182.8" x2="2425.8" y2="1220.0" stroke="#111" stroke-width="7"/>
<line x1="2651.8" y1="1245.2" x2="2648.3" y2="1280.6" stroke="#111" stroke-width="7"/>
<text transform="translate(2219,1127) rotate(13.2)" font-family="Liberation Serif, serif" font-size="59" letter-spacing="2.6">400 mm</text>
<text transform="translate(2447,1196) rotate(13.2)" font-family="Liberation Serif, serif" font-size="59" letter-spacing="2.6">400 mm</text>
<path d="M1780 1549 H1851 V914 H1790" fill="none" stroke="#000" stroke-width="3"/>
<path d="M1720.0 914.0 L1834.0 891.0 L1793.0 914.0 L1834.0 937.0 Z" fill="#000"/>
<path d="M2000 1721 V1954.5 H1232" fill="none" stroke="#000" stroke-width="3"/>
<path d="M1162.5 1954.5 L1276.5 1931.5 L1235.5 1954.5 L1276.5 1977.5 Z" fill="#000"/>
<path d="M2229.5 1775 V2051 H3240" fill="none" stroke="#000" stroke-width="3"/>
<path d="M3307.6 2051.0 L3193.6 2028.0 L3234.6 2051.0 L3193.6 2074.0 Z" fill="#000"/>
<circle cx="1780.0" cy="1549.0" r="22.5" fill="#000"/>
<circle cx="2000.5" cy="1721.0" r="22.5" fill="#000"/>
<circle cx="2233.6" cy="1774.5" r="22.5" fill="#000"/>
<line x1="1014.5" y1="365.5" x2="1014.5" y2="1057.7" stroke="#bdbdbd" stroke-width="2.4"/>
<line x1="1184.4" y1="365.5" x2="1184.4" y2="1057.7" stroke="#bdbdbd" stroke-width="2.4"/>
<line x1="1354.4" y1="365.5" x2="1354.4" y2="1057.7" stroke="#bdbdbd" stroke-width="2.4"/>
<line x1="1524.3" y1="365.5" x2="1524.3" y2="1057.7" stroke="#bdbdbd" stroke-width="2.4"/>
<line x1="844.5" y1="538.5" x2="1694.3" y2="538.5" stroke="#bdbdbd" stroke-width="2.4"/>
<line x1="844.5" y1="711.6" x2="1694.3" y2="711.6" stroke="#bdbdbd" stroke-width="2.4"/>
<line x1="844.5" y1="884.7" x2="1694.3" y2="884.7" stroke="#bdbdbd" stroke-width="2.4"/>
<line x1="1014.5" y1="1057.7" x2="1014.5" y2="1027.7" stroke="#000" stroke-width="4"/>
<line x1="1184.4" y1="1057.7" x2="1184.4" y2="1027.7" stroke="#000" stroke-width="4"/>
<line x1="1354.4" y1="1057.7" x2="1354.4" y2="1027.7" stroke="#000" stroke-width="4"/>
<line x1="1524.3" y1="1057.7" x2="1524.3" y2="1027.7" stroke="#000" stroke-width="4"/>
<line x1="844.5" y1="538.5" x2="874.5" y2="538.5" stroke="#000" stroke-width="4"/>
<line x1="844.5" y1="711.6" x2="874.5" y2="711.6" stroke="#000" stroke-width="4"/>
<line x1="844.5" y1="884.7" x2="874.5" y2="884.7" stroke="#000" stroke-width="4"/>
<rect x="844.5" y="365.5" width="849.8" height="692.2" fill="none" stroke="#000" stroke-width="5"/>
<path d="M1694.3 767.5 L1687.1 742.7 L1677.3 723.7 L1664.1 714.2 L1656.5 704.7 L1637.4 692.6 L1610.7 683.9 L1583.8 678.2 L1553.2 670.6 L1511.6 664.0 L1488.6 657.3 L1458.1 653.5 L1412.2 649.6 L1354.4 644.6 L1309.3 636.3 L1281.3 635.5 L1249.0 633.6 L1210.8 631.3 L1184.4 628.7 L1157.7 624.9 L1135.1 623.0 L1096.9 621.1 L1058.6 618.5 L1032.0 615.4 L1014.5 612.8 L997.5 608.5 L982.2 604.7 L966.9 602.1 L953.9 596.3 L940.5 593.2 L925.2 589.6 L915.8 583.0 L902.3 578.5 L891.0 571.6 L879.6 567.1 L868.1 558.3 L856.7 548.1 L851.0 537.3 L846.0 528.2 L847.5 677.0 L849.1 817.0 L852.1 817.0 L854.7 784.6 L858.6 761.8 L864.3 754.9 L875.8 759.9 L887.0 775.1 L898.6 788.4 L912.0 801.8 L921.5 822.7 L931.0 841.7 L944.4 866.5 L953.9 875.8 L961.5 889.1 L967.2 900.6 L976.7 910.1 L988.1 913.9 L1001.5 920.8 L1014.1 922.4 L1022.4 919.6 L1026.3 913.9 L1032.0 915.8 L1037.7 904.4 L1045.3 885.3 L1051.0 864.6 L1053.0 847.4 L1062.5 832.2 L1070.1 817.0 L1077.7 799.9 L1085.3 790.3 L1096.8 780.1 L1108.2 777.0 L1127.2 777.0 L1142.5 777.0 L1157.7 773.9 L1172.9 772.5 L1184.4 772.5 L1199.7 775.1 L1222.5 776.3 L1249.0 780.1 L1281.3 785.8 L1286.4 786.5 L1332.3 797.2 L1354.4 800.5 L1393.5 804.4 L1454.4 804.4 L1488.6 799.1 L1524.3 789.1 L1553.7 780.8 L1584.3 772.5 L1611.0 767.5 L1637.8 762.6 L1656.9 759.2 L1668.4 760.7 L1683.7 765.6 L1694.3 769.4" fill="none" stroke="#ec6b68" stroke-width="8.5" stroke-linejoin="round" stroke-linecap="round"/>
<text x="813.5" y="406.2" font-family="Liberation Serif, serif" font-size="96" text-anchor="end">2</text>
<text x="812.5" y="579.0" font-family="Liberation Serif, serif" font-size="96" text-anchor="end">1</text>
<text x="812.3" y="745.7" font-family="Liberation Serif, serif" font-size="96" text-anchor="end">0</text>
<text x="809.0" y="920.6" font-family="Liberation Serif, serif" font-size="96" text-anchor="end">−1</text>
<text x="810.0" y="1092.4" font-family="Liberation Serif, serif" font-size="96" text-anchor="end">−2</text>
<text x="845.5" y="1152.2" font-family="Liberation Serif, serif" font-size="96" text-anchor="middle">0</text>
<text x="1015.5" y="1152.2" font-family="Liberation Serif, serif" font-size="96" text-anchor="middle">0.2</text>
<text x="1185.4" y="1152.2" font-family="Liberation Serif, serif" font-size="96" text-anchor="middle">0.4</text>
<text x="1355.4" y="1152.2" font-family="Liberation Serif, serif" font-size="96" text-anchor="middle">0.6</text>
<text x="1525.3" y="1152.2" font-family="Liberation Serif, serif" font-size="96" text-anchor="middle">0.8</text>
<text x="1700.3" y="1152.2" font-family="Liberation Serif, serif" font-size="96" text-anchor="middle">1.0</text>
<text x="1273.4" y="1260.7" font-family="Liberation Serif, serif" font-size="98" font-style="italic" text-anchor="middle">x/c</text>
<g transform="translate(628.3,759.5) rotate(-90)"><text x="0" y="0" font-family="Liberation Serif, serif" font-size="98" font-style="italic">C</text><text x="63.5" y="20.8" font-family="Liberation Serif, serif" font-size="65">P</text></g>
<line x1="448.5" y1="1436.1" x2="448.5" y2="2137.8" stroke="#bdbdbd" stroke-width="2.4"/>
<line x1="618.7" y1="1436.1" x2="618.7" y2="2137.8" stroke="#bdbdbd" stroke-width="2.4"/>
<line x1="788.8" y1="1436.1" x2="788.8" y2="2137.8" stroke="#bdbdbd" stroke-width="2.4"/>
<line x1="959.0" y1="1436.1" x2="959.0" y2="2137.8" stroke="#bdbdbd" stroke-width="2.4"/>
<line x1="278.3" y1="1611.5" x2="1129.2" y2="1611.5" stroke="#bdbdbd" stroke-width="2.4"/>
<line x1="278.3" y1="1787.0" x2="1129.2" y2="1787.0" stroke="#bdbdbd" stroke-width="2.4"/>
<line x1="278.3" y1="1962.4" x2="1129.2" y2="1962.4" stroke="#bdbdbd" stroke-width="2.4"/>
<line x1="448.5" y1="2137.8" x2="448.5" y2="2107.8" stroke="#000" stroke-width="4"/>
<line x1="618.7" y1="2137.8" x2="618.7" y2="2107.8" stroke="#000" stroke-width="4"/>
<line x1="788.8" y1="2137.8" x2="788.8" y2="2107.8" stroke="#000" stroke-width="4"/>
<line x1="959.0" y1="2137.8" x2="959.0" y2="2107.8" stroke="#000" stroke-width="4"/>
<line x1="278.3" y1="1611.5" x2="308.3" y2="1611.5" stroke="#000" stroke-width="4"/>
<line x1="278.3" y1="1787.0" x2="308.3" y2="1787.0" stroke="#000" stroke-width="4"/>
<line x1="278.3" y1="1962.4" x2="308.3" y2="1962.4" stroke="#000" stroke-width="4"/>
<rect x="278.3" y="1436.1" width="850.9" height="701.7" fill="none" stroke="#000" stroke-width="5"/>
<path d="M1129.2 1860.3 L1122.1 1838.0 L1113.9 1811.9 L1102.7 1799.2 L1088.8 1785.3 L1072.2 1777.0 L1044.1 1768.7 L999.9 1759.2 L958.2 1751.9 L916.5 1743.6 L850.1 1738.1 L788.8 1732.6 L728.0 1725.2 L709.7 1725.4 L676.5 1722.0 L648.4 1720.3 L618.2 1717.6 L576.5 1710.9 L537.8 1707.6 L504.4 1705.4 L471.0 1703.1 L447.1 1699.2 L421.1 1689.8 L404.2 1687.0 L393.2 1681.5 L376.6 1677.0 L360.0 1673.1 L346.0 1664.3 L332.2 1657.7 L315.5 1648.2 L304.4 1638.2 L293.3 1627.1 L284.9 1615.9 L280.9 1595.4 L282.6 1769.4 L284.9 1926.8 L287.7 1926.8 L290.6 1893.6 L296.1 1890.8 L301.6 1876.9 L312.8 1874.1 L323.8 1880.8 L337.9 1896.2 L348.9 1907.5 L365.5 1938.0 L382.1 1974.0 L398.8 2001.8 L415.3 2023.9 L432.3 2046.2 L447.1 2060.1 L462.7 2068.3 L471.0 2063.9 L480.8 2073.9 L490.2 2068.3 L498.7 2057.3 L504.4 2040.6 L509.7 2026.8 L518.3 2001.8 L526.8 1979.6 L537.8 1949.0 L546.0 1924.1 L554.3 1906.2 L571.0 1888.0 L587.7 1871.3 L604.2 1863.0 L618.2 1860.3 L648.4 1860.3 L676.5 1863.0 L709.7 1867.5 L788.8 1876.9 L822.0 1879.7 L889.0 1879.7 L958.2 1881.3 L988.8 1879.7 L1044.1 1875.2 L1061.1 1868.5 L1083.3 1863.0 L1111.0 1858.5 L1129.2 1860.3" fill="none" stroke="#ec6b68" stroke-width="8.5" stroke-linejoin="round" stroke-linecap="round"/>
<text x="251.5" y="1476.5" font-family="Liberation Serif, serif" font-size="96" text-anchor="end">2</text>
<text x="250.5" y="1648.7" font-family="Liberation Serif, serif" font-size="96" text-anchor="end">1</text>
<text x="250.1" y="1816.2" font-family="Liberation Serif, serif" font-size="96" text-anchor="end">0</text>
<text x="247.5" y="1990.2" font-family="Liberation Serif, serif" font-size="96" text-anchor="end">−1</text>
<text x="248.5" y="2162.0" font-family="Liberation Serif, serif" font-size="96" text-anchor="end">−2</text>
<text x="279.3" y="2232.3" font-family="Liberation Serif, serif" font-size="96" text-anchor="middle">0</text>
<text x="449.5" y="2232.3" font-family="Liberation Serif, serif" font-size="96" text-anchor="middle">0.2</text>
<text x="619.7" y="2232.3" font-family="Liberation Serif, serif" font-size="96" text-anchor="middle">0.4</text>
<text x="789.8" y="2232.3" font-family="Liberation Serif, serif" font-size="96" text-anchor="middle">0.6</text>
<text x="960.0" y="2232.3" font-family="Liberation Serif, serif" font-size="96" text-anchor="middle">0.8</text>
<text x="1135.2" y="2232.3" font-family="Liberation Serif, serif" font-size="96" text-anchor="middle">1.0</text>
<text x="712.8" y="2340.8" font-family="Liberation Serif, serif" font-size="98" font-style="italic" text-anchor="middle">x/c</text>
<g transform="translate(66.5,1829.3) rotate(-90)"><text x="0" y="0" font-family="Liberation Serif, serif" font-size="98" font-style="italic">C</text><text x="63.5" y="20.8" font-family="Liberation Serif, serif" font-size="65">P</text></g>
<line x1="3738.9" y1="1537.8" x2="3738.9" y2="2232.2" stroke="#bdbdbd" stroke-width="2.4"/>
<line x1="3909.4" y1="1537.8" x2="3909.4" y2="2232.2" stroke="#bdbdbd" stroke-width="2.4"/>
<line x1="4080.0" y1="1537.8" x2="4080.0" y2="2232.2" stroke="#bdbdbd" stroke-width="2.4"/>
<line x1="4250.5" y1="1537.8" x2="4250.5" y2="2232.2" stroke="#bdbdbd" stroke-width="2.4"/>
<line x1="3568.3" y1="1711.4" x2="4421.1" y2="1711.4" stroke="#bdbdbd" stroke-width="2.4"/>
<line x1="3568.3" y1="1885.0" x2="4421.1" y2="1885.0" stroke="#bdbdbd" stroke-width="2.4"/>
<line x1="3568.3" y1="2058.6" x2="4421.1" y2="2058.6" stroke="#bdbdbd" stroke-width="2.4"/>
<line x1="3738.9" y1="2232.2" x2="3738.9" y2="2202.2" stroke="#000" stroke-width="4"/>
<line x1="3909.4" y1="2232.2" x2="3909.4" y2="2202.2" stroke="#000" stroke-width="4"/>
<line x1="4080.0" y1="2232.2" x2="4080.0" y2="2202.2" stroke="#000" stroke-width="4"/>
<line x1="4250.5" y1="2232.2" x2="4250.5" y2="2202.2" stroke="#000" stroke-width="4"/>
<line x1="3568.3" y1="1711.4" x2="3598.3" y2="1711.4" stroke="#000" stroke-width="4"/>
<line x1="3568.3" y1="1885.0" x2="3598.3" y2="1885.0" stroke="#000" stroke-width="4"/>
<line x1="3568.3" y1="2058.6" x2="3598.3" y2="2058.6" stroke="#000" stroke-width="4"/>
<rect x="3568.3" y="1537.8" width="852.8" height="694.4" fill="none" stroke="#000" stroke-width="5"/>
<path d="M4421.1 1955.5 L4417.7 1941.6 L4409.2 1924.9 L4395.5 1913.8 L4375.9 1907.2 L4351.2 1902.8 L4306.8 1900.0 L4250.5 1898.9 L4156.7 1897.8 L4080.0 1896.1 L4042.1 1895.0 L3997.3 1892.8 L3964.0 1890.0 L3935.9 1887.2 L3909.4 1881.7 L3886.0 1877.8 L3852.3 1873.4 L3819.0 1868.3 L3791.2 1863.9 L3763.4 1859.5 L3740.0 1853.9 L3713.3 1846.1 L3690.9 1841.6 L3668.6 1834.5 L3651.9 1827.7 L3638.0 1819.4 L3629.7 1817.8 L3621.2 1811.1 L3607.4 1804.4 L3599.0 1794.4 L3587.8 1788.8 L3579.4 1786.0 L3575.0 1733.3 L3571.1 1686.1 L3575.1 1885.0 L3579.4 2066.6 L3583.9 2072.1 L3587.8 2061.0 L3591.8 2022.1 L3596.2 2008.3 L3606.2 1992.8 L3632.3 1992.8 L3649.1 1998.4 L3665.9 2005.5 L3679.8 2010.0 L3690.9 2016.6 L3702.2 2023.9 L3718.8 2026.7 L3726.9 2027.7 L3732.9 2036.0 L3752.2 2047.1 L3768.7 2055.5 L3779.8 2062.1 L3794.0 2066.6 L3805.4 2062.1 L3816.5 2065.5 L3827.6 2072.1 L3844.2 2069.4 L3858.3 2065.5 L3871.9 2067.8 L3886.0 2060.0 L3902.6 2055.5 L3924.8 2051.7 L3935.9 2053.9 L3944.4 2047.1 L3952.9 2057.2 L3969.6 2053.9 L3985.3 2049.9 L3994.7 2055.5 L4016.9 2054.4 L4034.4 2062.1 L4053.5 2069.4 L4080.0 2073.9 L4101.3 2082.2 L4128.6 2086.0 L4150.8 2083.3 L4173.3 2077.7 L4201.1 2063.8 L4228.9 2047.1 L4250.5 2036.0 L4273.3 2022.1 L4295.7 2008.3 L4323.3 1993.3 L4351.2 1981.7 L4378.9 1973.4 L4401.1 1966.6 L4421.1 1955.5" fill="none" stroke="#ec6b68" stroke-width="8.5" stroke-linejoin="round" stroke-linecap="round"/>
<text x="3545.2" y="1569.8" font-family="Liberation Serif, serif" font-size="96" text-anchor="end">2</text>
<text x="3545.2" y="1742.3" font-family="Liberation Serif, serif" font-size="96" text-anchor="end">1</text>
<text x="3544.2" y="1909.4" font-family="Liberation Serif, serif" font-size="96" text-anchor="end">0</text>
<text x="3541.3" y="2083.0" font-family="Liberation Serif, serif" font-size="96" text-anchor="end">−1</text>
<text x="3542.3" y="2254.8" font-family="Liberation Serif, serif" font-size="96" text-anchor="end">−2</text>
<text x="3569.3" y="2326.7" font-family="Liberation Serif, serif" font-size="96" text-anchor="middle">0</text>
<text x="3739.9" y="2326.7" font-family="Liberation Serif, serif" font-size="96" text-anchor="middle">0.2</text>
<text x="3910.4" y="2326.7" font-family="Liberation Serif, serif" font-size="96" text-anchor="middle">0.4</text>
<text x="4081.0" y="2326.7" font-family="Liberation Serif, serif" font-size="96" text-anchor="middle">0.6</text>
<text x="4251.5" y="2326.7" font-family="Liberation Serif, serif" font-size="96" text-anchor="middle">0.8</text>
<text x="4427.1" y="2326.7" font-family="Liberation Serif, serif" font-size="96" text-anchor="middle">1.0</text>
<text x="3999.7" y="2435.2" font-family="Liberation Serif, serif" font-size="98" font-style="italic" text-anchor="middle">x/c</text>
<g transform="translate(3360.5,1922.0) rotate(-90)"><text x="0" y="0" font-family="Liberation Serif, serif" font-size="98" font-style="italic">C</text><text x="63.5" y="20.8" font-family="Liberation Serif, serif" font-size="65">P</text></g>
<rect x="1245.5" y="9" width="56" height="45" fill="#0000ff" stroke="#70708a" stroke-width="3"/>
<rect x="3303" y="9" width="55.5" height="45" fill="#ff0000" stroke="#70708a" stroke-width="3"/>
<rect x="1301.5" y="2.5" width="2002" height="57" fill="url(#cb)" stroke="#6a6a70" stroke-width="3"/>
<rect x="1304.5" y="59" width="5" height="4.5" fill="#222"/>
<rect x="1802.9" y="59" width="5" height="4.5" fill="#222"/>
<rect x="2301.3" y="59" width="5" height="4.5" fill="#222"/>
<rect x="2799.7" y="59" width="5" height="4.5" fill="#222"/>
<rect x="3298.1" y="59" width="5" height="4.5" fill="#222"/>
<text x="1301.7" y="156" font-family="Liberation Serif, serif" font-size="96" text-anchor="middle">83.22</text>
<text x="1803.5" y="156" font-family="Liberation Serif, serif" font-size="96" text-anchor="middle">91.27</text>
<text x="2300.5" y="156" font-family="Liberation Serif, serif" font-size="96" text-anchor="middle">99.32</text>
<text x="2798.0" y="156" font-family="Liberation Serif, serif" font-size="96" text-anchor="middle">105.36</text>
<text x="3282.0" y="156" font-family="Liberation Serif, serif" font-size="96" text-anchor="middle">111.39</text>
<text x="2176" y="293.4" font-family="Liberation Serif, serif" font-size="96"><tspan font-style="italic">P</tspan>/kPa</text>
<g fill="#000"><text x="4030" y="918" font-family="'Liberation Serif', 'Noto Serif CJK SC', serif" font-size="95">列车</text>
<text x="4030" y="1025" font-family="'Liberation Serif', 'Noto Serif CJK SC', serif" font-size="95">模型</text></g>
</svg>
</body></html>
